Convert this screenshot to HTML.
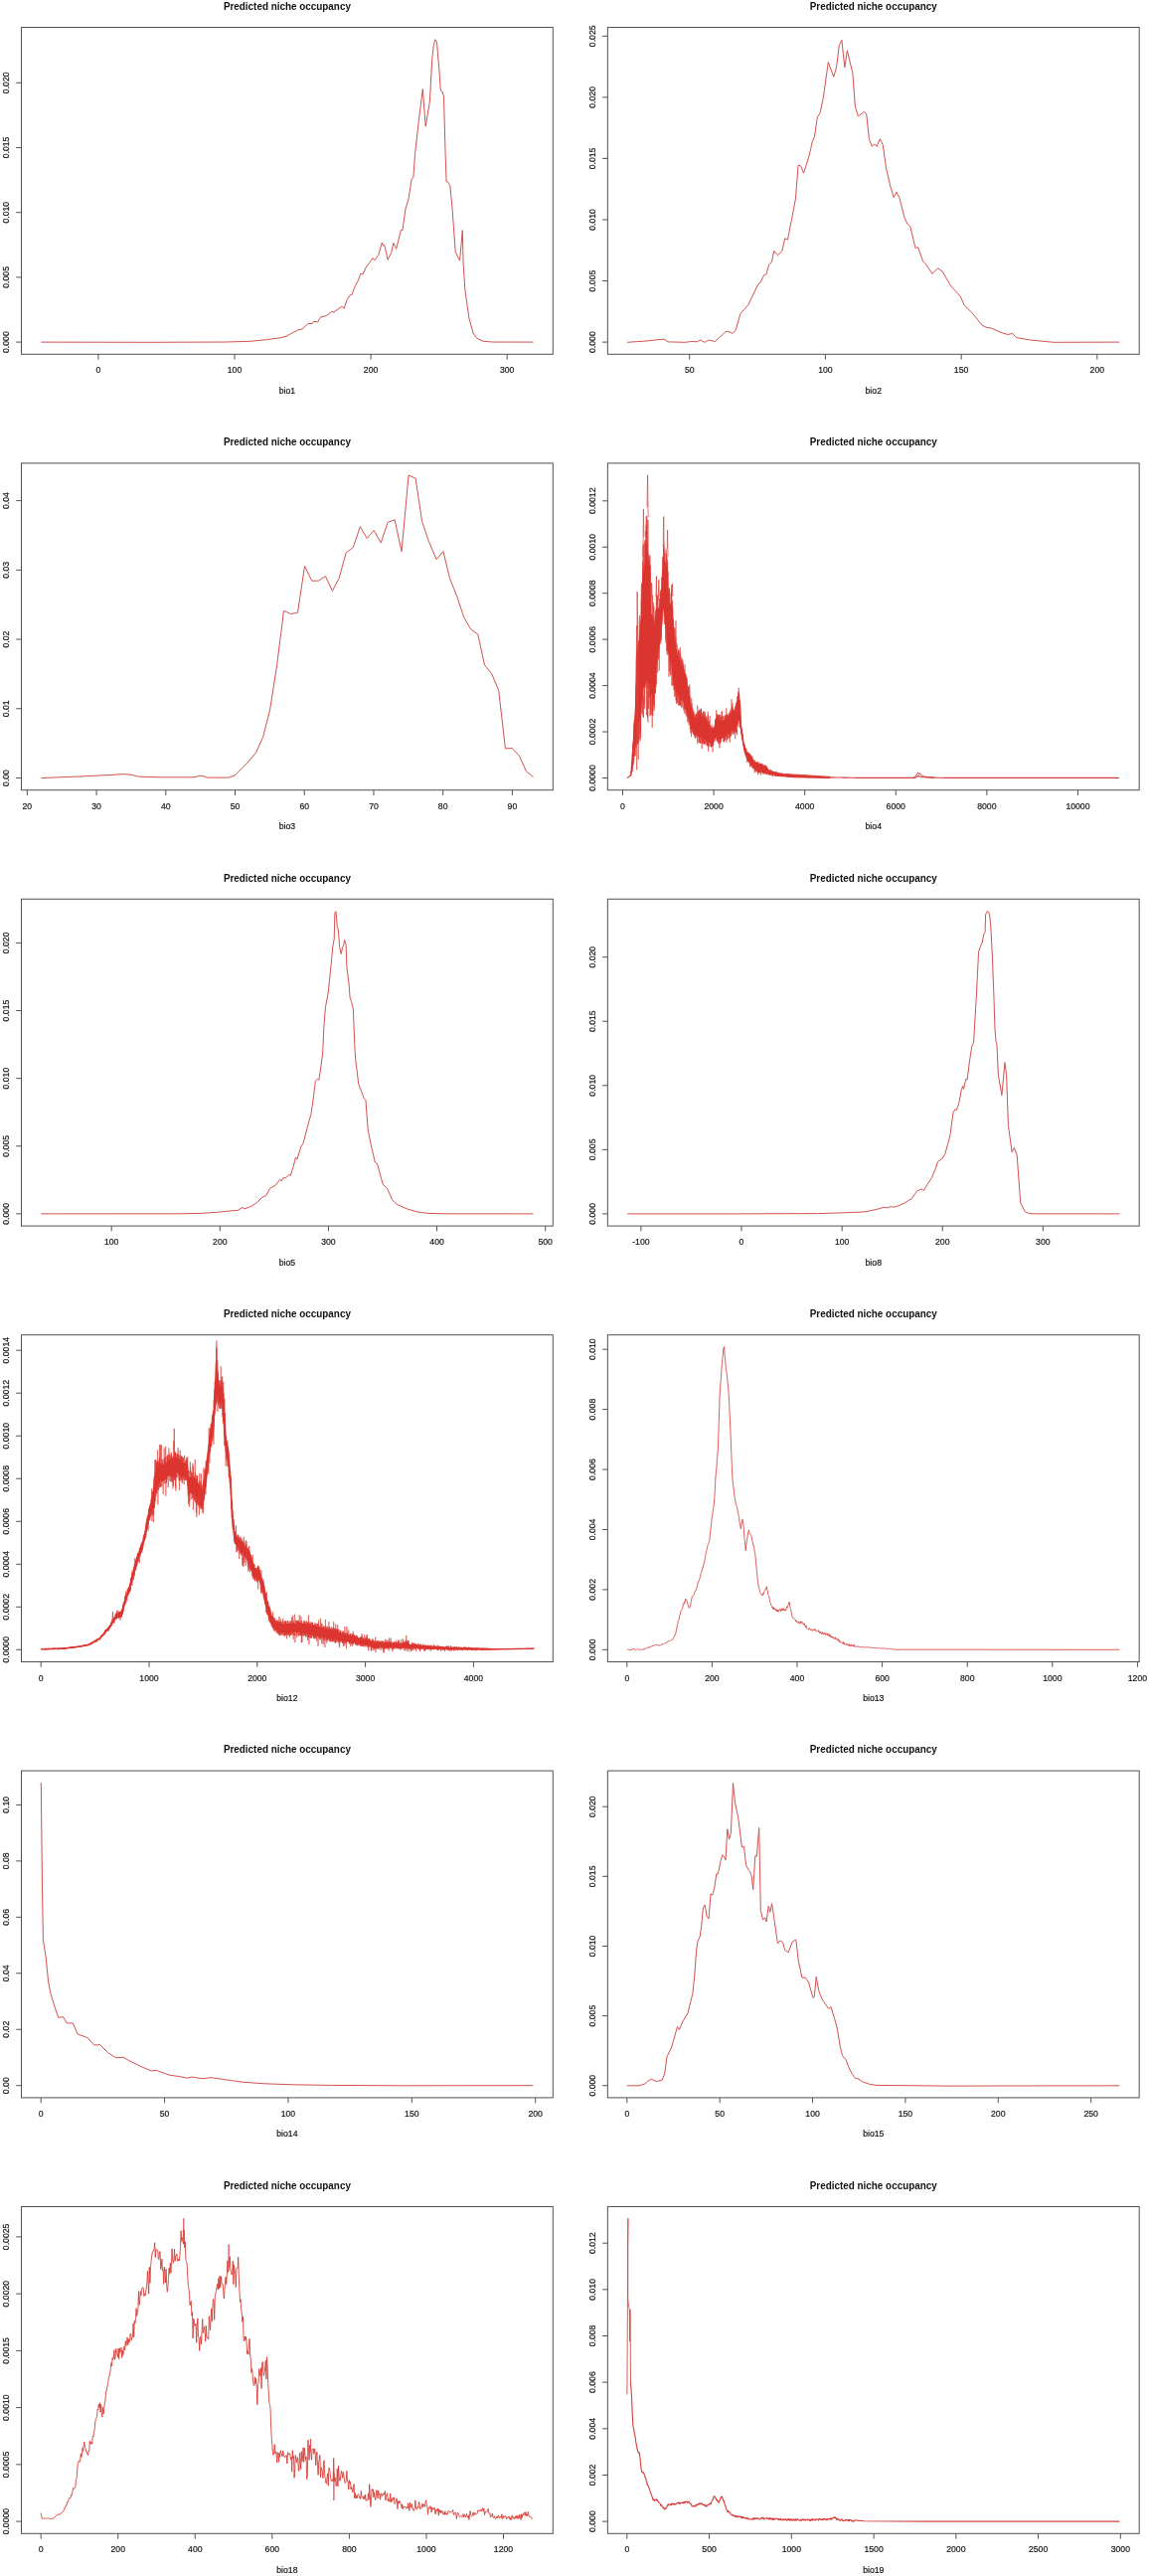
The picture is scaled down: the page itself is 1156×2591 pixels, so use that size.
<!DOCTYPE html><html><head><meta charset="utf-8"><style>html,body{margin:0;padding:0;background:#fff;}svg{display:block;will-change:transform;}text{font-family:"Liberation Sans",sans-serif;stroke:#222;stroke-width:0.22px;}</style></head><body>
<svg width="1156" height="2591" viewBox="0 0 1156 2591">
<rect width="1156" height="2591" fill="#fff"/>
<g transform="translate(0.00,0.00)">
<text transform="translate(288.9,9.8) scale(0.99,1)" font-size="10.0" font-weight="bold" style="stroke:none" text-anchor="middle" fill="#111">Predicted niche occupancy</text>
<rect x="21.5" y="27.5" width="534.8" height="328.8" fill="none" stroke="#4d5257" stroke-width="1"/>
<text transform="translate(98.90,375.4) scale(0.905,1)" font-size="9.6" text-anchor="middle" fill="#111">0</text>
<text transform="translate(236.00,375.4) scale(0.905,1)" font-size="9.6" text-anchor="middle" fill="#111">100</text>
<text transform="translate(373.10,375.4) scale(0.905,1)" font-size="9.6" text-anchor="middle" fill="#111">200</text>
<text transform="translate(510.20,375.4) scale(0.905,1)" font-size="9.6" text-anchor="middle" fill="#111">300</text>
<text transform="translate(8.9,344.10) rotate(-90) scale(0.905,1)" font-size="9.6" text-anchor="middle" fill="#111">0.000</text>
<text transform="translate(8.9,278.90) rotate(-90) scale(0.905,1)" font-size="9.6" text-anchor="middle" fill="#111">0.005</text>
<text transform="translate(8.9,213.70) rotate(-90) scale(0.905,1)" font-size="9.6" text-anchor="middle" fill="#111">0.010</text>
<text transform="translate(8.9,148.50) rotate(-90) scale(0.905,1)" font-size="9.6" text-anchor="middle" fill="#111">0.015</text>
<text transform="translate(8.9,83.30) rotate(-90) scale(0.905,1)" font-size="9.6" text-anchor="middle" fill="#111">0.020</text>
<path d="M98.90 356.3V361.60M236.00 356.3V361.60M373.10 356.3V361.60M510.20 356.3V361.60M16.20 344.10H21.5M16.20 278.90H21.5M16.20 213.70H21.5M16.20 148.50H21.5M16.20 83.30H21.5" stroke="#4d5257" stroke-width="1" fill="none"/>
<text transform="translate(288.9,395.8) scale(0.905,1)" font-size="9.6" text-anchor="middle" fill="#111">bio1</text>
</g>
<path d="M41.3 344.1 L150.0 344.3 L228.0 344.0 L252.0 343.3 L267.5 341.7 L280.0 340.1 L288.0 338.3 L292.6 335.7 L300.0 331.8 L303.9 331.0 L310.2 325.5 L314.1 325.5 L315.7 323.2 L319.6 324.0 L322.7 318.8 L328.2 317.7 L333.7 313.5 L336.0 313.8 L343.9 308.3 L346.2 310.3 L349.3 301.2 L352.5 296.5 L354.0 296.5 L357.2 287.9 L360.3 282.4 L362.7 275.4 L365.0 275.9 L368.1 269.1 L371.3 264.9 L374.9 259.7 L376.8 261.8 L380.7 256.6 L384.3 244.0 L385.4 247.2 L386.9 246.4 L390.1 261.3 L393.7 254.2 L395.9 244.5 L398.7 250.3 L403.4 231.5 L405.0 231.5 L407.8 211.1 L411.2 199.4 L414.1 180.4 L415.9 178.1 L417.5 155.3 L421.4 120.9 L425.3 89.5 L428.2 127.1 L432.4 102.1 L434.7 59.8 L436.3 45.7 L437.9 39.7 L439.4 41.8 L441.8 69.2 L443.3 91.1 L444.9 91.9 L446.5 97.4 L448.1 155.3 L449.1 182.8 L450.4 182.8 L452.8 186.7 L455.1 210.4 L458.2 253.4 L462.6 262.1 L465.3 231.5 L466.1 265.2 L467.9 291.8 L471.9 320.0 L476.3 335.7 L480.0 340.4 L486.0 343.2 L495.0 344.0 L536.5 344.1" fill="none" stroke="#d4504e" stroke-width="1.0" stroke-linejoin="round" stroke-opacity="1.0"/>
<g transform="translate(589.85,0.00)">
<text transform="translate(288.9,9.8) scale(0.99,1)" font-size="10.0" font-weight="bold" style="stroke:none" text-anchor="middle" fill="#111">Predicted niche occupancy</text>
<rect x="21.5" y="27.5" width="534.8" height="328.8" fill="none" stroke="#4d5257" stroke-width="1"/>
<text transform="translate(103.85,375.4) scale(0.905,1)" font-size="9.6" text-anchor="middle" fill="#111">50</text>
<text transform="translate(240.55,375.4) scale(0.905,1)" font-size="9.6" text-anchor="middle" fill="#111">100</text>
<text transform="translate(377.25,375.4) scale(0.905,1)" font-size="9.6" text-anchor="middle" fill="#111">150</text>
<text transform="translate(513.95,375.4) scale(0.905,1)" font-size="9.6" text-anchor="middle" fill="#111">200</text>
<text transform="translate(8.9,344.10) rotate(-90) scale(0.905,1)" font-size="9.6" text-anchor="middle" fill="#111">0.000</text>
<text transform="translate(8.9,282.54) rotate(-90) scale(0.905,1)" font-size="9.6" text-anchor="middle" fill="#111">0.005</text>
<text transform="translate(8.9,220.98) rotate(-90) scale(0.905,1)" font-size="9.6" text-anchor="middle" fill="#111">0.010</text>
<text transform="translate(8.9,159.42) rotate(-90) scale(0.905,1)" font-size="9.6" text-anchor="middle" fill="#111">0.015</text>
<text transform="translate(8.9,97.86) rotate(-90) scale(0.905,1)" font-size="9.6" text-anchor="middle" fill="#111">0.020</text>
<text transform="translate(8.9,36.30) rotate(-90) scale(0.905,1)" font-size="9.6" text-anchor="middle" fill="#111">0.025</text>
<path d="M103.85 356.3V361.60M240.55 356.3V361.60M377.25 356.3V361.60M513.95 356.3V361.60M16.20 344.10H21.5M16.20 282.54H21.5M16.20 220.98H21.5M16.20 159.42H21.5M16.20 97.86H21.5M16.20 36.30H21.5" stroke="#4d5257" stroke-width="1" fill="none"/>
<text transform="translate(288.9,395.8) scale(0.905,1)" font-size="9.6" text-anchor="middle" fill="#111">bio2</text>
</g>
<path d="M631.0 344.3 L650.0 343.0 L668.0 341.1 L672.4 343.9 L689.4 344.3 L695.7 343.5 L701.1 343.8 L704.8 342.0 L709.0 344.3 L712.9 342.0 L719.2 343.5 L724.6 338.8 L729.8 333.8 L732.5 333.3 L737.2 335.4 L740.3 331.8 L745.0 315.3 L752.8 306.7 L756.8 298.1 L762.2 287.1 L765.4 283.2 L768.5 276.9 L770.9 275.9 L773.7 266.0 L776.4 263.6 L778.7 252.4 L782.6 256.6 L786.8 252.7 L789.7 239.8 L792.5 240.9 L796.7 219.8 L800.4 200.0 L803.1 166.3 L805.4 166.6 L808.6 174.1 L814.0 156.9 L817.2 142.8 L819.5 137.3 L822.4 117.7 L825.0 113.8 L828.2 98.9 L833.3 62.6 L838.8 77.3 L841.5 67.6 L844.3 45.7 L846.9 40.2 L849.8 67.9 L852.4 50.8 L857.9 73.9 L860.3 106.8 L863.4 116.9 L869.4 112.3 L871.7 114.6 L874.4 139.7 L877.2 147.2 L879.9 145.1 L882.2 147.2 L885.3 139.7 L888.2 145.6 L891.6 169.4 L896.0 188.2 L899.1 198.6 L901.9 193.1 L905.1 199.4 L909.8 218.2 L912.9 225.2 L915.7 227.6 L921.0 249.5 L923.6 248.7 L928.6 262.8 L931.7 266.0 L938.0 275.4 L943.5 269.9 L948.1 273.0 L956.8 287.9 L966.2 298.1 L970.1 306.7 L977.9 314.6 L988.1 327.1 L992.8 329.4 L997.5 330.2 L1008.5 334.9 L1013.9 336.5 L1018.6 335.4 L1022.6 339.6 L1036.7 342.0 L1060.0 344.3 L1126.4 344.1" fill="none" stroke="#d4504e" stroke-width="1.0" stroke-linejoin="round" stroke-opacity="1.0"/>
<g transform="translate(0.00,438.40)">
<text transform="translate(288.9,9.8) scale(0.99,1)" font-size="10.0" font-weight="bold" style="stroke:none" text-anchor="middle" fill="#111">Predicted niche occupancy</text>
<rect x="21.5" y="27.5" width="534.8" height="328.8" fill="none" stroke="#4d5257" stroke-width="1"/>
<text transform="translate(27.35,375.4) scale(0.905,1)" font-size="9.6" text-anchor="middle" fill="#111">20</text>
<text transform="translate(97.07,375.4) scale(0.905,1)" font-size="9.6" text-anchor="middle" fill="#111">30</text>
<text transform="translate(166.79,375.4) scale(0.905,1)" font-size="9.6" text-anchor="middle" fill="#111">40</text>
<text transform="translate(236.51,375.4) scale(0.905,1)" font-size="9.6" text-anchor="middle" fill="#111">50</text>
<text transform="translate(306.24,375.4) scale(0.905,1)" font-size="9.6" text-anchor="middle" fill="#111">60</text>
<text transform="translate(375.96,375.4) scale(0.905,1)" font-size="9.6" text-anchor="middle" fill="#111">70</text>
<text transform="translate(445.68,375.4) scale(0.905,1)" font-size="9.6" text-anchor="middle" fill="#111">80</text>
<text transform="translate(515.40,375.4) scale(0.905,1)" font-size="9.6" text-anchor="middle" fill="#111">90</text>
<text transform="translate(8.9,344.10) rotate(-90) scale(0.905,1)" font-size="9.6" text-anchor="middle" fill="#111">0.00</text>
<text transform="translate(8.9,274.38) rotate(-90) scale(0.905,1)" font-size="9.6" text-anchor="middle" fill="#111">0.01</text>
<text transform="translate(8.9,204.65) rotate(-90) scale(0.905,1)" font-size="9.6" text-anchor="middle" fill="#111">0.02</text>
<text transform="translate(8.9,134.93) rotate(-90) scale(0.905,1)" font-size="9.6" text-anchor="middle" fill="#111">0.03</text>
<text transform="translate(8.9,65.20) rotate(-90) scale(0.905,1)" font-size="9.6" text-anchor="middle" fill="#111">0.04</text>
<path d="M27.35 356.3V361.60M97.07 356.3V361.60M166.79 356.3V361.60M236.51 356.3V361.60M306.24 356.3V361.60M375.96 356.3V361.60M445.68 356.3V361.60M515.40 356.3V361.60M16.20 344.10H21.5M16.20 274.38H21.5M16.20 204.65H21.5M16.20 134.93H21.5M16.20 65.20H21.5" stroke="#4d5257" stroke-width="1" fill="none"/>
<text transform="translate(288.9,395.8) scale(0.905,1)" font-size="9.6" text-anchor="middle" fill="#111">bio3</text>
</g>
<path d="M41.3 782.5 L80.0 781.0 L110.0 779.5 L125.3 778.6 L132.0 779.3 L139.3 781.1 L160.0 781.8 L194.9 781.8 L201.9 780.1 L209.0 782.1 L230.1 782.1 L236.4 779.8 L248.9 767.3 L257.5 757.1 L264.6 741.4 L271.6 714.0 L274.8 693.6 L278.7 668.6 L281.8 643.5 L283.7 630.0 L285.4 614.3 L292.6 617.5 L299.5 616.2 L306.5 569.4 L313.7 584.2 L320.3 584.2 L327.4 579.5 L334.4 594.4 L341.2 581.4 L348.2 555.9 L355.3 550.6 L362.3 529.7 L369.2 541.5 L376.2 533.6 L383.3 545.9 L390.0 525.5 L397.1 522.7 L404.0 554.7 L411.1 478.0 L418.1 481.1 L424.6 524.6 L431.4 544.5 L439.1 562.6 L446.0 554.6 L452.4 581.5 L459.9 600.2 L466.6 620.6 L473.8 633.1 L480.8 638.0 L487.5 668.9 L494.7 677.7 L501.7 694.4 L508.4 752.9 L515.3 752.5 L522.6 760.6 L529.5 775.9 L536.5 781.4" fill="none" stroke="#d4504e" stroke-width="1.0" stroke-linejoin="round" stroke-opacity="1.0"/>
<g transform="translate(589.85,438.40)">
<text transform="translate(288.9,9.8) scale(0.99,1)" font-size="10.0" font-weight="bold" style="stroke:none" text-anchor="middle" fill="#111">Predicted niche occupancy</text>
<rect x="21.5" y="27.5" width="534.8" height="328.8" fill="none" stroke="#4d5257" stroke-width="1"/>
<text transform="translate(36.65,375.4) scale(0.905,1)" font-size="9.6" text-anchor="middle" fill="#111">0</text>
<text transform="translate(128.24,375.4) scale(0.905,1)" font-size="9.6" text-anchor="middle" fill="#111">2000</text>
<text transform="translate(219.83,375.4) scale(0.905,1)" font-size="9.6" text-anchor="middle" fill="#111">4000</text>
<text transform="translate(311.42,375.4) scale(0.905,1)" font-size="9.6" text-anchor="middle" fill="#111">6000</text>
<text transform="translate(403.01,375.4) scale(0.905,1)" font-size="9.6" text-anchor="middle" fill="#111">8000</text>
<text transform="translate(494.60,375.4) scale(0.905,1)" font-size="9.6" text-anchor="middle" fill="#111">10000</text>
<text transform="translate(8.9,344.10) rotate(-90) scale(0.905,1)" font-size="9.6" text-anchor="middle" fill="#111">0.0000</text>
<text transform="translate(8.9,297.65) rotate(-90) scale(0.905,1)" font-size="9.6" text-anchor="middle" fill="#111">0.0002</text>
<text transform="translate(8.9,251.20) rotate(-90) scale(0.905,1)" font-size="9.6" text-anchor="middle" fill="#111">0.0004</text>
<text transform="translate(8.9,204.75) rotate(-90) scale(0.905,1)" font-size="9.6" text-anchor="middle" fill="#111">0.0006</text>
<text transform="translate(8.9,158.30) rotate(-90) scale(0.905,1)" font-size="9.6" text-anchor="middle" fill="#111">0.0008</text>
<text transform="translate(8.9,111.85) rotate(-90) scale(0.905,1)" font-size="9.6" text-anchor="middle" fill="#111">0.0010</text>
<text transform="translate(8.9,65.40) rotate(-90) scale(0.905,1)" font-size="9.6" text-anchor="middle" fill="#111">0.0012</text>
<path d="M36.65 356.3V361.60M128.24 356.3V361.60M219.83 356.3V361.60M311.42 356.3V361.60M403.01 356.3V361.60M494.60 356.3V361.60M16.20 344.10H21.5M16.20 297.65H21.5M16.20 251.20H21.5M16.20 204.75H21.5M16.20 158.30H21.5M16.20 111.85H21.5M16.20 65.40H21.5" stroke="#4d5257" stroke-width="1" fill="none"/>
<text transform="translate(288.9,395.8) scale(0.905,1)" font-size="9.6" text-anchor="middle" fill="#111">bio4</text>
</g>
<path d="M631.2 782.5 L634.8 779.4 L635.9 765.2 L636.0 763.7 L637.5 740.0 L638.0 732.6 L639.5 709.9 L640.0 678.6 L640.3 660.1 L641.5 654.0 L642.0 651.2 L643.2 644.6 L645.0 620.9 L645.3 616.3 L646.3 599.0 L646.5 592.5 L646.9 580.5 L648.4 572.1 L649.5 563.0 L651.0 546.5 L652.1 560.4 L653.9 570.9 L654.5 616.7 L655.0 617.4 L656.8 620.2 L657.7 626.6 L658.3 629.4 L659.6 616.3 L659.9 613.4 L662.4 611.6 L663.6 611.1 L665.3 596.2 L666.2 588.4 L667.2 560.8 L668.5 562.8 L668.8 564.3 L669.1 565.6 L671.4 570.9 L672.0 591.1 L672.4 604.2 L674.0 607.4 L675.6 608.0 L677.8 637.1 L678.7 643.5 L680.6 655.8 L681.6 658.7 L685.4 668.7 L688.3 673.6 L689.3 679.1 L691.2 689.9 L692.1 694.7 L694.0 704.8 L696.0 713.4 L696.9 717.0 L699.8 723.2 L703.6 719.5 L704.6 718.4 L707.4 720.9 L711.3 726.0 L713.2 728.9 L715.1 731.6 L717.0 734.2 L718.0 735.1 L719.9 725.7 L720.8 721.9 L723.7 724.2 L726.6 725.4 L727.5 724.8 L731.4 722.5 L732.3 721.3 L736.2 715.4 L740.0 715.0 L741.0 710.2 L743.3 697.0 L744.8 714.1 L745.7 730.7 L746.7 737.2 L748.6 749.6 L751.5 756.8 L755.3 761.0 L760.0 766.8 L767.0 770.3 L770.1 771.6 L774.8 775.6 L782.7 777.8 L790.5 779.2 L798.3 779.5 L798.3 781.3 L790.5 780.9 L782.7 780.3 L774.8 778.8 L770.1 777.4 L767.0 776.7 L760.0 774.1 L755.3 768.3 L751.5 763.0 L748.6 753.9 L746.7 742.2 L745.7 736.0 L744.8 728.1 L743.3 718.5 L741.0 731.0 L740.0 732.6 L736.2 734.5 L732.3 738.7 L731.4 739.4 L727.5 741.7 L726.6 742.4 L723.7 743.9 L720.8 739.9 L719.9 739.7 L718.0 745.7 L717.0 747.5 L715.1 747.0 L713.2 746.4 L711.3 745.0 L707.4 742.4 L704.6 741.2 L703.6 741.3 L699.8 739.1 L696.9 734.9 L696.0 733.2 L694.0 726.7 L692.1 720.1 L691.2 716.9 L689.3 710.0 L688.3 707.3 L685.4 701.8 L681.6 696.5 L680.6 694.4 L678.7 688.8 L677.8 683.7 L675.6 668.5 L674.0 661.9 L672.4 654.8 L672.0 650.3 L671.4 641.5 L669.1 623.7 L668.8 618.7 L668.5 613.7 L667.2 613.2 L666.2 625.5 L665.3 632.8 L663.6 647.0 L662.4 654.8 L659.9 675.2 L659.6 678.3 L658.3 695.0 L657.7 700.8 L656.8 698.9 L655.0 697.5 L654.5 697.5 L653.9 687.7 L652.1 686.1 L651.0 683.5 L649.5 687.6 L648.4 690.0 L646.9 692.4 L646.5 695.1 L646.3 698.8 L645.3 713.5 L645.0 717.8 L643.2 724.8 L642.0 727.5 L641.5 728.7 L640.3 731.5 L640.0 735.9 L639.5 745.3 L638.0 757.9 L637.5 761.5 L636.0 772.5 L635.9 773.2 L634.8 779.9 L631.2 782.5Z" fill="#dc3530" stroke="#dc3530" stroke-width="0.8" stroke-linejoin="round"/>
<path d="M631.2 782.5 L631.5 782.3 L631.7 782.1 L632.0 781.9 L632.2 781.7 L632.5 781.4 L632.7 781.2 L633.0 781.2 L633.2 780.7 L633.5 780.4 L633.7 780.3 L634.0 780.1 L634.2 780.4 L634.5 780.1 L634.7 779.5 L635.0 777.9 L635.2 774.7 L635.5 769.8 L635.7 767.3 L636.0 772.9 L636.2 757.6 L636.5 771.7 L636.7 771.2 L637.0 761.4 L637.2 769.0 L637.5 767.7 L637.7 731.3 L638.0 727.4 L638.2 750.8 L638.5 752.8 L638.7 734.4 L639.0 748.8 L639.2 760.4 L639.5 753.7 L639.7 735.6 L640.0 752.0 L640.2 682.0 L640.5 629.3 L640.7 774.3 L641.0 729.5 L641.2 746.4 L641.5 720.9 L641.7 725.7 L642.0 689.0 L642.2 764.1 L642.5 703.7 L642.7 711.2 L643.0 629.5 L643.2 624.1 L643.5 619.2 L643.7 635.8 L644.0 737.3 L644.2 727.6 L644.5 738.3 L644.7 634.7 L645.0 687.5 L645.2 603.6 L645.5 616.2 L645.7 593.9 L646.0 585.7 L646.2 717.6 L646.5 629.1 L646.7 584.8 L647.0 548.8 L647.2 637.1 L647.5 608.3 L647.7 601.6 L648.0 569.5 L648.2 588.6 L648.5 682.8 L648.7 552.4 L649.0 543.5 L649.2 611.9 L649.5 546.0 L649.7 691.5 L650.0 645.0 L650.2 519.2 L650.5 596.8 L650.7 518.9 L651.0 634.7 L651.2 672.0 L651.5 721.3 L651.7 699.7 L652.0 522.7 L652.2 691.7 L652.5 640.4 L652.7 598.3 L653.0 602.9 L653.2 643.9 L653.5 701.8 L653.7 664.8 L654.0 559.2 L654.2 583.5 L654.5 719.2 L654.7 674.0 L655.0 678.4 L655.2 607.8 L655.5 599.8 L655.7 586.5 L656.0 719.6 L656.2 638.8 L656.5 659.0 L656.7 715.2 L657.0 642.7 L657.2 649.6 L657.5 709.3 L657.7 669.5 L658.0 697.2 L658.2 714.6 L658.5 694.3 L658.7 667.6 L659.0 672.5 L659.2 672.3 L659.5 697.2 L659.7 647.7 L660.0 687.2 L660.2 687.8 L660.5 686.9 L660.7 652.1 L661.0 599.3 L661.2 676.1 L661.5 676.5 L661.7 600.0 L662.0 604.0 L662.2 599.2 L662.5 663.4 L662.7 655.1 L663.0 621.8 L663.2 629.1 L663.5 601.7 L663.7 611.5 L664.0 648.3 L664.2 611.6 L664.5 593.5 L664.7 603.3 L665.0 597.5 L665.2 643.9 L665.5 628.8 L665.7 585.6 L666.0 581.0 L666.2 614.0 L666.5 613.2 L666.7 562.2 L667.0 559.7 L667.2 600.0 L667.5 588.9 L667.7 547.0 L668.0 567.7 L668.2 622.5 L668.5 628.0 L668.7 550.6 L669.0 617.7 L669.2 572.5 L669.5 634.8 L669.7 641.9 L670.0 644.0 L670.2 611.5 L670.5 556.3 L670.7 557.7 L671.0 637.7 L671.2 658.2 L671.5 654.4 L671.7 635.5 L672.0 574.9 L672.2 644.8 L672.5 603.9 L672.7 591.7 L673.0 656.6 L673.2 603.8 L673.5 593.0 L673.7 599.2 L674.0 618.1 L674.2 670.4 L674.5 677.8 L674.7 628.9 L675.0 596.4 L675.2 664.4 L675.5 631.7 L675.7 588.6 L676.0 689.3 L676.2 684.6 L676.5 603.9 L676.7 611.9 L677.0 627.2 L677.2 624.5 L677.5 637.8 L677.7 689.6 L678.0 660.1 L678.2 693.6 L678.5 631.0 L678.7 701.1 L679.0 632.8 L679.2 689.0 L679.5 699.4 L679.7 663.6 L680.0 641.4 L680.2 703.9 L680.5 707.9 L680.7 667.4 L681.0 705.9 L681.2 647.4 L681.5 706.9 L681.7 700.5 L682.0 694.3 L682.2 700.5 L682.5 653.5 L682.7 688.7 L683.0 698.0 L683.2 664.9 L683.5 708.9 L683.7 654.6 L684.0 709.6 L684.2 706.8 L684.5 657.3 L684.7 709.6 L685.0 705.6 L685.2 704.4 L685.5 663.5 L685.7 660.9 L686.0 666.5 L686.2 699.6 L686.5 695.4 L686.7 672.6 L687.0 702.6 L687.2 687.6 L687.5 669.0 L687.7 694.2 L688.0 690.7 L688.2 698.4 L688.5 712.1 L688.7 717.5 L689.0 711.9 L689.2 677.0 L689.5 677.9 L689.7 712.6 L690.0 719.0 L690.2 678.3 L690.5 697.0 L690.7 681.1 L691.0 682.5 L691.2 700.8 L691.5 703.4 L691.7 714.0 L692.0 690.8 L692.2 718.2 L692.5 721.3 L692.7 708.1 L693.0 729.2 L693.2 711.1 L693.5 696.0 L693.7 688.6 L694.0 722.2 L694.2 733.4 L694.5 725.6 L694.7 709.7 L695.0 722.8 L695.2 719.8 L695.5 734.1 L695.7 702.4 L696.0 711.6 L696.2 736.3 L696.5 715.5 L696.7 720.3 L697.0 712.7 L697.2 737.9 L697.5 724.4 L697.7 733.7 L698.0 715.1 L698.2 716.3 L698.5 724.9 L698.7 739.7 L699.0 718.8 L699.2 718.6 L699.5 730.5 L699.7 724.8 L700.0 718.7 L700.2 732.5 L700.5 717.8 L700.7 733.0 L701.0 740.2 L701.2 716.7 L701.5 724.5 L701.7 709.5 L702.0 715.7 L702.2 719.7 L702.5 715.1 L702.7 722.9 L703.0 716.7 L703.2 744.8 L703.5 747.1 L703.7 713.8 L704.0 735.0 L704.2 747.5 L704.5 737.3 L704.7 714.7 L705.0 738.3 L705.2 712.7 L705.5 713.5 L705.7 729.7 L706.0 729.2 L706.2 730.8 L706.5 748.1 L706.7 743.6 L707.0 747.5 L707.2 735.1 L707.5 745.9 L707.7 715.6 L708.0 748.3 L708.2 726.1 L708.5 728.6 L708.7 740.1 L709.0 718.2 L709.2 718.2 L709.5 718.0 L709.7 738.8 L710.0 733.6 L710.2 720.3 L710.5 746.2 L710.7 748.4 L711.0 726.1 L711.2 723.1 L711.5 749.4 L711.7 733.0 L712.0 750.7 L712.2 715.7 L712.5 750.0 L712.7 745.7 L713.0 732.2 L713.2 727.9 L713.5 732.4 L713.7 730.5 L714.0 740.6 L714.2 728.9 L714.5 748.3 L714.7 750.6 L715.0 731.7 L715.2 748.3 L715.5 751.3 L715.7 742.4 L716.0 728.9 L716.2 742.9 L716.5 732.5 L716.7 744.9 L717.0 730.9 L717.2 736.2 L717.5 749.9 L717.7 732.7 L718.0 738.6 L718.2 732.4 L718.5 743.6 L718.7 737.9 L719.0 746.0 L719.2 734.5 L719.5 735.2 L719.7 742.2 L720.0 742.2 L720.2 742.6 L720.5 726.7 L720.7 714.2 L721.0 744.5 L721.2 737.7 L721.5 718.5 L721.7 746.0 L722.0 718.7 L722.2 742.4 L722.5 719.7 L722.7 747.6 L723.0 719.1 L723.2 739.4 L723.5 718.7 L723.7 749.3 L724.0 752.5 L724.2 719.0 L724.5 748.6 L724.7 725.3 L725.0 735.1 L725.2 746.2 L725.5 721.2 L725.7 741.5 L726.0 715.7 L726.2 723.7 L726.5 721.4 L726.7 724.7 L727.0 727.0 L727.2 729.2 L727.5 741.7 L727.7 734.2 L728.0 746.1 L728.2 726.4 L728.5 745.6 L728.7 745.3 L729.0 738.0 L729.2 736.3 L729.5 719.2 L729.7 744.3 L730.0 730.8 L730.2 729.4 L730.5 720.9 L730.7 719.7 L731.0 746.7 L731.2 741.9 L731.5 717.7 L731.7 735.5 L732.0 743.5 L732.2 731.2 L732.5 726.2 L732.7 718.6 L733.0 729.8 L733.2 741.2 L733.5 742.5 L733.7 741.8 L734.0 716.4 L734.2 740.5 L734.5 728.6 L734.7 731.3 L735.0 738.3 L735.2 721.0 L735.5 722.8 L735.7 712.4 L736.0 712.7 L736.2 738.6 L736.5 710.2 L736.7 715.3 L737.0 723.3 L737.2 711.9 L737.5 722.0 L737.7 738.3 L738.0 727.4 L738.2 735.5 L738.5 720.6 L738.7 714.7 L739.0 737.4 L739.2 724.1 L739.5 710.1 L739.7 743.2 L740.0 727.7 L740.2 723.1 L740.5 707.5 L740.7 706.3 L741.0 736.2 L741.2 719.2 L741.5 714.1 L741.7 715.7 L742.0 708.8 L742.2 716.9 L742.5 728.6 L742.7 706.7 L743.0 724.7 L743.2 691.8 L743.5 719.9 L743.7 698.5 L744.0 726.6 L744.2 714.1 L744.5 710.9 L744.7 709.6 L745.0 713.3 L745.2 721.8 L745.5 730.8 L745.7 737.3 L746.0 734.5 L746.2 738.7 L746.5 735.1 L746.7 743.6 L747.0 737.5 L747.2 746.6 L747.5 744.9 L747.7 746.2 L748.0 749.9 L748.2 750.9 L748.5 748.4 L748.7 748.8 L749.0 755.1 L749.2 748.7 L749.5 758.9 L749.7 758.7 L750.0 757.7 L750.2 752.5 L750.5 754.0 L750.7 753.8 L751.0 754.0 L751.2 754.7 L751.5 755.9 L751.7 756.3 L752.0 761.2 L752.2 759.5 L752.5 765.7 L752.7 760.4 L753.0 763.9 L753.2 759.4 L753.5 763.4 L753.7 759.2 L754.0 760.2 L754.2 757.8 L754.5 771.4 L754.7 758.3 L755.0 769.7 L755.2 766.1 L755.5 770.6 L755.7 763.4 L756.0 760.9 L756.2 760.1 L756.5 771.6 L756.7 768.5 L757.0 761.3 L757.2 768.0 L757.5 767.9 L757.7 765.9 L758.0 772.3 L758.2 773.9 L758.5 771.0 L758.7 768.0 L759.0 764.2 L759.2 777.2 L759.5 772.7 L759.7 775.8 L760.0 769.3 L760.2 768.1 L760.5 768.0 L760.7 776.2 L761.0 776.4 L761.2 775.0 L761.5 772.5 L761.7 766.9 L762.0 768.8 L762.2 770.3 L762.5 774.4 L762.7 779.4 L763.0 772.3 L763.2 772.4 L763.5 777.2 L763.7 767.8 L764.0 771.6 L764.2 777.0 L764.5 767.5 L764.7 772.9 L765.0 767.7 L765.2 778.0 L765.5 779.7 L765.7 777.8 L766.0 769.9 L766.2 768.2 L766.5 775.1 L766.7 776.1 L767.0 768.8 L767.2 778.3 L767.5 775.0 L767.7 772.8 L768.0 770.6 L768.2 772.4 L768.5 769.7 L768.7 774.6 L769.0 778.6 L769.2 774.6 L769.5 774.2 L769.7 773.6 L770.0 773.6 L770.2 773.5 L770.5 770.7 L770.7 779.1 L771.0 769.8 L771.2 771.5 L771.5 778.1 L771.7 773.8 L772.0 777.9 L772.2 775.2 L772.5 772.4 L772.7 774.2 L773.0 777.4 L773.2 779.2 L773.5 774.4 L773.7 778.5 L774.0 776.8 L774.2 779.6 L774.5 778.5 L774.7 775.8 L775.0 779.6 L775.2 776.6 L775.5 777.0 L775.7 779.7 L776.0 778.7 L776.2 775.6 L776.5 775.3 L776.7 778.7 L777.0 775.8 L777.2 781.3 L777.5 776.4 L777.7 780.1 L778.0 777.8 L778.2 778.6 L778.5 778.1 L778.7 778.6 L779.0 778.2 L779.2 776.3 L779.5 779.7 L779.7 778.8 L780.0 780.6 L780.2 780.4 L780.5 776.7 L780.7 780.5 L781.0 776.9 L781.2 779.7 L781.5 776.9 L781.7 780.4 L782.0 776.9 L782.2 779.8 L782.5 780.8 L782.7 777.7 L783.0 780.9 L783.2 780.6 L783.5 777.8 L783.7 777.6 L784.0 781.1 L784.2 779.3 L784.5 778.9 L784.7 780.9 L785.0 777.9 L785.2 781.1 L785.5 777.7 L785.7 778.8 L786.0 780.6 L786.2 778.0 L786.5 781.1 L786.7 778.4 L787.0 779.8 L787.2 781.2 L787.5 779.6 L787.7 781.3 L788.0 778.3 L788.2 781.0 L788.5 780.9 L788.7 779.2 L789.0 780.0 L789.2 780.7 L789.5 780.5 L789.7 781.1 L790.0 778.8 L790.2 780.6 L790.5 778.7 L790.7 779.3 L791.0 778.7 L791.2 780.8 L791.5 780.9 L791.7 778.9 L792.0 779.7 L792.2 778.9 L792.5 779.6 L792.7 779.2 L793.0 780.9 L793.2 778.9 L793.5 781.4 L793.7 781.2 L794.0 779.2 L794.2 779.0 L794.5 779.4 L794.7 778.9 L795.0 781.8 L795.2 779.5 L795.5 779.2 L795.7 779.4 L796.0 780.7 L796.2 781.2 L796.5 780.6 L796.7 781.7 L797.0 779.6 L797.2 781.7 L797.5 779.0 L797.7 779.7 L798.0 781.6 L798.2 781.0 L798.5 779.8 L798.7 781.0 L799.0 781.8 L799.2 781.7 L799.5 781.7 L799.7 781.8 L800.0 779.2" fill="none" stroke="#dc3530" stroke-width="0.55" stroke-linejoin="round" stroke-opacity="1.0"/>
<path d="M631.2 782.5 L631.5 782.3 L631.7 782.1 L632.0 782.0 L632.2 781.6 L632.5 781.4 L632.7 781.2 L633.0 781.0 L633.2 780.7 L633.5 780.9 L633.7 780.6 L634.0 780.1 L634.2 780.4 L634.5 780.2 L634.7 779.9 L635.0 777.4 L635.2 775.1 L635.5 769.9 L635.7 766.0 L636.0 767.4 L636.2 776.4 L636.5 760.7 L636.7 747.0 L637.0 761.4 L637.2 752.0 L637.5 741.6 L637.7 766.4 L638.0 757.7 L638.2 724.3 L638.5 760.8 L638.7 753.8 L639.0 743.1 L639.2 718.2 L639.5 702.4 L639.7 750.9 L640.0 689.5 L640.2 743.9 L640.5 747.6 L640.7 684.5 L641.0 732.0 L641.2 639.5 L641.5 748.7 L641.7 743.2 L642.0 659.5 L642.2 747.9 L642.5 644.0 L642.7 724.1 L643.0 744.1 L643.2 709.3 L643.5 690.2 L643.7 743.0 L644.0 745.8 L644.2 625.5 L644.5 742.8 L644.7 742.0 L645.0 630.8 L645.2 590.7 L645.5 587.3 L645.7 659.2 L646.0 611.1 L646.2 686.5 L646.5 565.7 L646.7 716.4 L647.0 720.8 L647.2 700.6 L647.5 722.1 L647.7 546.8 L648.0 594.6 L648.2 708.6 L648.5 682.6 L648.7 713.1 L649.0 543.5 L649.2 578.8 L649.5 609.1 L649.7 534.2 L650.0 539.9 L650.2 528.2 L650.5 719.3 L650.7 635.2 L651.0 665.3 L651.2 523.5 L651.5 721.4 L651.7 716.5 L652.0 726.6 L652.2 604.5 L652.5 712.9 L652.7 628.7 L653.0 620.0 L653.2 557.8 L653.5 673.5 L653.7 708.0 L654.0 720.3 L654.2 568.8 L654.5 709.7 L654.7 689.9 L655.0 717.8 L655.2 702.9 L655.5 633.1 L655.7 667.1 L656.0 622.2 L656.2 732.1 L656.5 598.7 L656.7 720.1 L657.0 718.6 L657.2 619.8 L657.5 606.2 L657.7 629.2 L658.0 610.4 L658.2 707.2 L658.5 710.9 L658.7 630.3 L659.0 678.3 L659.2 697.2 L659.5 651.8 L659.7 629.9 L660.0 691.1 L660.2 598.8 L660.5 596.9 L660.7 597.7 L661.0 630.7 L661.2 599.4 L661.5 635.6 L661.7 613.8 L662.0 653.8 L662.2 612.6 L662.5 628.0 L662.7 647.3 L663.0 627.4 L663.2 674.7 L663.5 654.3 L663.7 642.1 L664.0 614.0 L664.2 604.1 L664.5 596.5 L664.7 646.2 L665.0 645.4 L665.2 643.7 L665.5 641.2 L665.7 580.7 L666.0 583.1 L666.2 579.0 L666.5 573.5 L666.7 597.5 L667.0 596.8 L667.2 595.9 L667.5 547.3 L667.7 574.9 L668.0 569.0 L668.2 581.6 L668.5 620.1 L668.7 556.4 L669.0 585.9 L669.2 591.8 L669.5 625.2 L669.7 574.0 L670.0 646.7 L670.2 552.6 L670.5 610.1 L670.7 654.9 L671.0 560.5 L671.2 603.0 L671.5 653.4 L671.7 564.0 L672.0 658.7 L672.2 624.0 L672.5 668.8 L672.7 669.9 L673.0 680.8 L673.2 670.5 L673.5 591.4 L673.7 675.2 L674.0 647.3 L674.2 673.5 L674.5 679.4 L674.7 678.5 L675.0 678.3 L675.2 628.9 L675.5 593.2 L675.7 597.1 L676.0 677.8 L676.2 688.2 L676.5 689.8 L676.7 611.0 L677.0 678.2 L677.2 645.4 L677.5 622.2 L677.7 627.9 L678.0 669.0 L678.2 694.5 L678.5 670.8 L678.7 670.7 L679.0 670.8 L679.2 681.3 L679.5 654.8 L679.7 651.1 L680.0 624.2 L680.2 704.2 L680.5 653.7 L680.7 675.0 L681.0 673.3 L681.2 656.7 L681.5 665.9 L681.7 689.4 L682.0 689.2 L682.2 709.6 L682.5 702.2 L682.7 653.5 L683.0 708.3 L683.2 707.3 L683.5 664.0 L683.7 702.3 L684.0 709.6 L684.2 651.3 L684.5 707.7 L684.7 706.3 L685.0 664.2 L685.2 685.6 L685.5 698.4 L685.7 711.6 L686.0 663.9 L686.2 711.3 L686.5 709.4 L686.7 663.0 L687.0 673.7 L687.2 666.2 L687.5 713.7 L687.7 714.3 L688.0 703.4 L688.2 685.3 L688.5 712.6 L688.7 693.0 L689.0 668.3 L689.2 704.0 L689.5 713.6 L689.7 707.6 L690.0 685.5 L690.2 681.3 L690.5 701.5 L690.7 720.8 L691.0 715.5 L691.2 682.7 L691.5 717.6 L691.7 726.1 L692.0 704.4 L692.2 717.3 L692.5 690.0 L692.7 700.3 L693.0 714.6 L693.2 726.5 L693.5 700.9 L693.7 691.8 L694.0 707.4 L694.2 699.8 L694.5 723.9 L694.7 734.8 L695.0 737.7 L695.2 721.3 L695.5 741.1 L695.7 737.9 L696.0 707.6 L696.2 734.7 L696.5 712.6 L696.7 714.5 L697.0 714.6 L697.2 720.8 L697.5 738.7 L697.7 717.8 L698.0 736.9 L698.2 732.8 L698.5 740.9 L698.7 723.6 L699.0 740.0 L699.2 740.8 L699.5 743.1 L699.7 723.6 L700.0 726.7 L700.2 742.1 L700.5 735.6 L700.7 727.6 L701.0 721.2 L701.2 735.3 L701.5 744.6 L701.7 748.4 L702.0 732.1 L702.2 716.5 L702.5 715.7 L702.7 727.6 L703.0 746.7 L703.2 717.7 L703.5 715.3 L703.7 732.7 L704.0 713.5 L704.2 745.5 L704.5 747.5 L704.7 737.0 L705.0 731.1 L705.2 747.8 L705.5 712.9 L705.7 729.8 L706.0 735.5 L706.2 753.1 L706.5 742.0 L706.7 716.9 L707.0 745.2 L707.2 748.1 L707.5 716.0 L707.7 745.7 L708.0 715.7 L708.2 716.7 L708.5 748.2 L708.7 744.9 L709.0 749.2 L709.2 715.6 L709.5 747.7 L709.7 738.7 L710.0 722.1 L710.2 729.7 L710.5 744.1 L710.7 721.0 L711.0 750.0 L711.2 750.1 L711.5 735.3 L711.7 725.2 L712.0 738.3 L712.2 719.4 L712.5 749.8 L712.7 755.9 L713.0 727.3 L713.2 751.2 L713.5 747.5 L713.7 724.8 L714.0 728.1 L714.2 720.0 L714.5 737.4 L714.7 745.5 L715.0 735.9 L715.2 742.0 L715.5 751.3 L715.7 736.8 L716.0 751.1 L716.2 746.2 L716.5 751.0 L716.7 741.9 L717.0 756.5 L717.2 744.1 L717.5 737.4 L717.7 749.3 L718.0 745.9 L718.2 731.0 L718.5 736.5 L718.7 737.1 L719.0 740.4 L719.2 741.7 L719.5 723.5 L719.7 743.3 L720.0 741.6 L720.2 722.9 L720.5 727.2 L720.7 742.3 L721.0 722.9 L721.2 745.4 L721.5 718.2 L721.7 734.3 L722.0 741.2 L722.2 740.9 L722.5 747.3 L722.7 730.8 L723.0 739.9 L723.2 747.9 L723.5 737.6 L723.7 737.8 L724.0 743.2 L724.2 720.6 L724.5 719.5 L724.7 719.6 L725.0 746.4 L725.2 744.4 L725.5 725.7 L725.7 723.0 L726.0 724.5 L726.2 728.0 L726.5 715.2 L726.7 735.0 L727.0 730.6 L727.2 732.8 L727.5 720.6 L727.7 722.6 L728.0 720.0 L728.2 746.7 L728.5 740.8 L728.7 730.4 L729.0 721.6 L729.2 726.1 L729.5 744.8 L729.7 719.2 L730.0 741.5 L730.2 734.4 L730.5 719.7 L730.7 712.4 L731.0 718.1 L731.2 744.0 L731.5 733.3 L731.7 724.2 L732.0 719.2 L732.2 723.8 L732.5 728.3 L732.7 720.9 L733.0 742.8 L733.2 719.1 L733.5 717.5 L733.7 719.9 L734.0 731.6 L734.2 746.6 L734.5 730.0 L734.7 714.2 L735.0 740.7 L735.2 726.4 L735.5 740.5 L735.7 739.0 L736.0 703.2 L736.2 710.9 L736.5 715.4 L736.7 735.8 L737.0 707.5 L737.2 728.7 L737.5 735.6 L737.7 732.2 L738.0 738.7 L738.2 713.0 L738.5 722.6 L738.7 715.6 L739.0 736.7 L739.2 723.2 L739.5 735.1 L739.7 722.1 L740.0 718.6 L740.2 735.9 L740.5 708.3 L740.7 737.1 L741.0 736.2 L741.2 733.8 L741.5 739.1 L741.7 700.4 L742.0 731.1 L742.2 728.2 L742.5 696.5 L742.7 695.5 L743.0 714.5 L743.2 713.9 L743.5 724.9 L743.7 709.9 L744.0 727.7 L744.2 732.2 L744.5 704.3 L744.7 726.8 L745.0 732.7 L745.2 730.4 L745.5 724.0 L745.7 729.2 L746.0 737.3 L746.2 740.6 L746.5 732.9 L746.7 743.5 L747.0 739.6 L747.2 739.2 L747.5 746.7 L747.7 749.0 L748.0 749.1 L748.2 748.3 L748.5 750.6 L748.7 748.7 L749.0 755.1 L749.2 756.9 L749.5 757.7 L749.7 754.3 L750.0 751.8 L750.2 759.7 L750.5 760.3 L750.7 757.5 L751.0 761.1 L751.2 758.0 L751.5 766.8 L751.7 758.2 L752.0 763.5 L752.2 763.6 L752.5 756.1 L752.7 766.5 L753.0 766.6 L753.2 762.1 L753.5 757.1 L753.7 767.0 L754.0 767.7 L754.2 759.5 L754.5 767.2 L754.7 762.3 L755.0 759.7 L755.2 759.0 L755.5 763.0 L755.7 760.3 L756.0 765.9 L756.2 771.2 L756.5 771.7 L756.7 772.0 L757.0 771.5 L757.2 769.0 L757.5 772.8 L757.7 767.5 L758.0 770.2 L758.2 772.7 L758.5 765.1 L758.7 769.7 L759.0 771.5 L759.2 768.4 L759.5 771.2 L759.7 772.2 L760.0 767.3 L760.2 771.1 L760.5 773.8 L760.7 767.4 L761.0 775.3 L761.2 766.3 L761.5 771.8 L761.7 776.7 L762.0 775.4 L762.2 765.9 L762.5 777.0 L762.7 766.2 L763.0 771.4 L763.2 777.3 L763.5 776.2 L763.7 774.4 L764.0 769.4 L764.2 769.9 L764.5 776.9 L764.7 768.6 L765.0 777.7 L765.2 773.6 L765.5 772.0 L765.7 768.4 L766.0 773.4 L766.2 768.1 L766.5 772.6 L766.7 768.7 L767.0 770.7 L767.2 768.6 L767.5 774.3 L767.7 771.6 L768.0 776.6 L768.2 778.6 L768.5 777.0 L768.7 769.4 L769.0 772.2 L769.2 769.6 L769.5 769.7 L769.7 771.0 L770.0 769.9 L770.2 771.7 L770.5 770.6 L770.7 773.2 L771.0 771.0 L771.2 776.9 L771.5 771.4 L771.7 779.1 L772.0 775.6 L772.2 774.3 L772.5 775.2 L772.7 776.3 L773.0 775.6 L773.2 774.5 L773.5 779.3 L773.7 779.4 L774.0 778.9 L774.2 774.3 L774.5 775.0 L774.7 779.3 L775.0 775.1 L775.2 776.6 L775.5 773.9 L775.7 779.0 L776.0 775.6 L776.2 776.6 L776.5 778.9 L776.7 777.7 L777.0 776.3 L777.2 775.6 L777.5 775.6 L777.7 780.1 L778.0 777.9 L778.2 778.0 L778.5 775.9 L778.7 776.4 L779.0 776.0 L779.2 776.9 L779.5 780.5 L779.7 778.8 L780.0 779.3 L780.2 779.8 L780.5 778.8 L780.7 777.6 L781.0 775.6 L781.2 780.5 L781.5 779.6 L781.7 779.2 L782.0 777.1 L782.2 780.9 L782.5 779.5 L782.7 780.2 L783.0 777.3 L783.2 779.7 L783.5 780.3 L783.7 777.8 L784.0 779.7 L784.2 781.0 L784.5 778.2 L784.7 777.7 L785.0 778.2 L785.2 779.0 L785.5 780.9 L785.7 779.2 L786.0 781.0 L786.2 779.9 L786.5 781.0 L786.7 777.4 L787.0 778.1 L787.2 779.7 L787.5 780.2 L787.7 780.4 L788.0 780.8 L788.2 778.5 L788.5 779.2 L788.7 780.5 L789.0 779.0 L789.2 778.6 L789.5 779.8 L789.7 778.8 L790.0 778.6 L790.2 780.3 L790.5 778.8 L790.7 780.1 L791.0 781.2 L791.2 779.2 L791.5 778.9 L791.7 781.5 L792.0 778.8 L792.2 781.2 L792.5 778.8 L792.7 781.0 L793.0 779.3 L793.2 781.9 L793.5 781.0 L793.7 780.3 L794.0 781.2 L794.2 781.4 L794.5 778.9 L794.7 779.2 L795.0 781.3 L795.2 781.4 L795.5 780.3 L795.7 779.5 L796.0 781.5 L796.2 779.0 L796.5 781.6 L796.7 779.1 L797.0 779.1 L797.2 781.7 L797.5 781.3 L797.7 779.1 L798.0 779.7 L798.2 779.7 L798.5 779.3 L798.7 781.3 L799.0 780.5 L799.2 779.9 L799.5 781.6 L799.7 780.1 L800.0 781.7" fill="none" stroke="#dc3530" stroke-width="0.55" stroke-linejoin="round" stroke-opacity="1.0"/>
<path d="M790.5 778.7 L806.2 779.4 L829.7 781.0 L835.0 781.2 L835.0 782.6 L829.7 782.6 L798.3 781.8Z" fill="#dc3a36" stroke="#dc3a36" stroke-width="0.8" stroke-linejoin="round"/>
<path d="M790.0 779.3 L790.4 781.3 L790.8 778.7 L791.2 779.0 L791.6 780.4 L792.0 778.8 L792.4 779.3 L792.8 778.8 L793.2 781.4 L793.6 778.8 L794.0 778.9 L794.4 780.0 L794.8 780.9 L795.2 779.3 L795.6 781.5 L796.0 781.0 L796.4 780.7 L796.8 779.8 L797.2 779.5 L797.6 781.8 L798.0 781.8 L798.4 779.5 L798.8 779.9 L799.2 781.5 L799.6 781.8 L800.0 779.8 L800.4 779.3 L800.8 781.3 L801.2 781.3 L801.6 779.3 L802.0 781.0 L802.4 780.9 L802.8 781.9 L803.2 779.6 L803.6 779.4 L804.0 779.4 L804.4 781.8 L804.8 781.4 L805.2 779.4 L805.6 779.6 L806.0 779.4 L806.4 782.0 L806.8 781.7 L807.2 781.2 L807.6 779.8 L808.0 780.0 L808.4 781.1 L808.8 781.2 L809.2 779.6 L809.6 781.9 L810.0 780.8 L810.4 782.0 L810.8 781.0 L811.2 781.5 L811.6 781.6 L812.0 781.8 L812.4 782.0 L812.8 781.4 L813.2 780.5 L813.6 779.9 L814.0 782.2 L814.4 781.7 L814.8 782.2 L815.2 781.3 L815.6 780.8 L816.0 781.0 L816.4 780.4 L816.8 781.4 L817.2 781.6 L817.6 780.2 L818.0 782.3 L818.4 780.3 L818.8 780.5 L819.2 782.1 L819.6 781.0 L820.0 781.2 L820.4 781.9 L820.8 780.5 L821.2 780.6 L821.6 781.9 L822.0 782.4 L822.4 780.9 L822.8 782.4 L823.2 782.0 L823.6 780.7 L824.0 782.4 L824.4 782.1 L824.8 782.1 L825.2 780.8 L825.6 781.4 L826.0 781.1 L826.4 781.6 L826.8 782.4 L827.2 780.9 L827.6 781.5 L828.0 782.5 L828.4 780.9 L828.8 782.5 L829.2 781.0 L829.6 782.6 L830.0 781.2 L830.4 781.4 L830.8 782.6 L831.2 782.3 L831.6 782.2 L832.0 781.8 L832.4 782.0 L832.8 782.6 L833.2 781.9 L833.6 782.1 L834.0 782.0 L834.4 781.2 L834.8 781.5" fill="none" stroke="#dc3530" stroke-width="0.5" stroke-linejoin="round" stroke-opacity="1.0"/>
<path d="M830.0 781.8 L832.0 781.8 L834.0 781.9 L836.0 781.9 L838.0 781.9 L840.0 782.0 L842.0 782.0 L844.0 782.0 L846.0 782.0 L848.0 782.1 L850.0 782.1 L852.0 782.1 L854.0 782.2 L856.0 782.2 L858.0 782.2 L860.0 782.3 L862.0 782.3 L864.0 782.3 L866.0 782.3 L868.0 782.3 L870.0 782.3 L872.0 782.3 L874.0 782.3 L876.0 782.3 L878.0 782.3 L880.0 782.3 L882.0 782.3 L884.0 782.4 L886.0 782.4 L888.0 782.4 L890.0 782.4 L892.0 782.4 L894.0 782.4 L896.0 782.4 L898.0 782.4 L900.0 782.4 L902.0 782.4 L904.0 782.4 L906.0 782.4 L908.0 782.4 L910.0 782.4 L912.0 782.4 L914.0 782.4 L916.0 782.4 L918.0 782.4 L920.0 782.4 L922.0 781.5 L924.0 780.3 L926.0 781.2 L928.0 781.7 L930.0 781.8 L932.0 781.9 L934.0 782.0 L936.0 782.1 L938.0 782.1 L940.0 782.1 L942.0 782.2 L944.0 782.2 L946.0 782.2 L948.0 782.2 L950.0 782.3 L952.0 782.3 L954.0 782.3 L956.0 782.3 L958.0 782.3 L960.0 782.3 L962.0 782.3 L964.0 782.3 L966.0 782.3 L968.0 782.3 L970.0 782.3 L972.0 782.3 L974.0 782.3 L976.0 782.3 L978.0 782.3 L980.0 782.3 L982.0 782.3 L984.0 782.3 L986.0 782.3 L988.0 782.3 L990.0 782.3 L992.0 782.3 L994.0 782.3 L996.0 782.3 L998.0 782.3 L1000.0 782.3 L1002.0 782.3 L1004.0 782.3 L1006.0 782.3 L1008.0 782.3 L1010.0 782.3 L1012.0 782.3 L1014.0 782.3 L1016.0 782.3 L1018.0 782.3 L1020.0 782.3 L1022.0 782.3 L1024.0 782.3 L1026.0 782.3 L1028.0 782.4 L1030.0 782.4 L1032.0 782.4 L1034.0 782.4 L1036.0 782.4 L1038.0 782.4 L1040.0 782.4 L1042.0 782.4 L1044.0 782.4 L1046.0 782.4 L1048.0 782.4 L1050.0 782.4 L1052.0 782.4 L1054.0 782.4 L1056.0 782.4 L1058.0 782.4 L1060.0 782.4 L1062.0 782.4 L1064.0 782.4 L1066.0 782.4 L1068.0 782.4 L1070.0 782.4 L1072.0 782.4 L1074.0 782.4 L1076.0 782.4 L1078.0 782.4 L1080.0 782.4 L1082.0 782.4 L1084.0 782.4 L1086.0 782.4 L1088.0 782.4 L1090.0 782.4 L1092.0 782.4 L1094.0 782.4 L1096.0 782.4 L1098.0 782.4 L1100.0 782.4 L1102.0 782.4 L1104.0 782.4 L1106.0 782.4 L1108.0 782.4 L1110.0 782.4 L1112.0 782.4 L1114.0 782.4 L1116.0 782.4 L1118.0 782.4 L1120.0 782.4 L1122.0 782.4 L1124.0 782.4 L1126.0 782.4" fill="none" stroke="#d83c38" stroke-width="1.15" stroke-linejoin="round" stroke-opacity="1.0"/>
<path d="M641.1 749.0 L641.1 595.2 L641.6 640.0" fill="none" stroke="#dc4a46" stroke-width="0.8" stroke-linejoin="round" stroke-opacity="1.0"/>
<path d="M646.9 560.0 L647.4 512.2 L647.9 540.0" fill="none" stroke="#dc4a46" stroke-width="0.8" stroke-linejoin="round" stroke-opacity="1.0"/>
<path d="M651.0 510.0 L651.6 477.8 L652.1 520.0" fill="none" stroke="#dc4a46" stroke-width="0.8" stroke-linejoin="round" stroke-opacity="1.0"/>
<path d="M655.0 596.0 L655.5 586.4 L656.0 600.0" fill="none" stroke="#dc4a46" stroke-width="0.8" stroke-linejoin="round" stroke-opacity="1.0"/>
<path d="M660.0 600.0 L660.4 579.6 L660.8 600.0" fill="none" stroke="#dc4a46" stroke-width="0.8" stroke-linejoin="round" stroke-opacity="1.0"/>
<path d="M662.5 600.0 L662.8 583.2 L663.2 600.0" fill="none" stroke="#dc4a46" stroke-width="0.8" stroke-linejoin="round" stroke-opacity="1.0"/>
<path d="M667.3 550.0 L667.7 519.5 L668.1 550.0" fill="none" stroke="#dc4a46" stroke-width="0.8" stroke-linejoin="round" stroke-opacity="1.0"/>
<path d="M671.2 552.0 L671.6 533.1 L672.0 560.0" fill="none" stroke="#dc4a46" stroke-width="0.8" stroke-linejoin="round" stroke-opacity="1.0"/>
<path d="M676.0 595.0 L676.4 586.9 L676.8 600.0" fill="none" stroke="#dc4a46" stroke-width="0.8" stroke-linejoin="round" stroke-opacity="1.0"/>
<path d="M919.0 782.3 L921.5 780.5 L922.8 778.2 L923.6 776.9 L924.4 778.6 L925.3 777.8 L926.5 779.6 L928.5 780.6 L932.0 781.5 L940.0 782.1" fill="none" stroke="#d83c38" stroke-width="1.0" stroke-linejoin="round" stroke-opacity="1.0"/>
<g transform="translate(0.00,876.80)">
<text transform="translate(288.9,9.8) scale(0.99,1)" font-size="10.0" font-weight="bold" style="stroke:none" text-anchor="middle" fill="#111">Predicted niche occupancy</text>
<rect x="21.5" y="27.5" width="534.8" height="328.8" fill="none" stroke="#4d5257" stroke-width="1"/>
<text transform="translate(112.20,375.4) scale(0.905,1)" font-size="9.6" text-anchor="middle" fill="#111">100</text>
<text transform="translate(221.32,375.4) scale(0.905,1)" font-size="9.6" text-anchor="middle" fill="#111">200</text>
<text transform="translate(330.45,375.4) scale(0.905,1)" font-size="9.6" text-anchor="middle" fill="#111">300</text>
<text transform="translate(439.57,375.4) scale(0.905,1)" font-size="9.6" text-anchor="middle" fill="#111">400</text>
<text transform="translate(548.70,375.4) scale(0.905,1)" font-size="9.6" text-anchor="middle" fill="#111">500</text>
<text transform="translate(8.9,344.10) rotate(-90) scale(0.905,1)" font-size="9.6" text-anchor="middle" fill="#111">0.000</text>
<text transform="translate(8.9,275.98) rotate(-90) scale(0.905,1)" font-size="9.6" text-anchor="middle" fill="#111">0.005</text>
<text transform="translate(8.9,207.85) rotate(-90) scale(0.905,1)" font-size="9.6" text-anchor="middle" fill="#111">0.010</text>
<text transform="translate(8.9,139.73) rotate(-90) scale(0.905,1)" font-size="9.6" text-anchor="middle" fill="#111">0.015</text>
<text transform="translate(8.9,71.60) rotate(-90) scale(0.905,1)" font-size="9.6" text-anchor="middle" fill="#111">0.020</text>
<path d="M112.20 356.3V361.60M221.32 356.3V361.60M330.45 356.3V361.60M439.57 356.3V361.60M548.70 356.3V361.60M16.20 344.10H21.5M16.20 275.98H21.5M16.20 207.85H21.5M16.20 139.73H21.5M16.20 71.60H21.5" stroke="#4d5257" stroke-width="1" fill="none"/>
<text transform="translate(288.9,395.8) scale(0.905,1)" font-size="9.6" text-anchor="middle" fill="#111">bio5</text>
</g>
<path d="M41.3 1220.9 L120.0 1220.8 L182.7 1220.8 L203.6 1220.3 L217.5 1219.4 L231.4 1218.0 L239.4 1217.3 L244.0 1214.5 L246.0 1216.0 L253.5 1212.9 L258.2 1209.8 L263.7 1204.3 L267.6 1202.7 L271.5 1195.4 L277.0 1192.3 L281.7 1186.3 L283.3 1187.9 L285.6 1184.0 L287.2 1185.0 L291.1 1181.3 L292.4 1182.4 L295.0 1173.8 L297.4 1164.1 L298.9 1166.2 L302.8 1153.4 L305.2 1149.5 L310.7 1128.3 L313.0 1120.5 L315.4 1103.3 L317.4 1087.3 L319.3 1085.3 L320.9 1086.3 L323.2 1070.4 L324.6 1060.0 L326.0 1030.5 L327.5 1012.8 L330.1 999.2 L332.2 979.4 L333.8 962.7 L334.8 952.2 L336.2 944.9 L336.9 917.8 L338.0 916.7 L339.3 932.4 L340.4 935.0 L341.6 952.2 L343.2 959.5 L344.8 952.2 L345.6 951.2 L346.6 945.4 L348.1 950.1 L348.9 973.1 L351.0 988.8 L352.1 1003.4 L353.6 1007.6 L355.4 1014.9 L356.2 1035.8 L357.0 1055.0 L357.7 1065.7 L360.8 1090.7 L366.3 1104.8 L367.9 1106.4 L370.2 1136.2 L373.3 1151.8 L377.3 1169.1 L379.6 1170.6 L385.1 1191.0 L389.8 1195.7 L394.5 1206.7 L399.2 1211.4 L410.0 1216.1 L420.0 1219.0 L430.0 1220.3 L445.0 1220.8 L536.5 1220.9" fill="none" stroke="#d4504e" stroke-width="1.0" stroke-linejoin="round" stroke-opacity="1.0"/>
<g transform="translate(589.85,876.80)">
<text transform="translate(288.9,9.8) scale(0.99,1)" font-size="10.0" font-weight="bold" style="stroke:none" text-anchor="middle" fill="#111">Predicted niche occupancy</text>
<rect x="21.5" y="27.5" width="534.8" height="328.8" fill="none" stroke="#4d5257" stroke-width="1"/>
<text transform="translate(55.05,375.4) scale(0.905,1)" font-size="9.6" text-anchor="middle" fill="#111">-100</text>
<text transform="translate(156.16,375.4) scale(0.905,1)" font-size="9.6" text-anchor="middle" fill="#111">0</text>
<text transform="translate(257.28,375.4) scale(0.905,1)" font-size="9.6" text-anchor="middle" fill="#111">100</text>
<text transform="translate(358.39,375.4) scale(0.905,1)" font-size="9.6" text-anchor="middle" fill="#111">200</text>
<text transform="translate(459.50,375.4) scale(0.905,1)" font-size="9.6" text-anchor="middle" fill="#111">300</text>
<text transform="translate(8.9,344.10) rotate(-90) scale(0.905,1)" font-size="9.6" text-anchor="middle" fill="#111">0.000</text>
<text transform="translate(8.9,279.55) rotate(-90) scale(0.905,1)" font-size="9.6" text-anchor="middle" fill="#111">0.005</text>
<text transform="translate(8.9,215.00) rotate(-90) scale(0.905,1)" font-size="9.6" text-anchor="middle" fill="#111">0.010</text>
<text transform="translate(8.9,150.45) rotate(-90) scale(0.905,1)" font-size="9.6" text-anchor="middle" fill="#111">0.015</text>
<text transform="translate(8.9,85.90) rotate(-90) scale(0.905,1)" font-size="9.6" text-anchor="middle" fill="#111">0.020</text>
<path d="M55.05 356.3V361.60M156.16 356.3V361.60M257.28 356.3V361.60M358.39 356.3V361.60M459.50 356.3V361.60M16.20 344.10H21.5M16.20 279.55H21.5M16.20 215.00H21.5M16.20 150.45H21.5M16.20 85.90H21.5" stroke="#4d5257" stroke-width="1" fill="none"/>
<text transform="translate(288.9,395.8) scale(0.905,1)" font-size="9.6" text-anchor="middle" fill="#111">bio8</text>
</g>
<path d="M631.1 1220.9 L740.0 1220.9 L823.6 1220.6 L851.4 1219.7 L870.0 1218.9 L877.8 1217.3 L884.1 1215.8 L889.6 1214.2 L891.9 1214.8 L896.6 1213.7 L899.8 1214.2 L903.7 1212.9 L910.0 1210.1 L913.9 1207.5 L917.0 1205.9 L919.8 1202.0 L922.5 1198.1 L926.4 1196.2 L929.5 1197.3 L932.7 1191.8 L937.4 1184.7 L941.3 1175.3 L943.6 1168.3 L946.0 1166.7 L947.5 1165.9 L950.7 1161.2 L954.6 1147.1 L956.2 1140.1 L959.0 1118.9 L960.9 1115.8 L962.4 1116.6 L964.8 1109.5 L967.1 1097.0 L968.7 1092.3 L969.5 1095.4 L971.8 1085.3 L973.1 1086.0 L975.7 1065.7 L977.8 1052.5 L979.6 1048.3 L982.2 1004.4 L983.8 973.1 L984.5 957.4 L986.1 952.7 L988.2 948.0 L989.8 939.7 L991.1 937.6 L991.6 919.8 L993.2 916.5 L994.8 917.2 L995.8 921.9 L996.8 931.3 L998.4 962.7 L1000.0 1004.4 L1001.0 1035.8 L1002.1 1047.8 L1002.9 1050.0 L1004.4 1081.3 L1007.9 1101.7 L1011.0 1068.8 L1012.6 1081.3 L1014.4 1131.5 L1018.1 1158.9 L1020.4 1154.2 L1023.2 1162.0 L1026.7 1209.8 L1031.4 1218.9 L1036.1 1220.8 L1126.4 1220.9" fill="none" stroke="#d4504e" stroke-width="1.0" stroke-linejoin="round" stroke-opacity="1.0"/>
<g transform="translate(0.00,1315.20)">
<text transform="translate(288.9,9.8) scale(0.99,1)" font-size="10.0" font-weight="bold" style="stroke:none" text-anchor="middle" fill="#111">Predicted niche occupancy</text>
<rect x="21.5" y="27.5" width="534.8" height="328.8" fill="none" stroke="#4d5257" stroke-width="1"/>
<text transform="translate(41.20,375.4) scale(0.905,1)" font-size="9.6" text-anchor="middle" fill="#111">0</text>
<text transform="translate(150.00,375.4) scale(0.905,1)" font-size="9.6" text-anchor="middle" fill="#111">1000</text>
<text transform="translate(258.80,375.4) scale(0.905,1)" font-size="9.6" text-anchor="middle" fill="#111">2000</text>
<text transform="translate(367.60,375.4) scale(0.905,1)" font-size="9.6" text-anchor="middle" fill="#111">3000</text>
<text transform="translate(476.40,375.4) scale(0.905,1)" font-size="9.6" text-anchor="middle" fill="#111">4000</text>
<text transform="translate(8.9,344.10) rotate(-90) scale(0.905,1)" font-size="9.6" text-anchor="middle" fill="#111">0.0000</text>
<text transform="translate(8.9,301.09) rotate(-90) scale(0.905,1)" font-size="9.6" text-anchor="middle" fill="#111">0.0002</text>
<text transform="translate(8.9,258.07) rotate(-90) scale(0.905,1)" font-size="9.6" text-anchor="middle" fill="#111">0.0004</text>
<text transform="translate(8.9,215.06) rotate(-90) scale(0.905,1)" font-size="9.6" text-anchor="middle" fill="#111">0.0006</text>
<text transform="translate(8.9,172.04) rotate(-90) scale(0.905,1)" font-size="9.6" text-anchor="middle" fill="#111">0.0008</text>
<text transform="translate(8.9,129.03) rotate(-90) scale(0.905,1)" font-size="9.6" text-anchor="middle" fill="#111">0.0010</text>
<text transform="translate(8.9,86.01) rotate(-90) scale(0.905,1)" font-size="9.6" text-anchor="middle" fill="#111">0.0012</text>
<text transform="translate(8.9,43.00) rotate(-90) scale(0.905,1)" font-size="9.6" text-anchor="middle" fill="#111">0.0014</text>
<path d="M41.20 356.3V361.60M150.00 356.3V361.60M258.80 356.3V361.60M367.60 356.3V361.60M476.40 356.3V361.60M16.20 344.10H21.5M16.20 301.09H21.5M16.20 258.07H21.5M16.20 215.06H21.5M16.20 172.04H21.5M16.20 129.03H21.5M16.20 86.01H21.5M16.20 43.00H21.5" stroke="#4d5257" stroke-width="1" fill="none"/>
<text transform="translate(288.9,395.8) scale(0.905,1)" font-size="9.6" text-anchor="middle" fill="#111">bio12</text>
</g>
<path d="M41.2 1658.5 L64.0 1657.8 L81.0 1655.7 L90.0 1653.8 L100.4 1647.4 L110.9 1634.8 L117.0 1623.3 L122.2 1621.5 L126.6 1605.5 L130.9 1593.8 L135.3 1575.2 L139.6 1561.2 L143.1 1552.4 L145.7 1542.2 L149.2 1523.1 L152.7 1508.7 L154.4 1497.7 L157.2 1478.8 L161.1 1471.8 L164.9 1473.4 L168.7 1469.7 L173.5 1466.8 L178.3 1465.9 L183.1 1470.9 L187.9 1472.6 L189.8 1485.4 L193.6 1486.9 L197.4 1487.8 L201.3 1495.9 L204.1 1499.4 L207.0 1476.2 L210.8 1446.3 L214.7 1423.2 L217.5 1374.6 L220.4 1394.4 L223.3 1394.4 L225.2 1410.6 L227.1 1446.3 L230.0 1460.3 L231.9 1483.6 L233.6 1519.4 L236.2 1543.3 L243.2 1551.0 L250.1 1559.7 L255.4 1576.7 L260.6 1578.7 L265.8 1596.5 L269.3 1613.5 L274.5 1628.9 L281.5 1634.1 L301.9 1632.5 L323.9 1637.5 L340.9 1641.9 L358.0 1647.2 L377.5 1651.9 L405.0 1653.4 L409.1 1651.1 L412.0 1654.3 L426.2 1655.7 L450.6 1657.2 L492.0 1658.3 L495.0 1658.7 L537.1 1658.0 L537.1 1658.4 L495.0 1659.1 L492.0 1659.2 L450.6 1658.8 L426.2 1658.1 L412.0 1657.5 L409.1 1656.4 L405.0 1657.1 L377.5 1656.6 L358.0 1652.6 L340.9 1649.5 L323.9 1646.5 L301.9 1641.5 L281.5 1641.9 L274.5 1636.1 L269.3 1622.5 L265.8 1605.5 L260.6 1588.3 L255.4 1586.3 L250.1 1569.3 L243.2 1561.0 L236.2 1551.7 L233.6 1530.6 L231.9 1495.4 L230.0 1473.7 L227.1 1459.7 L225.2 1432.4 L223.3 1410.6 L220.4 1410.6 L217.5 1401.4 L214.7 1438.8 L210.8 1459.7 L207.0 1491.8 L204.1 1515.6 L201.3 1511.1 L197.4 1505.2 L193.6 1502.1 L189.8 1501.6 L187.9 1484.4 L183.1 1486.1 L178.3 1481.1 L173.5 1484.2 L168.7 1484.3 L164.9 1489.6 L161.1 1489.2 L157.2 1496.2 L154.4 1517.3 L152.7 1518.3 L149.2 1530.9 L145.7 1547.8 L143.1 1558.6 L139.6 1566.8 L135.3 1580.8 L130.9 1598.2 L126.6 1609.5 L122.2 1625.5 L117.0 1626.7 L110.9 1636.7 L100.4 1648.6 L90.0 1654.5 L81.0 1656.3 L64.0 1658.4 L41.2 1659.1Z" fill="#dc3530" stroke="#dc3530" stroke-width="0.8" stroke-linejoin="round"/>
<path d="M41.2 1659.1 L41.5 1658.7 L41.7 1658.3 L42.0 1658.4 L42.2 1658.3 L42.5 1658.4 L42.7 1659.1 L43.0 1658.3 L43.2 1658.1 L43.5 1658.5 L43.7 1658.0 L44.0 1659.1 L44.2 1658.9 L44.5 1658.8 L44.7 1659.2 L45.0 1658.2 L45.2 1657.9 L45.5 1658.8 L45.7 1659.0 L46.0 1658.2 L46.2 1659.2 L46.5 1659.0 L46.7 1658.1 L47.0 1659.6 L47.2 1659.5 L47.5 1658.0 L47.7 1658.1 L48.0 1658.2 L48.2 1658.1 L48.5 1657.6 L48.7 1658.2 L49.0 1658.0 L49.2 1658.3 L49.5 1658.4 L49.7 1658.9 L50.0 1659.1 L50.2 1659.0 L50.5 1658.0 L50.7 1658.9 L51.0 1659.0 L51.2 1659.0 L51.5 1658.0 L51.7 1658.3 L52.0 1659.3 L52.2 1658.0 L52.5 1659.0 L52.7 1659.0 L53.0 1658.7 L53.2 1657.4 L53.5 1659.0 L53.7 1658.9 L54.0 1657.9 L54.2 1658.1 L54.5 1657.9 L54.7 1658.5 L55.0 1657.8 L55.2 1658.3 L55.5 1659.0 L55.7 1658.6 L56.0 1658.0 L56.2 1658.9 L56.5 1658.5 L56.7 1658.3 L57.0 1658.8 L57.2 1658.9 L57.5 1658.1 L57.7 1657.8 L58.0 1657.8 L58.2 1659.2 L58.5 1659.4 L58.7 1657.9 L59.0 1658.1 L59.2 1658.0 L59.5 1657.7 L59.7 1658.3 L60.0 1657.7 L60.2 1657.7 L60.5 1658.7 L60.7 1658.3 L61.0 1657.9 L61.2 1658.6 L61.5 1657.8 L61.7 1658.0 L62.0 1658.1 L62.2 1657.8 L62.5 1658.5 L62.7 1658.2 L63.0 1657.5 L63.2 1657.2 L63.5 1658.7 L63.7 1658.2 L64.0 1657.0 L64.2 1658.3 L64.5 1657.8 L64.7 1657.7 L65.0 1657.4 L65.2 1657.5 L65.5 1658.4 L65.7 1657.5 L66.0 1657.5 L66.2 1658.2 L66.5 1657.3 L66.7 1658.1 L67.0 1658.3 L67.2 1658.0 L67.5 1657.9 L67.7 1658.2 L68.0 1657.2 L68.2 1657.1 L68.5 1657.4 L68.7 1657.0 L69.0 1657.6 L69.2 1657.6 L69.5 1657.9 L69.7 1657.7 L70.0 1657.3 L70.2 1657.8 L70.5 1656.8 L70.7 1657.6 L71.0 1657.2 L71.2 1657.0 L71.5 1657.2 L71.7 1656.1 L72.0 1657.3 L72.2 1657.4 L72.5 1657.3 L72.7 1656.5 L73.0 1657.3 L73.2 1656.8 L73.5 1656.5 L73.7 1655.9 L74.0 1657.3 L74.2 1656.9 L74.5 1657.2 L74.7 1656.6 L75.0 1656.2 L75.2 1656.7 L75.5 1656.3 L75.7 1656.1 L76.0 1657.6 L76.2 1656.7 L76.5 1656.7 L76.7 1656.0 L77.0 1656.9 L77.2 1656.6 L77.5 1656.3 L77.7 1656.7 L78.0 1656.1 L78.2 1655.8 L78.5 1656.1 L78.7 1656.1 L79.0 1656.1 L79.2 1656.7 L79.5 1656.5 L79.7 1655.7 L80.0 1656.0 L80.2 1656.3 L80.5 1656.6 L80.7 1655.6 L81.0 1655.6 L81.2 1655.1 L81.5 1655.8 L81.7 1656.2 L82.0 1655.2 L82.2 1656.1 L82.5 1655.2 L82.7 1655.4 L83.0 1655.3 L83.2 1655.0 L83.5 1655.8 L83.7 1655.4 L84.0 1655.4 L84.2 1654.9 L84.5 1655.1 L84.7 1654.7 L85.0 1655.7 L85.2 1655.1 L85.5 1655.2 L85.7 1654.9 L86.0 1654.9 L86.2 1655.4 L86.5 1655.0 L86.7 1654.3 L87.0 1655.3 L87.2 1654.6 L87.5 1654.3 L87.7 1655.0 L88.0 1655.2 L88.2 1655.0 L88.5 1655.1 L88.7 1653.9 L89.0 1655.0 L89.2 1654.9 L89.5 1654.3 L89.7 1654.8 L90.0 1653.9 L90.2 1653.7 L90.5 1652.6 L90.7 1653.1 L91.0 1652.5 L91.2 1653.8 L91.5 1653.9 L91.7 1653.6 L92.0 1651.7 L92.2 1653.3 L92.5 1651.7 L92.7 1652.0 L93.0 1653.2 L93.2 1652.9 L93.5 1651.5 L93.7 1651.8 L94.0 1651.0 L94.2 1650.9 L94.5 1650.7 L94.7 1650.8 L95.0 1649.7 L95.2 1651.8 L95.5 1651.1 L95.7 1651.3 L96.0 1649.9 L96.2 1651.3 L96.5 1650.1 L96.7 1651.3 L97.0 1650.9 L97.2 1649.2 L97.5 1651.5 L97.7 1650.5 L98.0 1650.4 L98.2 1649.3 L98.5 1648.1 L98.7 1649.9 L99.0 1649.2 L99.2 1649.0 L99.5 1648.1 L99.7 1648.3 L100.0 1647.3 L100.2 1649.0 L100.5 1648.1 L100.7 1647.2 L101.0 1646.3 L101.2 1646.2 L101.5 1646.3 L101.7 1646.1 L102.0 1647.1 L102.2 1645.9 L102.5 1646.4 L102.7 1644.2 L103.0 1644.1 L103.2 1645.6 L103.5 1645.5 L103.7 1645.4 L104.0 1644.0 L104.2 1644.8 L104.5 1644.4 L104.7 1644.1 L105.0 1643.2 L105.2 1641.1 L105.5 1644.4 L105.7 1642.0 L106.0 1639.0 L106.2 1642.2 L106.5 1642.4 L106.7 1639.1 L107.0 1638.9 L107.2 1640.6 L107.5 1639.5 L107.7 1640.5 L108.0 1640.0 L108.2 1639.7 L108.5 1637.1 L108.7 1639.8 L109.0 1638.6 L109.2 1640.9 L109.5 1637.1 L109.7 1638.7 L110.0 1638.3 L110.2 1635.5 L110.5 1634.6 L110.7 1635.2 L111.0 1636.4 L111.2 1636.0 L111.5 1636.0 L111.7 1631.4 L112.0 1632.1 L112.2 1632.5 L112.5 1635.1 L112.7 1630.5 L113.0 1628.6 L113.2 1630.9 L113.5 1629.0 L113.7 1632.1 L114.0 1629.7 L114.2 1632.2 L114.5 1631.3 L114.7 1627.9 L115.0 1632.7 L115.2 1630.6 L115.5 1630.4 L115.7 1629.8 L116.0 1629.3 L116.2 1629.2 L116.5 1624.8 L116.7 1625.4 L117.0 1622.6 L117.2 1624.2 L117.5 1622.5 L117.7 1626.5 L118.0 1627.6 L118.2 1623.1 L118.5 1620.6 L118.7 1619.9 L119.0 1621.7 L119.2 1621.6 L119.5 1623.1 L119.7 1627.5 L120.0 1627.4 L120.2 1621.2 L120.5 1622.5 L120.7 1626.9 L121.0 1629.8 L121.2 1620.4 L121.5 1626.8 L121.7 1626.0 L122.0 1621.2 L122.2 1626.9 L122.5 1624.9 L122.7 1620.4 L123.0 1618.7 L123.2 1624.2 L123.5 1615.5 L123.7 1617.2 L124.0 1621.2 L124.2 1612.9 L124.5 1616.6 L124.7 1616.0 L125.0 1612.2 L125.2 1612.8 L125.5 1609.7 L125.7 1605.0 L126.0 1610.0 L126.2 1606.2 L126.5 1606.7 L126.7 1612.8 L127.0 1603.4 L127.2 1607.9 L127.5 1604.1 L127.7 1607.9 L128.0 1610.6 L128.2 1603.0 L128.4 1604.9 L128.7 1598.3 L128.9 1599.3 L129.2 1603.4 L129.4 1600.3 L129.7 1596.1 L129.9 1600.1 L130.2 1601.8 L130.4 1600.7 L130.7 1595.9 L130.9 1599.8 L131.2 1590.8 L131.4 1589.2 L131.7 1587.5 L131.9 1589.8 L132.2 1592.4 L132.4 1582.1 L132.7 1583.5 L132.9 1594.9 L133.2 1579.4 L133.4 1587.1 L133.7 1581.7 L133.9 1584.0 L134.2 1581.3 L134.4 1589.0 L134.7 1577.3 L134.9 1577.4 L135.2 1573.6 L135.4 1585.2 L135.7 1567.4 L135.9 1580.1 L136.2 1580.1 L136.4 1571.0 L136.7 1568.5 L136.9 1576.2 L137.2 1567.3 L137.4 1566.1 L137.7 1572.8 L137.9 1574.0 L138.2 1565.1 L138.4 1569.7 L138.7 1561.9 L138.9 1571.1 L139.2 1570.0 L139.4 1563.8 L139.7 1566.7 L139.9 1564.2 L140.2 1567.6 L140.4 1572.2 L140.7 1556.5 L140.9 1565.2 L141.2 1555.1 L141.4 1555.3 L141.7 1557.0 L141.9 1560.9 L142.2 1552.3 L142.4 1561.1 L142.7 1552.5 L142.9 1551.0 L143.2 1558.2 L143.4 1550.7 L143.7 1551.8 L143.9 1546.7 L144.2 1546.0 L144.4 1545.0 L144.7 1547.6 L144.9 1547.2 L145.2 1543.8 L145.4 1549.0 L145.7 1546.8 L145.9 1541.0 L146.2 1539.6 L146.4 1543.0 L146.7 1545.4 L146.9 1533.0 L147.2 1539.1 L147.4 1530.0 L147.7 1540.3 L147.9 1527.7 L148.2 1537.8 L148.4 1530.3 L148.7 1534.9 L148.9 1526.2 L149.2 1539.5 L149.4 1519.0 L149.7 1520.8 L149.9 1516.8 L150.2 1521.4 L150.4 1524.0 L150.7 1528.8 L150.9 1525.8 L151.2 1527.0 L151.4 1524.4 L151.7 1514.5 L151.9 1523.8 L152.2 1507.6 L152.4 1519.3 L152.7 1497.2 L152.9 1522.4 L153.2 1501.5 L153.4 1521.8 L153.7 1507.2 L153.9 1513.9 L154.2 1504.3 L154.4 1530.9 L154.7 1522.6 L154.9 1514.9 L155.2 1484.9 L155.4 1516.8 L155.7 1512.8 L155.9 1468.1 L156.2 1510.7 L156.4 1507.6 L156.7 1494.7 L156.9 1484.1 L157.2 1496.2 L157.4 1469.0 L157.7 1501.8 L157.9 1470.7 L158.2 1480.5 L158.4 1492.3 L158.7 1469.6 L158.9 1513.4 L159.2 1471.6 L159.4 1480.2 L159.7 1498.5 L159.9 1483.9 L160.2 1467.6 L160.4 1471.5 L160.7 1465.9 L160.9 1485.4 L161.2 1472.7 L161.4 1452.9 L161.7 1468.9 L161.9 1495.6 L162.2 1481.1 L162.4 1475.0 L162.7 1493.2 L162.9 1494.9 L163.2 1492.5 L163.4 1489.2 L163.7 1467.8 L163.9 1494.7 L164.2 1502.8 L164.4 1495.4 L164.7 1482.8 L164.9 1470.4 L165.2 1468.0 L165.4 1467.1 L165.7 1492.5 L165.9 1470.2 L166.2 1479.6 L166.4 1477.5 L166.7 1454.8 L166.9 1504.8 L167.2 1475.2 L167.4 1491.5 L167.7 1488.5 L167.9 1464.8 L168.2 1467.4 L168.4 1465.4 L168.7 1483.6 L168.9 1463.8 L169.2 1463.9 L169.4 1472.5 L169.7 1463.4 L169.9 1456.4 L170.2 1462.8 L170.4 1476.6 L170.7 1481.4 L170.9 1464.2 L171.2 1489.8 L171.4 1470.8 L171.7 1470.3 L171.9 1464.4 L172.2 1478.3 L172.4 1461.9 L172.7 1490.7 L172.9 1466.0 L173.2 1483.6 L173.4 1490.2 L173.7 1490.7 L173.9 1490.6 L174.2 1464.1 L174.4 1494.4 L174.7 1449.2 L174.9 1467.7 L175.2 1464.3 L175.4 1484.0 L175.7 1488.9 L175.9 1488.9 L176.2 1460.9 L176.4 1478.6 L176.7 1496.2 L176.9 1461.8 L177.2 1477.0 L177.4 1486.4 L177.7 1485.4 L177.9 1485.8 L178.2 1462.6 L178.4 1461.4 L178.7 1463.0 L178.9 1485.6 L179.2 1456.1 L179.4 1477.5 L179.7 1481.5 L179.9 1463.5 L180.2 1484.2 L180.4 1498.9 L180.7 1484.8 L180.9 1482.4 L181.2 1463.4 L181.4 1463.7 L181.7 1463.8 L181.9 1477.1 L182.2 1465.6 L182.4 1484.2 L182.7 1481.4 L182.9 1490.4 L183.2 1465.2 L183.4 1492.0 L183.7 1469.2 L183.9 1468.9 L184.2 1469.2 L184.4 1465.9 L184.7 1475.2 L184.9 1484.9 L185.2 1493.1 L185.4 1482.6 L185.7 1480.5 L185.9 1489.0 L186.2 1486.5 L186.4 1480.5 L186.7 1488.6 L186.9 1476.7 L187.2 1467.7 L187.4 1489.2 L187.7 1467.9 L187.9 1488.0 L188.2 1473.5 L188.4 1477.5 L188.7 1465.4 L188.9 1493.5 L189.2 1502.8 L189.4 1504.5 L189.7 1479.0 L189.9 1496.3 L190.2 1497.3 L190.4 1515.8 L190.7 1493.5 L190.9 1510.1 L191.2 1493.5 L191.4 1496.4 L191.7 1476.1 L191.9 1480.1 L192.2 1481.2 L192.4 1507.9 L192.7 1506.9 L192.9 1507.2 L193.2 1505.8 L193.4 1481.3 L193.7 1486.1 L193.9 1492.9 L194.2 1488.4 L194.4 1518.7 L194.7 1485.9 L194.9 1495.9 L195.2 1486.6 L195.4 1509.1 L195.7 1508.3 L195.9 1501.5 L196.2 1481.0 L196.4 1511.0 L196.7 1501.2 L196.9 1487.1 L197.2 1511.1 L197.4 1511.1 L197.7 1512.4 L197.9 1510.4 L198.2 1513.0 L198.4 1484.1 L198.7 1512.9 L198.9 1513.8 L199.2 1514.2 L199.4 1499.1 L199.7 1513.2 L199.9 1493.4 L200.2 1503.9 L200.4 1523.8 L200.7 1488.7 L200.9 1482.0 L201.2 1517.4 L201.4 1494.9 L201.7 1499.1 L201.9 1514.5 L202.2 1499.8 L202.4 1517.9 L202.7 1492.3 L202.9 1499.6 L203.2 1514.9 L203.4 1517.5 L203.7 1508.4 L203.9 1521.6 L204.2 1522.4 L204.4 1499.2 L204.7 1488.3 L204.9 1506.3 L205.2 1491.7 L205.4 1502.9 L205.7 1486.8 L205.9 1502.2 L206.2 1478.6 L206.4 1477.3 L206.7 1489.4 L206.9 1484.6 L207.2 1496.2 L207.4 1492.2 L207.7 1491.4 L207.9 1489.3 L208.2 1472.4 L208.4 1480.7 L208.7 1466.6 L208.9 1474.3 L209.2 1478.9 L209.4 1473.1 L209.7 1468.8 L209.9 1482.3 L210.2 1436.3 L210.4 1444.7 L210.7 1464.2 L210.9 1471.6 L211.2 1456.0 L211.4 1437.3 L211.7 1436.2 L211.9 1455.8 L212.2 1433.2 L212.4 1431.3 L212.7 1432.3 L212.9 1443.4 L213.2 1433.7 L213.4 1426.4 L213.7 1423.4 L213.9 1428.8 L214.2 1424.5 L214.4 1445.5 L214.7 1427.5 L214.9 1452.8 L215.2 1426.0 L215.4 1422.1 L215.7 1410.2 L215.9 1397.1 L216.2 1408.1 L216.4 1417.3 L216.7 1389.6 L216.9 1404.6 L217.2 1413.5 L217.4 1368.3 L217.7 1381.4 L217.9 1348.3 L218.2 1410.4 L218.4 1377.2 L218.7 1402.2 L218.9 1377.3 L219.2 1399.0 L219.4 1400.1 L219.7 1399.3 L219.9 1413.7 L220.2 1400.8 L220.4 1398.8 L220.7 1392.2 L220.9 1389.2 L221.2 1389.4 L221.4 1388.0 L221.7 1415.2 L221.9 1398.0 L222.2 1390.6 L222.4 1400.3 L222.7 1416.7 L222.9 1388.0 L223.2 1385.2 L223.4 1404.9 L223.7 1384.3 L223.9 1393.2 L224.2 1406.3 L224.4 1396.7 L224.7 1429.3 L224.9 1405.1 L225.2 1401.2 L225.4 1415.3 L225.7 1438.0 L225.9 1454.5 L226.2 1434.9 L226.4 1421.0 L226.7 1439.4 L226.9 1439.2 L227.2 1446.7 L227.4 1445.5 L227.7 1467.4 L227.9 1468.3 L228.2 1461.3 L228.4 1451.8 L228.7 1449.3 L228.9 1449.9 L229.2 1475.1 L229.4 1454.8 L229.7 1475.2 L229.9 1458.1 L230.2 1475.1 L230.4 1471.6 L230.7 1487.1 L230.9 1484.5 L231.2 1492.3 L231.4 1488.3 L231.7 1492.5 L231.9 1499.4 L232.2 1503.2 L232.4 1496.6 L232.7 1497.6 L232.9 1518.0 L233.2 1526.4 L233.4 1516.1 L233.7 1511.6 L233.9 1518.7 L234.2 1521.3 L234.4 1523.3 L234.7 1533.2 L234.9 1529.3 L235.2 1534.2 L235.4 1533.3 L235.7 1536.1 L235.9 1539.7 L236.2 1540.1 L236.4 1540.4 L236.7 1548.3 L236.9 1540.0 L237.2 1541.3 L237.4 1548.4 L237.7 1546.7 L237.9 1557.1 L238.2 1561.3 L238.4 1544.8 L238.7 1556.4 L238.9 1546.5 L239.2 1543.4 L239.4 1548.6 L239.7 1556.3 L239.9 1559.9 L240.2 1560.6 L240.4 1562.1 L240.7 1568.1 L240.9 1553.9 L241.2 1546.6 L241.4 1558.1 L241.7 1557.5 L241.9 1547.2 L242.2 1562.9 L242.4 1557.8 L242.7 1564.3 L242.9 1564.5 L243.2 1550.4 L243.4 1550.5 L243.7 1569.9 L243.9 1574.7 L244.2 1566.1 L244.4 1574.8 L244.7 1565.0 L244.9 1552.4 L245.2 1556.2 L245.4 1552.2 L245.7 1564.9 L245.9 1550.8 L246.2 1568.3 L246.4 1555.1 L246.7 1564.1 L246.9 1563.9 L247.2 1574.8 L247.4 1553.0 L247.7 1564.1 L247.9 1562.2 L248.2 1569.5 L248.4 1565.4 L248.7 1557.5 L248.9 1571.7 L249.2 1571.7 L249.4 1568.8 L249.7 1580.7 L249.9 1561.1 L250.2 1566.5 L250.4 1568.3 L250.7 1578.7 L250.9 1575.6 L251.2 1568.2 L251.4 1560.4 L251.7 1574.9 L251.9 1578.5 L252.2 1578.4 L252.4 1563.7 L252.7 1574.8 L252.9 1565.8 L253.2 1566.0 L253.4 1567.6 L253.7 1574.0 L253.9 1569.4 L254.2 1585.2 L254.4 1570.3 L254.7 1587.7 L254.9 1572.2 L255.2 1588.9 L255.4 1581.1 L255.7 1578.7 L255.9 1578.4 L256.2 1589.2 L256.4 1587.7 L256.7 1590.5 L256.9 1580.4 L257.2 1583.7 L257.4 1579.9 L257.7 1583.4 L257.9 1579.1 L258.2 1578.6 L258.4 1591.2 L258.7 1590.2 L258.9 1586.6 L259.2 1586.4 L259.4 1574.7 L259.7 1578.6 L259.9 1578.4 L260.2 1575.5 L260.4 1577.1 L260.7 1579.6 L260.9 1590.2 L261.2 1582.1 L261.4 1585.3 L261.7 1582.8 L261.9 1582.9 L262.2 1584.3 L262.4 1597.8 L262.7 1602.5 L262.9 1588.5 L263.2 1596.5 L263.4 1602.5 L263.7 1594.4 L263.9 1601.0 L264.2 1595.7 L264.4 1595.6 L264.7 1600.8 L264.9 1590.3 L265.2 1604.7 L265.4 1607.4 L265.7 1608.5 L265.9 1594.8 L266.2 1595.2 L266.4 1611.0 L266.7 1612.5 L266.9 1614.4 L267.2 1607.9 L267.4 1602.5 L267.7 1602.3 L267.9 1614.2 L268.2 1616.8 L268.4 1621.4 L268.7 1610.5 L268.9 1624.0 L269.2 1611.6 L269.4 1616.5 L269.7 1610.7 L269.9 1614.8 L270.2 1614.0 L270.4 1630.8 L270.7 1616.7 L270.9 1615.5 L271.2 1615.9 L271.4 1629.8 L271.7 1617.4 L271.9 1622.7 L272.2 1632.9 L272.4 1633.4 L272.7 1621.7 L272.9 1630.0 L273.2 1632.1 L273.4 1632.7 L273.7 1634.9 L273.9 1631.4 L274.2 1625.2 L274.4 1629.0 L274.7 1637.7 L274.9 1627.6 L275.2 1639.5 L275.4 1626.7 L275.7 1626.9 L275.9 1630.2 L276.2 1630.6 L276.4 1629.7 L276.7 1634.6 L276.9 1641.1 L277.2 1639.1 L277.4 1633.4 L277.7 1640.3 L277.9 1635.7 L278.2 1629.7 L278.4 1642.3 L278.7 1629.6 L278.9 1629.6 L279.2 1631.3 L279.4 1642.3 L279.7 1629.9 L279.9 1631.1 L280.2 1630.9 L280.4 1644.1 L280.7 1641.5 L280.9 1631.5 L281.2 1645.4 L281.4 1632.6 L281.7 1633.7 L281.9 1644.7 L282.2 1628.4 L282.4 1635.7 L282.7 1631.5 L282.9 1637.3 L283.2 1644.0 L283.4 1632.3 L283.7 1643.8 L283.9 1644.5 L284.2 1644.9 L284.4 1639.5 L284.7 1635.7 L284.9 1639.7 L285.2 1644.0 L285.4 1643.0 L285.7 1643.9 L285.9 1644.0 L286.2 1644.9 L286.4 1631.9 L286.7 1630.5 L286.9 1644.5 L287.2 1630.7 L287.4 1638.6 L287.7 1644.8 L287.9 1640.3 L288.2 1636.1 L288.4 1636.7 L288.7 1640.8 L288.9 1635.4 L289.2 1630.6 L289.4 1630.3 L289.7 1642.8 L289.9 1644.4 L290.2 1639.6 L290.4 1636.6 L290.7 1644.9 L290.9 1637.3 L291.2 1641.9 L291.4 1630.9 L291.7 1631.3 L291.9 1640.0 L292.2 1630.1 L292.4 1641.9 L292.7 1643.9 L292.9 1645.0 L293.2 1630.6 L293.4 1626.5 L293.7 1644.6 L293.9 1633.0 L294.2 1638.7 L294.4 1632.4 L294.7 1643.7 L294.9 1640.1 L295.2 1635.7 L295.4 1644.4 L295.7 1644.2 L295.9 1644.5 L296.2 1629.8 L296.4 1623.7 L296.7 1627.3 L296.9 1630.7 L297.2 1631.7 L297.4 1629.5 L297.7 1629.5 L297.9 1639.7 L298.2 1630.2 L298.4 1642.7 L298.7 1638.7 L298.9 1644.4 L299.2 1639.5 L299.4 1632.9 L299.7 1630.6 L299.9 1631.3 L300.2 1630.2 L300.4 1644.9 L300.7 1642.9 L300.9 1645.8 L301.2 1624.3 L301.4 1640.9 L301.7 1631.6 L301.9 1644.2 L302.2 1632.7 L302.4 1645.0 L302.7 1629.6 L302.9 1625.7 L303.2 1652.3 L303.4 1644.6 L303.7 1638.7 L303.9 1652.0 L304.2 1636.2 L304.4 1633.2 L304.7 1640.4 L304.9 1645.1 L305.2 1645.5 L305.4 1643.9 L305.7 1630.2 L305.9 1642.2 L306.2 1634.7 L306.4 1645.0 L306.7 1630.1 L306.9 1644.6 L307.2 1641.1 L307.4 1645.4 L307.7 1644.9 L307.9 1646.4 L308.2 1632.3 L308.4 1634.9 L308.7 1630.6 L308.9 1646.6 L309.2 1646.6 L309.4 1645.6 L309.7 1650.1 L309.9 1634.8 L310.2 1646.9 L310.4 1624.6 L310.7 1639.9 L310.9 1654.2 L311.2 1646.7 L311.4 1633.3 L311.7 1647.1 L311.9 1645.2 L312.2 1631.3 L312.4 1632.3 L312.7 1647.5 L312.9 1646.7 L313.2 1631.9 L313.4 1634.2 L313.7 1644.5 L313.9 1633.2 L314.2 1634.2 L314.4 1632.2 L314.7 1644.3 L314.9 1646.2 L315.2 1638.8 L315.4 1647.1 L315.7 1633.9 L315.9 1640.6 L316.2 1635.1 L316.4 1634.3 L316.7 1647.4 L316.9 1648.2 L317.2 1644.3 L317.4 1645.8 L317.7 1634.7 L317.9 1639.4 L318.2 1640.4 L318.4 1638.6 L318.7 1650.8 L318.9 1632.9 L319.2 1634.3 L319.4 1633.5 L319.7 1639.3 L319.9 1655.8 L320.2 1654.7 L320.4 1629.6 L320.7 1634.4 L320.9 1646.1 L321.2 1647.7 L321.4 1635.7 L321.7 1646.9 L321.9 1639.0 L322.2 1648.8 L322.4 1643.2 L322.7 1633.9 L322.9 1647.3 L323.2 1648.2 L323.4 1634.5 L323.7 1635.3 L323.9 1632.5 L324.2 1635.5 L324.4 1636.9 L324.7 1642.7 L324.9 1638.3 L325.2 1654.1 L325.4 1637.8 L325.7 1648.7 L325.9 1635.0 L326.2 1647.2 L326.4 1647.0 L326.7 1644.7 L326.9 1657.0 L327.2 1636.0 L327.4 1647.0 L327.7 1641.3 L327.9 1643.3 L328.2 1644.9 L328.4 1646.5 L328.7 1649.1 L328.9 1635.5 L329.2 1643.2 L329.4 1650.4 L329.7 1643.5 L329.9 1636.0 L330.2 1649.3 L330.4 1649.8 L330.7 1649.4 L330.9 1640.7 L331.2 1637.1 L331.4 1651.1 L331.7 1636.4 L331.9 1637.4 L332.2 1650.2 L332.4 1638.4 L332.7 1651.2 L332.9 1650.8 L333.2 1637.8 L333.4 1651.3 L333.7 1651.3 L333.9 1643.0 L334.2 1644.0 L334.4 1643.2 L334.7 1650.7 L334.9 1637.3 L335.2 1643.4 L335.4 1650.8 L335.7 1631.1 L335.9 1649.3 L336.2 1637.8 L336.4 1645.0 L336.7 1651.8 L336.9 1648.7 L337.2 1638.0 L337.4 1653.0 L337.7 1633.4 L337.9 1638.1 L338.2 1649.4 L338.4 1646.7 L338.7 1638.9 L338.9 1652.0 L339.2 1648.8 L339.4 1641.9 L339.7 1638.8 L339.9 1638.7 L340.2 1652.0 L340.4 1641.9 L340.7 1651.8 L340.9 1643.7 L341.2 1639.2 L341.4 1654.7 L341.7 1651.9 L341.9 1650.1 L342.2 1643.7 L342.4 1641.3 L342.7 1639.7 L342.9 1646.6 L343.2 1650.3 L343.4 1647.4 L343.7 1649.1 L343.9 1642.4 L344.2 1652.7 L344.4 1652.6 L344.7 1640.8 L344.9 1652.1 L345.2 1644.6 L345.4 1655.9 L345.7 1652.8 L345.9 1646.5 L346.2 1651.3 L346.4 1653.1 L346.7 1652.2 L346.9 1636.0 L347.2 1651.7 L347.4 1644.4 L347.7 1650.1 L347.9 1642.1 L348.2 1653.2 L348.4 1658.4 L348.7 1646.6 L348.9 1636.0 L349.2 1642.5 L349.4 1644.6 L349.7 1648.1 L349.9 1647.9 L350.2 1643.2 L350.4 1642.4 L350.7 1639.3 L350.9 1642.7 L351.2 1652.6 L351.4 1653.7 L351.7 1648.5 L351.9 1648.8 L352.2 1648.8 L352.4 1643.6 L352.7 1643.8 L352.9 1647.3 L353.2 1643.3 L353.4 1644.6 L353.7 1653.7 L353.9 1647.2 L354.2 1646.2 L354.4 1653.4 L354.7 1644.6 L354.9 1644.0 L355.2 1654.1 L355.4 1643.0 L355.7 1650.1 L355.9 1645.7 L356.2 1647.9 L356.4 1644.5 L356.7 1647.9 L356.9 1652.1 L357.2 1647.3 L357.4 1646.8 L357.7 1647.4 L357.9 1647.0 L358.2 1653.6 L358.4 1644.5 L358.7 1647.9 L358.9 1648.2 L359.2 1655.2 L359.4 1645.7 L359.7 1655.1 L359.9 1651.2 L360.2 1653.7 L360.4 1649.6 L360.7 1654.5 L360.9 1647.2 L361.2 1648.7 L361.4 1647.7 L361.7 1649.8 L361.9 1647.7 L362.2 1648.8 L362.4 1647.3 L362.7 1655.6 L362.9 1646.4 L363.2 1655.8 L363.4 1655.5 L363.7 1655.1 L363.9 1646.8 L364.2 1645.5 L364.4 1655.8 L364.7 1656.0 L364.9 1647.7 L365.2 1656.2 L365.4 1653.3 L365.7 1647.9 L365.9 1653.6 L366.2 1651.8 L366.4 1655.3 L366.7 1651.8 L366.9 1656.5 L367.2 1647.5 L367.4 1650.6 L367.7 1647.5 L367.9 1648.7 L368.2 1656.3 L368.4 1648.5 L368.7 1647.5 L368.9 1654.4 L369.2 1644.9 L369.4 1648.6 L369.7 1653.9 L369.9 1657.0 L370.2 1648.1 L370.4 1655.5 L370.7 1656.5 L370.9 1657.3 L371.2 1657.3 L371.4 1650.0 L371.7 1650.1 L371.9 1648.8 L372.2 1655.6 L372.4 1656.4 L372.7 1650.4 L372.9 1655.2 L373.2 1660.1 L373.4 1654.7 L373.7 1653.3 L373.9 1657.0 L374.2 1649.3 L374.4 1649.2 L374.7 1650.0 L374.9 1657.9 L375.2 1654.6 L375.4 1651.0 L375.7 1655.3 L375.9 1657.4 L376.2 1650.3 L376.4 1658.0 L376.7 1651.6 L376.9 1654.4 L377.2 1659.1 L377.4 1657.5 L377.7 1656.0 L377.9 1662.2 L378.2 1651.8 L378.4 1658.5 L378.7 1650.3 L378.9 1651.1 L379.2 1650.2 L379.4 1657.9 L379.7 1650.3 L379.9 1657.3 L380.2 1657.9 L380.4 1655.1 L380.7 1657.9 L380.9 1650.3 L381.2 1657.5 L381.4 1655.9 L381.7 1656.7 L381.9 1650.9 L382.2 1654.9 L382.4 1654.8 L382.7 1657.2 L382.9 1659.9 L383.2 1657.9 L383.4 1658.1 L383.7 1652.9 L383.9 1653.7 L384.2 1650.5 L384.4 1650.6 L384.7 1653.4 L384.9 1658.4 L385.2 1657.3 L385.4 1653.5 L385.7 1658.4 L385.9 1651.5 L386.2 1655.5 L386.4 1657.0 L386.7 1658.0 L386.9 1658.5 L387.2 1656.8 L387.4 1658.3 L387.7 1657.0 L387.9 1648.7 L388.2 1657.8 L388.4 1656.9 L388.7 1653.1 L388.9 1658.5 L389.2 1651.1 L389.4 1657.4 L389.7 1651.3 L389.9 1649.2 L390.2 1653.2 L390.4 1650.9 L390.7 1658.4 L390.9 1651.3 L391.2 1656.2 L391.4 1651.9 L391.7 1647.6 L391.9 1657.0 L392.2 1657.5 L392.4 1658.3 L392.7 1655.6 L392.9 1652.8 L393.2 1651.4 L393.4 1654.2 L393.7 1653.8 L393.9 1651.6 L394.2 1651.8 L394.4 1658.3 L394.7 1656.9 L394.9 1653.5 L395.2 1658.5 L395.4 1651.6 L395.7 1658.1 L395.9 1655.8 L396.2 1658.4 L396.4 1652.0 L396.7 1651.4 L396.9 1658.5 L397.2 1658.5 L397.4 1658.3 L397.7 1658.3 L397.9 1657.8 L398.2 1654.8 L398.4 1650.2 L398.7 1654.7 L398.9 1652.4 L399.2 1657.0 L399.4 1654.6 L399.7 1652.1 L399.9 1656.8 L400.2 1651.8 L400.4 1651.9 L400.7 1651.9 L400.9 1650.6 L401.2 1652.0 L401.4 1652.1 L401.7 1655.3 L401.9 1658.4 L402.2 1657.9 L402.4 1657.9 L402.7 1655.7 L402.9 1656.3 L403.2 1659.8 L403.4 1652.3 L403.7 1650.6 L403.9 1648.8 L404.2 1652.3 L404.4 1652.1 L404.7 1658.1 L404.9 1657.0 L405.2 1652.1 L405.4 1652.1 L405.7 1648.5 L405.9 1651.5 L406.2 1658.2 L406.4 1658.1 L406.7 1657.3 L406.9 1656.2 L407.2 1653.0 L407.4 1656.4 L407.7 1653.1 L407.9 1657.9 L408.2 1658.5 L408.4 1658.5 L408.7 1645.0 L408.9 1658.5 L409.2 1654.5 L409.4 1657.6 L409.7 1652.9 L409.9 1650.5 L410.2 1656.7 L410.4 1658.5 L410.7 1651.7 L410.9 1657.1 L411.2 1649.8 L411.4 1658.0 L411.7 1657.3 L411.9 1658.8 L412.2 1654.6 L412.4 1658.4 L412.7 1658.1 L412.9 1654.6 L413.2 1658.8 L413.4 1656.0 L413.7 1657.9 L413.9 1657.1 L414.2 1657.5 L414.4 1660.4 L414.7 1655.2 L414.9 1658.5 L415.2 1657.9 L415.4 1653.5 L415.7 1654.1 L415.9 1655.7 L416.2 1657.8 L416.4 1654.8 L416.7 1658.1 L416.9 1652.6 L417.2 1653.0 L417.4 1654.5 L417.7 1654.0 L417.9 1654.1 L418.2 1658.9 L418.4 1654.0 L418.7 1661.2 L418.9 1653.9 L419.2 1653.9 L419.4 1656.0 L419.7 1654.0 L419.9 1656.9 L420.2 1656.6 L420.4 1658.2 L420.7 1653.8 L420.9 1652.9 L421.2 1654.7 L421.4 1658.5 L421.7 1654.4 L421.9 1655.3 L422.2 1660.0 L422.4 1658.9 L422.7 1655.0 L422.9 1654.9 L423.2 1653.2 L423.4 1655.1 L423.7 1656.5 L423.9 1655.7 L424.2 1654.7 L424.4 1655.5 L424.7 1654.9 L424.9 1656.1 L425.2 1658.1 L425.4 1657.4 L425.7 1655.5 L425.9 1655.8 L426.2 1654.9 L426.4 1654.8 L426.7 1658.2 L426.9 1660.1 L427.2 1657.4 L427.4 1660.7 L427.7 1658.9 L427.9 1658.8 L428.2 1657.9 L428.4 1655.0 L428.7 1657.9 L428.9 1658.3 L429.2 1655.0 L429.4 1655.0 L429.7 1656.4 L429.9 1655.8 L430.2 1659.0 L430.4 1655.8 L430.7 1657.8 L430.9 1655.3 L431.2 1656.2 L431.4 1657.2 L431.7 1658.5 L431.9 1657.1 L432.2 1656.9 L432.4 1655.2 L432.7 1655.3 L432.9 1658.6 L433.2 1660.8 L433.4 1656.3 L433.7 1655.4 L433.9 1659.1 L434.2 1659.2 L434.4 1658.9 L434.7 1656.0 L434.9 1655.4 L435.2 1658.5 L435.4 1659.2 L435.7 1658.2 L435.9 1658.6 L436.2 1656.3 L436.4 1657.2 L436.7 1656.6 L436.9 1655.6 L437.2 1655.9 L437.4 1656.5 L437.7 1655.8 L437.9 1655.2 L438.2 1658.4 L438.4 1655.9 L438.7 1658.5 L438.9 1659.0 L439.2 1656.6 L439.4 1659.2 L439.7 1656.4 L439.9 1654.7 L440.2 1660.1 L440.4 1659.2 L440.7 1659.7 L440.9 1660.1 L441.2 1654.8 L441.4 1659.2 L441.7 1656.6 L441.9 1656.8 L442.2 1655.9 L442.4 1658.6 L442.7 1658.4 L442.9 1657.1 L443.2 1659.3 L443.4 1659.0 L443.7 1661.0 L443.9 1659.1 L444.2 1659.2 L444.4 1658.7 L444.7 1656.9 L444.9 1656.1 L445.2 1657.4 L445.4 1656.4 L445.7 1658.9 L445.9 1657.9 L446.2 1658.7 L446.4 1659.4 L446.7 1657.1 L446.9 1660.0 L447.2 1658.8 L447.4 1661.0 L447.7 1659.2 L447.9 1659.4 L448.2 1656.5 L448.4 1658.4 L448.7 1656.5 L448.9 1656.2 L449.2 1657.1 L449.4 1658.1 L449.7 1658.1 L449.9 1655.2 L450.2 1659.4 L450.4 1657.0 L450.7 1658.5 L450.9 1657.2 L451.2 1659.5 L451.4 1656.5 L451.7 1657.2 L451.9 1658.7 L452.2 1659.3 L452.4 1659.3 L452.7 1657.5 L452.9 1659.5 L453.2 1659.3 L453.4 1659.0 L453.7 1656.6 L453.9 1659.4 L454.2 1660.7 L454.4 1656.7 L454.7 1658.9 L454.9 1657.7 L455.2 1659.3 L455.4 1657.3 L455.7 1657.4 L455.9 1656.7 L456.2 1656.7 L456.4 1659.4 L456.7 1659.4 L456.9 1659.5 L457.2 1657.1 L457.4 1657.0 L457.7 1659.5 L457.9 1656.8 L458.2 1659.5 L458.4 1658.0 L458.7 1657.9 L458.9 1658.8 L459.2 1657.5 L459.4 1657.0 L459.7 1659.4 L459.9 1656.8 L460.2 1660.0 L460.4 1659.4 L460.7 1657.2 L460.9 1659.2 L461.2 1657.0 L461.4 1657.3 L461.7 1657.9 L461.9 1659.5 L462.2 1657.5 L462.4 1657.0 L462.7 1656.9 L462.9 1657.1 L463.2 1658.5 L463.4 1657.9 L463.7 1659.4 L463.9 1659.5 L464.2 1658.0 L464.4 1657.3 L464.7 1657.0 L464.9 1658.7 L465.2 1657.1 L465.4 1659.2 L465.7 1660.2 L465.9 1659.5 L466.2 1657.9 L466.4 1657.1 L466.7 1659.3 L466.9 1657.3 L467.2 1656.1 L467.4 1657.8 L467.7 1657.2 L467.9 1659.1 L468.2 1657.1 L468.4 1659.4 L468.7 1659.5 L468.9 1658.6 L469.2 1657.3 L469.4 1658.8 L469.7 1658.8 L469.9 1659.3 L470.2 1659.0 L470.4 1659.5 L470.7 1657.9 L470.9 1659.2 L471.2 1657.6 L471.4 1659.1 L471.7 1658.2 L471.9 1659.3 L472.2 1659.2 L472.4 1657.6 L472.7 1657.6 L472.9 1657.9 L473.2 1659.3 L473.4 1658.4 L473.7 1658.9 L473.9 1657.1 L474.2 1659.4 L474.4 1658.3 L474.7 1657.4 L474.9 1660.0 L475.2 1659.3 L475.4 1658.1 L475.7 1657.5 L475.9 1659.4 L476.2 1660.0 L476.4 1659.4 L476.7 1658.1 L476.9 1659.5 L477.2 1659.5 L477.4 1659.5 L477.7 1658.3 L477.9 1659.4 L478.2 1657.6 L478.4 1659.4 L478.7 1659.1 L478.9 1657.7 L479.2 1657.7 L479.4 1658.3 L479.7 1657.6 L479.9 1659.5 L480.2 1659.4 L480.4 1657.7 L480.7 1657.6 L480.9 1657.7 L481.2 1657.8 L481.4 1657.9 L481.7 1657.7 L481.9 1659.0 L482.2 1659.5 L482.4 1658.5 L482.7 1659.0 L482.9 1658.9 L483.2 1659.5 L483.4 1659.4 L483.7 1659.5 L483.9 1658.8 L484.2 1659.4 L484.4 1659.4 L484.7 1659.2 L484.9 1657.7 L485.2 1659.2 L485.4 1659.5 L485.7 1658.0 L485.9 1659.1 L486.2 1658.2 L486.4 1659.5 L486.7 1658.7 L486.9 1659.3 L487.2 1659.3 L487.4 1657.8 L487.7 1658.6 L487.9 1658.0 L488.2 1658.8 L488.4 1658.3 L488.7 1657.9 L488.9 1658.3 L489.2 1658.0 L489.4 1659.9 L489.7 1659.5 L489.9 1658.9 L490.2 1659.5 L490.4 1658.1 L490.7 1659.1 L490.9 1658.0 L491.2 1658.5 L491.4 1659.0 L491.7 1659.3 L491.9 1659.0 L492.2 1658.7 L492.4 1658.6 L492.7 1659.3 L492.9 1659.0 L493.2 1658.7 L493.4 1658.4 L493.7 1659.0 L493.9 1658.4 L494.2 1659.3 L494.4 1658.7 L494.7 1659.1 L494.9 1658.8 L495.2 1658.7 L495.4 1658.9 L495.7 1659.1 L495.9 1658.6 L496.2 1658.8 L496.4 1658.6 L496.7 1658.5 L496.9 1658.5 L497.2 1658.6 L497.4 1659.1 L497.7 1659.1 L497.9 1658.9 L498.2 1659.1 L498.4 1658.6 L498.7 1658.5 L498.9 1659.1 L499.2 1658.5 L499.4 1658.6 L499.7 1658.9 L499.9 1658.6 L500.2 1658.5 L500.4 1658.7 L500.7 1658.7 L500.9 1659.1 L501.2 1658.8 L501.4 1658.5 L501.7 1658.5 L501.9 1659.0 L502.2 1658.2 L502.4 1658.5 L502.7 1658.6 L502.9 1658.5 L503.2 1658.5 L503.4 1658.7 L503.7 1658.7 L503.9 1658.7 L504.2 1659.0 L504.4 1658.6 L504.7 1658.9 L504.9 1658.4 L505.2 1658.5 L505.4 1658.4 L505.7 1658.5 L505.9 1658.4 L506.2 1658.6 L506.4 1658.4 L506.7 1658.4 L506.9 1658.9 L507.2 1658.2 L507.4 1658.4 L507.7 1658.4 L507.9 1658.9 L508.2 1658.2 L508.4 1658.4 L508.7 1658.9 L508.9 1658.9 L509.2 1658.5 L509.4 1659.1 L509.7 1658.4 L509.9 1658.4 L510.2 1658.4 L510.4 1658.9 L510.7 1659.1 L510.9 1658.9 L511.2 1658.9 L511.4 1658.7 L511.7 1658.7 L511.9 1658.3 L512.2 1658.9 L512.5 1658.9 L512.7 1658.4 L513.0 1658.6 L513.2 1658.7 L513.5 1658.6 L513.7 1658.3 L514.0 1658.3 L514.2 1658.7 L514.5 1658.6 L514.7 1658.1 L515.0 1658.5 L515.2 1658.9 L515.5 1658.6 L515.7 1658.4 L516.0 1658.8 L516.2 1658.6 L516.5 1658.6 L516.7 1658.5 L517.0 1658.4 L517.2 1658.7 L517.5 1658.3 L517.7 1658.8 L518.0 1658.6 L518.2 1658.6 L518.5 1658.7 L518.7 1658.3 L519.0 1658.8 L519.2 1658.7 L519.5 1658.4 L519.7 1658.8 L520.0 1659.0 L520.2 1658.8 L520.5 1658.4 L520.7 1658.3 L521.0 1658.2 L521.2 1658.8 L521.5 1658.6 L521.7 1658.5 L522.0 1657.9 L522.2 1658.1 L522.5 1658.7 L522.7 1658.2 L523.0 1658.6 L523.2 1658.6 L523.5 1658.6 L523.7 1658.1 L524.0 1658.2 L524.2 1658.0 L524.5 1658.5 L524.7 1658.7 L525.0 1658.4 L525.2 1658.5 L525.5 1658.6 L525.7 1658.7 L526.0 1658.8 L526.2 1658.6 L526.5 1658.2 L526.7 1658.1 L527.0 1658.4 L527.2 1658.1 L527.5 1658.6 L527.7 1658.1 L528.0 1658.6 L528.2 1658.1 L528.5 1658.6 L528.7 1658.3 L529.0 1658.4 L529.2 1658.3 L529.5 1658.1 L529.7 1658.6 L530.0 1658.4 L530.2 1658.1 L530.5 1658.4 L530.7 1658.4 L531.0 1658.1 L531.2 1658.4 L531.5 1658.2 L531.7 1658.2 L532.0 1658.5 L532.2 1658.2 L532.5 1658.6 L532.7 1658.0 L533.0 1657.7 L533.2 1658.0 L533.5 1658.3 L533.7 1658.5 L534.0 1658.5 L534.2 1658.1 L534.5 1658.5 L534.7 1658.5 L535.0 1658.4 L535.2 1658.1 L535.5 1658.3 L535.7 1658.4 L536.0 1657.7 L536.2 1658.5 L536.5 1658.2 L536.7 1658.2 L537.0 1658.4" fill="none" stroke="#dc3530" stroke-width="0.55" stroke-linejoin="round" stroke-opacity="1.0"/>
<path d="M41.2 1658.3 L41.5 1658.5 L41.7 1658.4 L42.0 1658.3 L42.2 1659.2 L42.5 1658.4 L42.7 1658.5 L43.0 1658.8 L43.2 1658.5 L43.5 1657.9 L43.7 1658.2 L44.0 1658.5 L44.2 1659.2 L44.5 1658.4 L44.7 1658.5 L45.0 1659.5 L45.2 1658.3 L45.5 1659.5 L45.7 1659.2 L46.0 1658.8 L46.2 1658.5 L46.5 1659.0 L46.7 1658.7 L47.0 1658.1 L47.2 1658.1 L47.5 1658.1 L47.7 1658.9 L48.0 1659.1 L48.2 1659.1 L48.5 1659.2 L48.7 1658.8 L49.0 1658.7 L49.2 1658.4 L49.5 1658.2 L49.7 1659.1 L50.0 1658.0 L50.2 1658.2 L50.5 1658.2 L50.7 1658.5 L51.0 1659.0 L51.2 1658.4 L51.5 1658.6 L51.7 1658.4 L52.0 1658.8 L52.2 1658.6 L52.5 1658.0 L52.7 1658.4 L53.0 1658.6 L53.2 1658.6 L53.5 1658.0 L53.7 1658.4 L54.0 1658.2 L54.2 1657.6 L54.5 1658.0 L54.7 1658.9 L55.0 1657.6 L55.2 1658.1 L55.5 1657.9 L55.7 1658.7 L56.0 1658.7 L56.2 1658.8 L56.5 1658.0 L56.7 1657.8 L57.0 1658.0 L57.2 1658.6 L57.5 1657.7 L57.7 1657.9 L58.0 1658.1 L58.2 1657.8 L58.5 1658.7 L58.7 1658.8 L59.0 1657.8 L59.2 1658.8 L59.5 1658.8 L59.7 1658.8 L60.0 1658.4 L60.2 1658.7 L60.5 1658.1 L60.7 1657.6 L61.0 1658.0 L61.2 1657.7 L61.5 1657.9 L61.7 1658.2 L62.0 1658.7 L62.2 1658.0 L62.5 1658.6 L62.7 1657.7 L63.0 1658.7 L63.2 1657.9 L63.5 1658.5 L63.7 1658.7 L64.0 1658.7 L64.2 1658.6 L64.5 1658.1 L64.7 1657.5 L65.0 1656.9 L65.2 1657.4 L65.5 1658.3 L65.7 1658.5 L66.0 1657.3 L66.2 1657.7 L66.5 1658.6 L66.7 1657.2 L67.0 1657.3 L67.2 1658.0 L67.5 1657.1 L67.7 1657.8 L68.0 1657.5 L68.2 1657.2 L68.5 1657.8 L68.7 1657.4 L69.0 1656.9 L69.2 1656.9 L69.5 1657.1 L69.7 1656.6 L70.0 1656.8 L70.2 1657.3 L70.5 1657.4 L70.7 1656.7 L71.0 1656.6 L71.2 1657.7 L71.5 1657.7 L71.7 1656.8 L72.0 1657.3 L72.2 1657.6 L72.5 1657.6 L72.7 1656.7 L73.0 1656.5 L73.2 1657.5 L73.5 1657.5 L73.7 1657.0 L74.0 1657.1 L74.2 1657.4 L74.5 1656.4 L74.7 1657.0 L75.0 1657.3 L75.2 1657.3 L75.5 1656.7 L75.7 1656.6 L76.0 1656.3 L76.2 1656.8 L76.5 1656.3 L76.7 1656.1 L77.0 1656.0 L77.2 1656.7 L77.5 1656.0 L77.7 1656.7 L78.0 1656.0 L78.2 1656.7 L78.5 1656.7 L78.7 1655.8 L79.0 1656.6 L79.2 1656.7 L79.5 1656.5 L79.7 1655.8 L80.0 1655.7 L80.2 1656.0 L80.5 1656.6 L80.7 1656.0 L81.0 1656.4 L81.2 1656.0 L81.5 1655.9 L81.7 1655.6 L82.0 1656.2 L82.2 1654.8 L82.5 1656.1 L82.7 1655.1 L83.0 1655.5 L83.2 1655.1 L83.5 1655.1 L83.7 1656.0 L84.0 1655.8 L84.2 1654.3 L84.5 1655.5 L84.7 1655.7 L85.0 1655.0 L85.2 1654.6 L85.5 1655.2 L85.7 1656.1 L86.0 1654.5 L86.2 1655.1 L86.5 1655.2 L86.7 1655.4 L87.0 1654.2 L87.2 1654.6 L87.5 1654.9 L87.7 1654.0 L88.0 1655.0 L88.2 1655.1 L88.5 1654.8 L88.7 1653.8 L89.0 1654.6 L89.2 1653.9 L89.5 1654.1 L89.7 1653.6 L90.0 1655.0 L90.2 1654.1 L90.5 1654.4 L90.7 1653.8 L91.0 1653.1 L91.2 1653.3 L91.5 1652.8 L91.7 1652.7 L92.0 1652.9 L92.2 1654.0 L92.5 1651.8 L92.7 1653.3 L93.0 1653.0 L93.2 1651.0 L93.5 1652.7 L93.7 1651.2 L94.0 1651.4 L94.2 1652.4 L94.5 1651.9 L94.7 1651.6 L95.0 1650.5 L95.2 1650.9 L95.5 1651.7 L95.7 1649.9 L96.0 1649.9 L96.2 1650.8 L96.5 1651.4 L96.7 1650.9 L97.0 1649.7 L97.2 1649.2 L97.5 1650.0 L97.7 1647.9 L98.0 1650.2 L98.2 1648.8 L98.5 1648.2 L98.7 1648.1 L99.0 1649.6 L99.2 1648.9 L99.5 1648.4 L99.7 1649.2 L100.0 1647.8 L100.2 1648.6 L100.5 1647.7 L100.7 1649.6 L101.0 1648.4 L101.2 1647.0 L101.5 1647.8 L101.7 1644.8 L102.0 1647.1 L102.2 1645.4 L102.5 1647.0 L102.7 1646.3 L103.0 1645.3 L103.2 1645.4 L103.5 1643.0 L103.7 1643.1 L104.0 1643.4 L104.2 1644.8 L104.5 1644.2 L104.7 1644.0 L105.0 1641.7 L105.2 1642.0 L105.5 1641.3 L105.7 1640.4 L106.0 1641.8 L106.2 1641.6 L106.5 1639.0 L106.7 1641.7 L107.0 1638.9 L107.2 1640.4 L107.5 1638.4 L107.7 1640.8 L108.0 1637.8 L108.2 1639.1 L108.5 1637.3 L108.7 1638.6 L109.0 1639.6 L109.2 1636.3 L109.5 1638.9 L109.7 1635.6 L110.0 1638.7 L110.2 1637.1 L110.5 1634.6 L110.7 1635.8 L111.0 1635.5 L111.2 1637.0 L111.5 1633.2 L111.7 1632.5 L112.0 1633.8 L112.2 1634.9 L112.5 1635.2 L112.7 1631.4 L113.0 1630.0 L113.2 1630.0 L113.5 1629.8 L113.7 1628.5 L114.0 1630.1 L114.2 1632.2 L114.5 1628.4 L114.7 1627.7 L115.0 1626.1 L115.2 1628.0 L115.5 1630.0 L115.7 1629.3 L116.0 1625.5 L116.2 1623.6 L116.5 1626.9 L116.7 1622.8 L117.0 1628.0 L117.2 1622.8 L117.5 1628.6 L117.7 1619.6 L118.0 1622.1 L118.2 1622.4 L118.5 1625.0 L118.7 1627.6 L119.0 1624.2 L119.2 1621.2 L119.5 1627.5 L119.7 1627.4 L120.0 1625.1 L120.2 1623.2 L120.5 1621.0 L120.7 1625.9 L121.0 1623.2 L121.2 1627.2 L121.5 1620.5 L121.7 1623.7 L122.0 1627.0 L122.2 1625.0 L122.5 1624.9 L122.7 1620.5 L123.0 1617.9 L123.2 1623.9 L123.5 1614.6 L123.7 1621.5 L124.0 1620.5 L124.2 1612.7 L124.5 1614.8 L124.7 1614.1 L125.0 1612.5 L125.2 1610.5 L125.5 1615.2 L125.7 1614.2 L126.0 1613.4 L126.2 1605.1 L126.5 1609.2 L126.7 1600.5 L127.0 1605.9 L127.2 1609.4 L127.5 1608.3 L127.7 1604.6 L128.0 1602.8 L128.2 1597.7 L128.4 1600.9 L128.7 1602.0 L128.9 1604.8 L129.2 1601.6 L129.4 1596.5 L129.7 1598.4 L129.9 1602.4 L130.2 1600.9 L130.4 1593.3 L130.7 1600.5 L130.9 1592.8 L131.2 1600.7 L131.4 1587.2 L131.7 1589.4 L131.9 1592.6 L132.2 1593.9 L132.4 1585.4 L132.7 1591.1 L132.9 1590.2 L133.2 1591.0 L133.4 1589.8 L133.7 1589.2 L133.9 1587.0 L134.2 1580.5 L134.4 1576.8 L134.7 1583.7 L134.9 1577.0 L135.2 1583.7 L135.4 1579.0 L135.7 1578.0 L135.9 1574.5 L136.2 1574.8 L136.4 1579.2 L136.7 1570.1 L136.9 1577.4 L137.2 1571.4 L137.4 1576.0 L137.7 1575.2 L137.9 1569.9 L138.2 1563.6 L138.4 1565.6 L138.7 1562.3 L138.9 1571.0 L139.2 1570.0 L139.4 1562.2 L139.7 1562.0 L139.9 1560.9 L140.2 1566.0 L140.4 1556.9 L140.7 1557.7 L140.9 1565.4 L141.2 1562.1 L141.4 1562.6 L141.7 1562.5 L141.9 1553.9 L142.2 1553.4 L142.4 1561.3 L142.7 1561.9 L142.9 1561.3 L143.2 1551.6 L143.4 1559.0 L143.7 1557.3 L143.9 1551.4 L144.2 1550.0 L144.4 1550.0 L144.7 1544.9 L144.9 1543.2 L145.2 1545.1 L145.4 1548.0 L145.7 1549.9 L145.9 1540.7 L146.2 1547.5 L146.4 1535.8 L146.7 1542.9 L146.9 1544.3 L147.2 1531.4 L147.4 1536.3 L147.7 1540.1 L147.9 1535.4 L148.2 1525.7 L148.4 1536.3 L148.7 1524.4 L148.9 1528.9 L149.2 1532.8 L149.4 1532.2 L149.7 1517.9 L149.9 1523.0 L150.2 1529.6 L150.4 1514.8 L150.7 1517.7 L150.9 1512.9 L151.2 1515.9 L151.4 1525.3 L151.7 1520.9 L151.9 1513.8 L152.2 1507.6 L152.4 1522.4 L152.7 1509.4 L152.9 1529.9 L153.2 1504.7 L153.4 1525.0 L153.7 1499.8 L153.9 1516.7 L154.2 1512.4 L154.4 1523.3 L154.7 1503.7 L154.9 1487.7 L155.2 1516.1 L155.4 1516.7 L155.7 1491.5 L155.9 1480.9 L156.2 1486.7 L156.4 1468.1 L156.7 1499.1 L156.9 1504.7 L157.2 1473.3 L157.4 1502.5 L157.7 1471.8 L157.9 1484.9 L158.2 1500.0 L158.4 1479.6 L158.7 1458.4 L158.9 1496.8 L159.2 1498.4 L159.4 1475.0 L159.7 1469.9 L159.9 1490.9 L160.2 1471.9 L160.4 1496.3 L160.7 1453.2 L160.9 1496.0 L161.2 1491.3 L161.4 1493.6 L161.7 1495.3 L161.9 1477.8 L162.2 1467.5 L162.4 1453.4 L162.7 1485.0 L162.9 1490.8 L163.2 1468.1 L163.4 1485.4 L163.7 1487.9 L163.9 1476.5 L164.2 1485.9 L164.4 1484.1 L164.7 1479.2 L164.9 1477.2 L165.2 1456.6 L165.4 1468.3 L165.7 1484.8 L165.9 1466.4 L166.2 1484.6 L166.4 1472.3 L166.7 1465.6 L166.9 1474.1 L167.2 1482.9 L167.4 1491.9 L167.7 1478.5 L167.9 1484.8 L168.2 1488.2 L168.4 1473.5 L168.7 1463.1 L168.9 1484.5 L169.2 1496.1 L169.4 1488.6 L169.7 1475.4 L169.9 1481.1 L170.2 1477.1 L170.4 1467.0 L170.7 1462.4 L170.9 1483.2 L171.2 1490.2 L171.4 1481.4 L171.7 1467.4 L171.9 1480.7 L172.2 1460.8 L172.4 1463.8 L172.7 1479.5 L172.9 1486.1 L173.2 1482.9 L173.4 1489.2 L173.7 1471.3 L173.9 1497.3 L174.2 1471.7 L174.4 1474.5 L174.7 1487.1 L174.9 1481.0 L175.2 1488.8 L175.4 1465.8 L175.7 1485.4 L175.9 1462.6 L176.2 1479.4 L176.4 1460.3 L176.7 1488.3 L176.9 1499.7 L177.2 1467.7 L177.4 1486.6 L177.7 1470.6 L177.9 1476.7 L178.2 1462.7 L178.4 1480.3 L178.7 1463.1 L178.9 1479.0 L179.2 1464.5 L179.4 1479.8 L179.7 1475.1 L179.9 1489.3 L180.2 1488.7 L180.4 1467.8 L180.7 1488.4 L180.9 1478.3 L181.2 1458.6 L181.4 1489.4 L181.7 1481.0 L181.9 1483.2 L182.2 1464.1 L182.4 1465.4 L182.7 1488.3 L182.9 1465.5 L183.2 1465.2 L183.4 1476.2 L183.7 1475.8 L183.9 1467.2 L184.2 1485.9 L184.4 1488.5 L184.7 1481.9 L184.9 1473.3 L185.2 1466.3 L185.4 1467.0 L185.7 1464.0 L185.9 1475.5 L186.2 1468.9 L186.4 1474.3 L186.7 1474.0 L186.9 1489.0 L187.2 1472.2 L187.4 1479.3 L187.7 1479.9 L187.9 1465.8 L188.2 1469.8 L188.4 1473.8 L188.7 1494.4 L188.9 1475.2 L189.2 1494.6 L189.4 1513.1 L189.7 1497.0 L189.9 1485.9 L190.2 1499.2 L190.4 1504.9 L190.7 1479.5 L190.9 1481.5 L191.2 1479.8 L191.4 1470.4 L191.7 1488.3 L191.9 1497.8 L192.2 1482.4 L192.4 1480.5 L192.7 1489.9 L192.9 1492.2 L193.2 1482.6 L193.4 1493.1 L193.7 1507.0 L193.9 1471.7 L194.2 1506.3 L194.4 1474.4 L194.7 1496.7 L194.9 1485.7 L195.2 1486.9 L195.4 1485.0 L195.7 1509.2 L195.9 1500.5 L196.2 1467.9 L196.4 1487.2 L196.7 1511.3 L196.9 1509.5 L197.2 1483.7 L197.4 1521.6 L197.7 1504.3 L197.9 1525.9 L198.2 1510.2 L198.4 1491.4 L198.7 1484.3 L198.9 1510.2 L199.2 1503.8 L199.4 1493.3 L199.7 1497.3 L199.9 1515.3 L200.2 1514.2 L200.4 1507.4 L200.7 1494.6 L200.9 1489.2 L201.2 1515.7 L201.4 1490.7 L201.7 1491.2 L201.9 1497.9 L202.2 1507.5 L202.4 1482.3 L202.7 1518.0 L202.9 1509.7 L203.2 1504.8 L203.4 1493.7 L203.7 1502.1 L203.9 1507.3 L204.2 1521.0 L204.4 1500.7 L204.7 1508.1 L204.9 1476.4 L205.2 1500.5 L205.4 1508.9 L205.7 1506.6 L205.9 1479.1 L206.2 1483.8 L206.4 1484.7 L206.7 1494.7 L206.9 1503.3 L207.2 1469.4 L207.4 1490.4 L207.7 1483.6 L207.9 1476.1 L208.2 1471.2 L208.4 1483.5 L208.7 1482.4 L208.9 1478.9 L209.2 1469.7 L209.4 1473.6 L209.7 1457.4 L209.9 1463.8 L210.2 1464.2 L210.4 1443.7 L210.7 1447.9 L210.9 1456.7 L211.2 1461.0 L211.4 1437.8 L211.7 1460.2 L211.9 1441.7 L212.2 1432.5 L212.4 1440.8 L212.7 1455.0 L212.9 1452.9 L213.2 1438.9 L213.4 1425.7 L213.7 1449.3 L213.9 1422.2 L214.2 1426.8 L214.4 1418.6 L214.7 1438.2 L214.9 1432.4 L215.2 1407.7 L215.4 1415.0 L215.7 1403.9 L215.9 1422.6 L216.2 1389.0 L216.4 1418.2 L216.7 1416.5 L216.9 1381.4 L217.2 1371.5 L217.4 1374.4 L217.7 1411.9 L217.9 1356.3 L218.2 1370.4 L218.4 1401.7 L218.7 1368.2 L218.9 1419.9 L219.2 1414.7 L219.4 1380.2 L219.7 1402.0 L219.9 1412.2 L220.2 1395.9 L220.4 1399.1 L220.7 1416.8 L220.9 1388.2 L221.2 1416.0 L221.4 1416.6 L221.7 1406.0 L221.9 1416.9 L222.2 1374.4 L222.4 1393.8 L222.7 1408.9 L222.9 1394.9 L223.2 1389.1 L223.4 1404.5 L223.7 1422.1 L223.9 1425.0 L224.2 1421.0 L224.4 1431.5 L224.7 1389.8 L224.9 1404.3 L225.2 1433.0 L225.4 1443.6 L225.7 1436.9 L225.9 1406.6 L226.2 1453.0 L226.4 1437.4 L226.7 1453.7 L226.9 1462.1 L227.2 1474.7 L227.4 1454.1 L227.7 1443.9 L227.9 1465.0 L228.2 1448.8 L228.4 1455.2 L228.7 1451.8 L228.9 1470.4 L229.2 1474.4 L229.4 1457.3 L229.7 1469.3 L229.9 1474.2 L230.2 1485.5 L230.4 1472.0 L230.7 1475.4 L230.9 1484.9 L231.2 1477.8 L231.4 1478.9 L231.7 1479.8 L231.9 1496.9 L232.2 1485.4 L232.4 1509.1 L232.7 1509.4 L232.9 1518.3 L233.2 1508.0 L233.4 1511.8 L233.7 1522.8 L233.9 1518.4 L234.2 1538.2 L234.4 1535.9 L234.7 1530.0 L234.9 1528.0 L235.2 1535.9 L235.4 1549.2 L235.7 1550.5 L235.9 1540.9 L236.2 1550.2 L236.4 1553.1 L236.7 1541.9 L236.9 1553.1 L237.2 1543.1 L237.4 1534.3 L237.7 1545.5 L237.9 1557.5 L238.2 1560.8 L238.4 1546.7 L238.7 1552.8 L238.9 1558.9 L239.2 1552.4 L239.4 1543.9 L239.7 1543.9 L239.9 1554.9 L240.2 1560.2 L240.4 1547.5 L240.7 1550.7 L240.9 1544.8 L241.2 1562.1 L241.4 1552.8 L241.7 1552.1 L241.9 1562.9 L242.2 1558.6 L242.4 1546.3 L242.7 1547.0 L242.9 1561.6 L243.2 1550.4 L243.4 1565.1 L243.7 1548.4 L243.9 1554.1 L244.2 1561.1 L244.4 1550.5 L244.7 1564.9 L244.9 1575.8 L245.2 1545.8 L245.4 1553.5 L245.7 1567.5 L245.9 1571.9 L246.2 1557.4 L246.4 1561.9 L246.7 1554.4 L246.9 1558.7 L247.2 1562.9 L247.4 1549.2 L247.7 1565.9 L247.9 1550.0 L248.2 1552.2 L248.4 1554.1 L248.7 1569.1 L248.9 1565.3 L249.2 1557.1 L249.4 1575.8 L249.7 1556.5 L249.9 1556.4 L250.2 1556.7 L250.4 1574.0 L250.7 1554.9 L250.9 1575.3 L251.2 1581.5 L251.4 1560.9 L251.7 1566.7 L251.9 1578.7 L252.2 1563.6 L252.4 1580.1 L252.7 1566.2 L252.9 1579.6 L253.2 1573.4 L253.4 1566.8 L253.7 1574.5 L253.9 1585.3 L254.2 1563.8 L254.4 1586.3 L254.7 1572.0 L254.9 1576.6 L255.2 1585.8 L255.4 1573.4 L255.7 1580.3 L255.9 1573.4 L256.2 1574.9 L256.4 1574.5 L256.7 1589.6 L256.9 1586.5 L257.2 1589.1 L257.4 1585.9 L257.7 1578.7 L257.9 1585.4 L258.2 1589.2 L258.4 1588.0 L258.7 1590.8 L258.9 1576.4 L259.2 1591.4 L259.4 1584.2 L259.7 1598.7 L259.9 1574.8 L260.2 1575.8 L260.4 1580.8 L260.7 1584.1 L260.9 1576.8 L261.2 1580.4 L261.4 1587.5 L261.7 1580.0 L261.9 1579.5 L262.2 1593.2 L262.4 1598.0 L262.7 1598.8 L262.9 1579.3 L263.2 1599.7 L263.4 1601.3 L263.7 1597.1 L263.9 1587.0 L264.2 1597.7 L264.4 1598.5 L264.7 1596.6 L264.9 1589.3 L265.2 1606.0 L265.4 1591.9 L265.7 1607.7 L265.9 1609.7 L266.2 1599.4 L266.4 1608.6 L266.7 1603.4 L266.9 1613.5 L267.2 1602.6 L267.4 1610.7 L267.7 1622.1 L267.9 1618.9 L268.2 1614.6 L268.4 1601.3 L268.7 1611.3 L268.9 1624.3 L269.2 1623.6 L269.4 1610.5 L269.7 1611.6 L269.9 1616.8 L270.2 1627.1 L270.4 1627.6 L270.7 1620.0 L270.9 1615.9 L271.2 1628.6 L271.4 1617.2 L271.7 1632.0 L271.9 1618.9 L272.2 1624.6 L272.4 1632.7 L272.7 1632.8 L272.9 1631.5 L273.2 1635.6 L273.4 1636.3 L273.7 1628.6 L273.9 1625.4 L274.2 1630.4 L274.4 1627.1 L274.7 1621.4 L274.9 1637.7 L275.2 1628.7 L275.4 1636.7 L275.7 1627.7 L275.9 1640.1 L276.2 1638.4 L276.4 1640.6 L276.7 1627.7 L276.9 1628.2 L277.2 1636.1 L277.4 1635.1 L277.7 1637.8 L277.9 1630.3 L278.2 1635.7 L278.4 1637.2 L278.7 1633.9 L278.9 1642.8 L279.2 1641.5 L279.4 1631.5 L279.7 1630.4 L279.9 1643.4 L280.2 1643.8 L280.4 1638.3 L280.7 1641.4 L280.9 1625.8 L281.2 1638.1 L281.4 1631.0 L281.7 1636.3 L281.9 1639.4 L282.2 1645.0 L282.4 1631.0 L282.7 1641.4 L282.9 1630.9 L283.2 1631.2 L283.4 1637.3 L283.7 1635.2 L283.9 1642.3 L284.2 1630.8 L284.4 1631.7 L284.7 1627.8 L284.9 1644.6 L285.2 1632.8 L285.4 1641.4 L285.7 1630.8 L285.9 1640.9 L286.2 1646.2 L286.4 1644.0 L286.7 1644.8 L286.9 1630.5 L287.2 1631.0 L287.4 1644.3 L287.7 1630.6 L287.9 1630.6 L288.2 1635.5 L288.4 1648.4 L288.7 1638.2 L288.9 1643.8 L289.2 1630.3 L289.4 1630.2 L289.7 1644.6 L289.9 1630.3 L290.2 1641.7 L290.4 1632.9 L290.7 1644.2 L290.9 1641.4 L291.2 1643.2 L291.4 1647.0 L291.7 1641.9 L291.9 1644.7 L292.2 1640.3 L292.4 1644.7 L292.7 1639.5 L292.9 1639.4 L293.2 1639.4 L293.4 1636.9 L293.7 1630.3 L293.9 1631.1 L294.2 1641.5 L294.4 1636.5 L294.7 1625.2 L294.9 1642.6 L295.2 1649.0 L295.4 1630.3 L295.7 1631.3 L295.9 1642.1 L296.2 1641.8 L296.4 1645.3 L296.7 1635.2 L296.9 1652.0 L297.2 1643.0 L297.4 1644.8 L297.7 1645.0 L297.9 1645.2 L298.2 1644.1 L298.4 1630.1 L298.7 1642.7 L298.9 1647.3 L299.2 1635.5 L299.4 1629.8 L299.7 1641.5 L299.9 1633.2 L300.2 1630.2 L300.4 1641.8 L300.7 1639.8 L300.9 1633.8 L301.2 1638.6 L301.4 1638.4 L301.7 1644.4 L301.9 1631.3 L302.2 1642.9 L302.4 1644.9 L302.7 1643.7 L302.9 1643.9 L303.2 1635.5 L303.4 1645.2 L303.7 1629.9 L303.9 1645.5 L304.2 1642.9 L304.4 1640.0 L304.7 1639.9 L304.9 1641.6 L305.2 1634.4 L305.4 1644.8 L305.7 1645.5 L305.9 1632.2 L306.2 1634.4 L306.4 1638.9 L306.7 1643.4 L306.9 1630.9 L307.2 1641.4 L307.4 1643.7 L307.7 1646.1 L307.9 1645.3 L308.2 1631.1 L308.4 1631.0 L308.7 1633.3 L308.9 1636.0 L309.2 1643.8 L309.4 1632.2 L309.7 1637.7 L309.9 1646.8 L310.2 1631.3 L310.4 1642.7 L310.7 1646.9 L310.9 1634.1 L311.2 1631.8 L311.4 1641.9 L311.7 1634.8 L311.9 1640.1 L312.2 1641.3 L312.4 1646.9 L312.7 1645.8 L312.9 1647.7 L313.2 1633.4 L313.4 1647.6 L313.7 1631.8 L313.9 1633.0 L314.2 1645.0 L314.4 1631.9 L314.7 1641.8 L314.9 1634.3 L315.2 1641.2 L315.4 1648.1 L315.7 1634.9 L315.9 1646.6 L316.2 1647.7 L316.4 1643.1 L316.7 1632.5 L316.9 1648.4 L317.2 1635.0 L317.4 1632.8 L317.7 1632.6 L317.9 1648.1 L318.2 1634.6 L318.4 1642.3 L318.7 1635.6 L318.9 1646.2 L319.2 1638.8 L319.4 1633.0 L319.7 1634.3 L319.9 1636.8 L320.2 1640.3 L320.4 1633.2 L320.7 1641.6 L320.9 1648.4 L321.2 1644.7 L321.4 1639.1 L321.7 1643.3 L321.9 1648.2 L322.2 1649.6 L322.4 1627.9 L322.7 1635.2 L322.9 1634.3 L323.2 1633.8 L323.4 1636.0 L323.7 1653.3 L323.9 1649.5 L324.2 1646.8 L324.4 1645.5 L324.7 1638.5 L324.9 1635.9 L325.2 1650.2 L325.4 1636.7 L325.7 1635.9 L325.9 1647.8 L326.2 1637.0 L326.4 1637.4 L326.7 1650.4 L326.9 1650.3 L327.2 1650.2 L327.4 1628.9 L327.7 1637.8 L327.9 1639.7 L328.2 1647.1 L328.4 1637.4 L328.7 1652.6 L328.9 1637.7 L329.2 1643.7 L329.4 1641.3 L329.7 1649.8 L329.9 1641.2 L330.2 1640.5 L330.4 1644.0 L330.7 1646.6 L330.9 1631.0 L331.2 1647.5 L331.4 1639.1 L331.7 1644.6 L331.9 1637.6 L332.2 1646.6 L332.4 1647.9 L332.7 1651.0 L332.9 1641.0 L333.2 1648.8 L333.4 1643.9 L333.7 1636.2 L333.9 1637.9 L334.2 1642.7 L334.4 1639.2 L334.7 1651.4 L334.9 1638.4 L335.2 1637.8 L335.4 1648.6 L335.7 1637.7 L335.9 1651.1 L336.2 1639.6 L336.4 1643.6 L336.7 1638.0 L336.9 1644.2 L337.2 1639.7 L337.4 1651.9 L337.7 1649.7 L337.9 1651.7 L338.2 1638.4 L338.4 1644.1 L338.7 1646.4 L338.9 1638.7 L339.2 1646.0 L339.4 1645.1 L339.7 1634.1 L339.9 1650.4 L340.2 1644.3 L340.4 1638.9 L340.7 1645.4 L340.9 1642.5 L341.2 1643.5 L341.4 1657.2 L341.7 1648.2 L341.9 1646.9 L342.2 1652.4 L342.4 1640.9 L342.7 1640.3 L342.9 1640.3 L343.2 1651.1 L343.4 1646.5 L343.7 1642.1 L343.9 1650.9 L344.2 1643.2 L344.4 1652.1 L344.7 1643.8 L344.9 1652.6 L345.2 1640.6 L345.4 1646.4 L345.7 1641.8 L345.9 1640.8 L346.2 1655.3 L346.4 1643.5 L346.7 1647.6 L346.9 1643.0 L347.2 1650.4 L347.4 1652.0 L347.7 1653.4 L347.9 1651.2 L348.2 1648.0 L348.4 1653.5 L348.7 1644.6 L348.9 1643.3 L349.2 1642.9 L349.4 1642.0 L349.7 1645.4 L349.9 1642.3 L350.2 1645.2 L350.4 1649.2 L350.7 1645.4 L350.9 1646.7 L351.2 1647.1 L351.4 1644.5 L351.7 1653.2 L351.9 1647.2 L352.2 1652.2 L352.4 1643.1 L352.7 1656.1 L352.9 1654.0 L353.2 1651.4 L353.4 1653.8 L353.7 1643.9 L353.9 1643.6 L354.2 1644.0 L354.4 1643.8 L354.7 1655.8 L354.9 1651.2 L355.2 1640.8 L355.4 1649.7 L355.7 1645.6 L355.9 1644.8 L356.2 1644.4 L356.4 1648.3 L356.7 1645.9 L356.9 1645.1 L357.2 1646.6 L357.4 1654.5 L357.7 1645.3 L357.9 1647.4 L358.2 1649.6 L358.4 1653.4 L358.7 1646.1 L358.9 1655.0 L359.2 1645.3 L359.4 1652.9 L359.7 1655.1 L359.9 1648.6 L360.2 1650.0 L360.4 1654.2 L360.7 1647.9 L360.9 1648.0 L361.2 1652.0 L361.4 1648.9 L361.7 1651.5 L361.9 1655.2 L362.2 1652.3 L362.4 1648.3 L362.7 1648.1 L362.9 1655.7 L363.2 1646.3 L363.4 1647.2 L363.7 1646.1 L363.9 1651.5 L364.2 1643.1 L364.4 1653.9 L364.7 1650.2 L364.9 1650.7 L365.2 1656.1 L365.4 1652.8 L365.7 1647.4 L365.9 1653.2 L366.2 1653.3 L366.4 1647.6 L366.7 1644.5 L366.9 1647.5 L367.2 1647.5 L367.4 1647.5 L367.7 1648.2 L367.9 1654.4 L368.2 1653.0 L368.4 1648.0 L368.7 1646.8 L368.9 1647.8 L369.2 1643.8 L369.4 1655.2 L369.7 1651.1 L369.9 1652.7 L370.2 1648.3 L370.4 1654.5 L370.7 1660.4 L370.9 1648.6 L371.2 1650.5 L371.4 1648.6 L371.7 1647.7 L371.9 1650.8 L372.2 1649.0 L372.4 1649.6 L372.7 1655.7 L372.9 1652.5 L373.2 1651.0 L373.4 1650.7 L373.7 1661.0 L373.9 1655.9 L374.2 1650.6 L374.4 1657.3 L374.7 1650.3 L374.9 1648.1 L375.2 1659.6 L375.4 1649.9 L375.7 1655.3 L375.9 1649.8 L376.2 1659.7 L376.4 1655.9 L376.7 1652.6 L376.9 1656.0 L377.2 1657.7 L377.4 1651.3 L377.7 1646.6 L377.9 1653.1 L378.2 1656.4 L378.4 1656.3 L378.7 1656.6 L378.9 1654.4 L379.2 1651.2 L379.4 1658.5 L379.7 1658.5 L379.9 1653.7 L380.2 1658.5 L380.4 1652.6 L380.7 1650.6 L380.9 1651.8 L381.2 1654.6 L381.4 1658.7 L381.7 1656.3 L381.9 1652.2 L382.2 1651.2 L382.4 1650.6 L382.7 1652.1 L382.9 1652.2 L383.2 1650.7 L383.4 1652.0 L383.7 1655.8 L383.9 1657.9 L384.2 1650.7 L384.4 1654.7 L384.7 1651.9 L384.9 1657.5 L385.2 1650.6 L385.4 1662.2 L385.7 1662.1 L385.9 1653.9 L386.2 1658.1 L386.4 1662.3 L386.7 1650.7 L386.9 1650.7 L387.2 1651.5 L387.4 1658.2 L387.7 1658.3 L387.9 1650.4 L388.2 1651.9 L388.4 1653.6 L388.7 1656.3 L388.9 1655.3 L389.2 1657.8 L389.4 1657.3 L389.7 1654.1 L389.9 1658.4 L390.2 1658.5 L390.4 1656.5 L390.7 1653.7 L390.9 1658.3 L391.2 1660.3 L391.4 1651.2 L391.7 1657.3 L391.9 1652.2 L392.2 1652.9 L392.4 1655.2 L392.7 1651.0 L392.9 1655.8 L393.2 1647.5 L393.4 1656.1 L393.7 1655.3 L393.9 1658.5 L394.2 1658.5 L394.4 1658.5 L394.7 1658.3 L394.9 1661.1 L395.2 1658.0 L395.4 1658.5 L395.7 1653.4 L395.9 1658.0 L396.2 1654.3 L396.4 1651.9 L396.7 1652.0 L396.9 1654.4 L397.2 1653.3 L397.4 1651.6 L397.7 1651.5 L397.9 1651.7 L398.2 1653.8 L398.4 1655.6 L398.7 1652.4 L398.9 1656.4 L399.2 1658.4 L399.4 1651.7 L399.7 1658.0 L399.9 1658.3 L400.2 1653.7 L400.4 1658.2 L400.7 1649.4 L400.9 1657.7 L401.2 1658.1 L401.4 1653.7 L401.7 1650.3 L401.9 1658.4 L402.2 1652.0 L402.4 1658.4 L402.7 1655.9 L402.9 1658.3 L403.2 1654.3 L403.4 1658.1 L403.7 1653.2 L403.9 1658.2 L404.2 1652.8 L404.4 1653.4 L404.7 1657.0 L404.9 1655.6 L405.2 1654.6 L405.4 1658.0 L405.7 1651.5 L405.9 1658.1 L406.2 1659.6 L406.4 1656.0 L406.7 1655.5 L406.9 1651.0 L407.2 1650.9 L407.4 1660.6 L407.7 1658.2 L407.9 1657.2 L408.2 1650.7 L408.4 1658.0 L408.7 1658.2 L408.9 1650.2 L409.2 1655.4 L409.4 1660.8 L409.7 1652.8 L409.9 1650.2 L410.2 1656.4 L410.4 1656.8 L410.7 1656.6 L410.9 1655.5 L411.2 1661.2 L411.4 1652.8 L411.7 1657.5 L411.9 1657.5 L412.2 1656.4 L412.4 1658.5 L412.7 1658.6 L412.9 1657.4 L413.2 1655.2 L413.4 1661.3 L413.7 1658.8 L413.9 1658.8 L414.2 1654.2 L414.4 1652.0 L414.7 1658.8 L414.9 1657.8 L415.2 1652.2 L415.4 1658.3 L415.7 1653.5 L415.9 1660.0 L416.2 1655.7 L416.4 1653.6 L416.7 1655.1 L416.9 1657.9 L417.2 1655.0 L417.4 1657.9 L417.7 1652.6 L417.9 1657.9 L418.2 1658.5 L418.4 1658.9 L418.7 1658.4 L418.9 1653.9 L419.2 1655.7 L419.4 1657.0 L419.7 1655.4 L419.9 1654.2 L420.2 1654.3 L420.4 1656.4 L420.7 1654.1 L420.9 1654.2 L421.2 1654.4 L421.4 1658.5 L421.7 1658.9 L421.9 1657.9 L422.2 1658.5 L422.4 1658.6 L422.7 1661.2 L422.9 1654.4 L423.2 1659.0 L423.4 1654.5 L423.7 1655.7 L423.9 1658.6 L424.2 1656.7 L424.4 1658.9 L424.7 1658.9 L424.9 1657.9 L425.2 1655.8 L425.4 1657.3 L425.7 1653.5 L425.9 1656.1 L426.2 1655.6 L426.4 1658.3 L426.7 1660.6 L426.9 1655.0 L427.2 1655.0 L427.4 1655.5 L427.7 1653.9 L427.9 1654.9 L428.2 1659.8 L428.4 1658.5 L428.7 1658.9 L428.9 1655.7 L429.2 1656.4 L429.4 1656.5 L429.7 1658.7 L429.9 1658.0 L430.2 1658.9 L430.4 1655.8 L430.7 1654.4 L430.9 1659.1 L431.2 1659.1 L431.4 1656.0 L431.7 1655.3 L431.9 1655.2 L432.2 1658.5 L432.4 1658.5 L432.7 1655.7 L432.9 1655.3 L433.2 1654.6 L433.4 1655.3 L433.7 1655.6 L433.9 1657.5 L434.2 1655.4 L434.4 1658.7 L434.7 1658.8 L434.9 1659.1 L435.2 1659.1 L435.4 1657.0 L435.7 1658.2 L435.9 1659.0 L436.2 1659.2 L436.4 1653.9 L436.7 1655.7 L436.9 1656.5 L437.2 1657.8 L437.4 1658.4 L437.7 1656.6 L437.9 1658.8 L438.2 1656.2 L438.4 1658.6 L438.7 1657.2 L438.9 1657.8 L439.2 1658.9 L439.4 1657.6 L439.7 1657.8 L439.9 1656.1 L440.2 1658.7 L440.4 1657.8 L440.7 1656.9 L440.9 1657.7 L441.2 1655.9 L441.4 1659.6 L441.7 1655.9 L441.9 1657.6 L442.2 1656.3 L442.4 1658.7 L442.7 1659.1 L442.9 1656.0 L443.2 1657.6 L443.4 1656.1 L443.7 1658.7 L443.9 1655.6 L444.2 1656.3 L444.4 1657.4 L444.7 1657.3 L444.9 1659.2 L445.2 1656.2 L445.4 1659.4 L445.7 1656.9 L445.9 1656.2 L446.2 1656.2 L446.4 1656.3 L446.7 1659.4 L446.9 1658.9 L447.2 1658.8 L447.4 1656.9 L447.7 1657.9 L447.9 1656.5 L448.2 1657.6 L448.4 1656.4 L448.7 1657.2 L448.9 1657.8 L449.2 1657.5 L449.4 1659.2 L449.7 1659.2 L449.9 1656.5 L450.2 1659.4 L450.4 1656.5 L450.7 1658.9 L450.9 1659.5 L451.2 1655.2 L451.4 1657.4 L451.7 1659.6 L451.9 1656.9 L452.2 1660.8 L452.4 1658.4 L452.7 1656.9 L452.9 1657.0 L453.2 1656.6 L453.4 1656.8 L453.7 1655.2 L453.9 1659.4 L454.2 1657.1 L454.4 1659.5 L454.7 1658.7 L454.9 1659.3 L455.2 1658.8 L455.4 1656.8 L455.7 1659.0 L455.9 1657.0 L456.2 1656.8 L456.4 1657.2 L456.7 1660.5 L456.9 1656.1 L457.2 1656.8 L457.4 1659.6 L457.7 1658.9 L457.9 1659.0 L458.2 1659.4 L458.4 1658.4 L458.7 1656.2 L458.9 1658.6 L459.2 1656.8 L459.4 1655.8 L459.7 1657.7 L459.9 1659.6 L460.2 1659.5 L460.4 1658.3 L460.7 1657.0 L460.9 1659.5 L461.2 1659.2 L461.4 1658.1 L461.7 1656.0 L461.9 1659.5 L462.2 1658.8 L462.4 1658.4 L462.7 1659.2 L462.9 1659.1 L463.2 1657.0 L463.4 1657.0 L463.7 1657.5 L463.9 1656.5 L464.2 1659.2 L464.4 1660.0 L464.7 1658.2 L464.9 1657.5 L465.2 1659.3 L465.4 1657.6 L465.7 1658.6 L465.9 1657.6 L466.2 1659.5 L466.4 1657.2 L466.7 1657.2 L466.9 1657.3 L467.2 1657.0 L467.4 1659.0 L467.7 1657.2 L467.9 1657.9 L468.2 1658.9 L468.4 1659.3 L468.7 1659.0 L468.9 1656.2 L469.2 1657.2 L469.4 1659.1 L469.7 1659.3 L469.9 1658.0 L470.2 1657.8 L470.4 1657.2 L470.7 1660.1 L470.9 1657.7 L471.2 1657.3 L471.4 1659.4 L471.7 1658.4 L471.9 1656.3 L472.2 1658.7 L472.4 1659.0 L472.7 1659.5 L472.9 1657.3 L473.2 1658.3 L473.4 1657.7 L473.7 1659.3 L473.9 1658.3 L474.2 1659.5 L474.4 1659.2 L474.7 1657.8 L474.9 1659.5 L475.2 1658.1 L475.4 1659.5 L475.7 1658.7 L475.9 1659.5 L476.2 1658.3 L476.4 1659.1 L476.7 1659.3 L476.9 1657.8 L477.2 1657.5 L477.4 1657.5 L477.7 1657.7 L477.9 1658.2 L478.2 1659.5 L478.4 1659.2 L478.7 1658.3 L478.9 1659.4 L479.2 1659.5 L479.4 1660.4 L479.7 1658.6 L479.9 1657.6 L480.2 1659.4 L480.4 1659.1 L480.7 1658.2 L480.9 1657.8 L481.2 1657.7 L481.4 1658.9 L481.7 1658.0 L481.9 1657.7 L482.2 1659.5 L482.4 1658.0 L482.7 1657.7 L482.9 1659.5 L483.2 1658.2 L483.4 1659.5 L483.7 1659.5 L483.9 1659.3 L484.2 1659.4 L484.4 1658.4 L484.7 1658.0 L484.9 1659.5 L485.2 1658.0 L485.4 1657.8 L485.7 1657.3 L485.9 1659.4 L486.2 1659.0 L486.4 1657.8 L486.7 1659.4 L486.9 1659.5 L487.2 1658.6 L487.4 1659.4 L487.7 1657.9 L487.9 1659.3 L488.2 1658.2 L488.4 1658.6 L488.7 1657.9 L488.9 1657.9 L489.2 1659.4 L489.4 1657.3 L489.7 1657.7 L489.9 1659.5 L490.2 1659.3 L490.4 1659.5 L490.7 1659.3 L490.9 1659.4 L491.2 1659.2 L491.4 1658.8 L491.7 1658.0 L491.9 1658.0 L492.2 1658.2 L492.4 1658.2 L492.7 1659.4 L492.9 1659.4 L493.2 1658.3 L493.4 1659.2 L493.7 1658.4 L493.9 1658.6 L494.2 1659.1 L494.4 1659.4 L494.7 1659.2 L494.9 1659.3 L495.2 1659.1 L495.4 1659.2 L495.7 1658.7 L495.9 1658.6 L496.2 1658.3 L496.4 1659.1 L496.7 1658.6 L496.9 1659.4 L497.2 1658.8 L497.4 1658.9 L497.7 1659.1 L497.9 1659.1 L498.2 1659.1 L498.4 1658.6 L498.7 1658.3 L498.9 1659.1 L499.2 1659.1 L499.4 1658.8 L499.7 1659.1 L499.9 1659.0 L500.2 1658.5 L500.4 1658.5 L500.7 1659.1 L500.9 1658.8 L501.2 1658.8 L501.4 1659.1 L501.7 1658.9 L501.9 1659.3 L502.2 1658.7 L502.4 1658.7 L502.7 1658.7 L502.9 1658.8 L503.2 1658.2 L503.4 1658.5 L503.7 1659.0 L503.9 1658.8 L504.2 1658.7 L504.4 1659.0 L504.7 1658.9 L504.9 1658.5 L505.2 1658.3 L505.4 1658.3 L505.7 1658.6 L505.9 1658.4 L506.2 1658.4 L506.4 1658.6 L506.7 1659.0 L506.9 1658.2 L507.2 1658.3 L507.4 1658.5 L507.7 1659.0 L507.9 1659.0 L508.2 1658.7 L508.4 1658.5 L508.7 1658.7 L508.9 1658.9 L509.2 1658.7 L509.4 1658.4 L509.7 1658.7 L509.9 1658.1 L510.2 1658.8 L510.4 1658.9 L510.7 1658.6 L510.9 1658.7 L511.2 1658.8 L511.4 1659.2 L511.7 1658.8 L511.9 1659.1 L512.2 1658.4 L512.5 1658.7 L512.7 1658.3 L513.0 1658.7 L513.2 1658.8 L513.5 1658.9 L513.7 1658.3 L514.0 1658.9 L514.2 1658.4 L514.5 1658.3 L514.7 1658.7 L515.0 1658.7 L515.2 1658.7 L515.5 1658.4 L515.7 1658.1 L516.0 1658.6 L516.2 1658.7 L516.5 1658.8 L516.7 1658.3 L517.0 1658.7 L517.2 1658.8 L517.5 1658.6 L517.7 1658.8 L518.0 1658.8 L518.2 1658.2 L518.5 1658.3 L518.7 1658.3 L519.0 1658.3 L519.2 1658.2 L519.5 1658.5 L519.7 1658.4 L520.0 1658.5 L520.2 1658.7 L520.5 1658.2 L520.7 1658.9 L521.0 1658.2 L521.2 1658.8 L521.5 1658.2 L521.7 1658.2 L522.0 1658.2 L522.2 1658.1 L522.5 1658.7 L522.7 1658.6 L523.0 1658.7 L523.2 1658.7 L523.5 1658.7 L523.7 1658.3 L524.0 1658.7 L524.2 1658.7 L524.5 1658.4 L524.7 1658.6 L525.0 1658.4 L525.2 1658.3 L525.5 1658.2 L525.7 1658.6 L526.0 1658.1 L526.2 1658.9 L526.5 1658.1 L526.7 1658.7 L527.0 1658.5 L527.2 1658.5 L527.5 1658.1 L527.7 1658.4 L528.0 1658.2 L528.2 1658.6 L528.5 1658.0 L528.7 1658.6 L529.0 1658.5 L529.2 1658.2 L529.5 1658.0 L529.7 1658.1 L530.0 1658.3 L530.2 1658.5 L530.5 1658.5 L530.7 1658.4 L531.0 1658.1 L531.2 1658.0 L531.5 1658.1 L531.7 1658.7 L532.0 1658.0 L532.2 1658.0 L532.5 1657.8 L532.7 1658.0 L533.0 1658.5 L533.2 1658.1 L533.5 1658.2 L533.7 1658.0 L534.0 1658.0 L534.2 1658.2 L534.5 1658.1 L534.7 1658.5 L535.0 1658.0 L535.2 1658.1 L535.5 1657.9 L535.7 1658.1 L536.0 1658.2 L536.2 1658.3 L536.5 1657.9 L536.7 1658.5 L537.0 1658.2" fill="none" stroke="#dc3530" stroke-width="0.55" stroke-linejoin="round" stroke-opacity="1.0"/>
<path d="M217.3 1400.0 L217.6 1354.8 L217.9 1395.0" fill="none" stroke="#dd3a35" stroke-width="0.7" stroke-linejoin="round" stroke-opacity="1.0"/>
<path d="M175.0 1470.0 L175.3 1437.0 L175.6 1470.0" fill="none" stroke="#dd3a35" stroke-width="0.7" stroke-linejoin="round" stroke-opacity="1.0"/>
<path d="M113.0 1630.0 L113.4 1621.0 L113.8 1632.0" fill="none" stroke="#dd3a35" stroke-width="0.7" stroke-linejoin="round" stroke-opacity="1.0"/>
<g transform="translate(589.85,1315.20)">
<text transform="translate(288.9,9.8) scale(0.99,1)" font-size="10.0" font-weight="bold" style="stroke:none" text-anchor="middle" fill="#111">Predicted niche occupancy</text>
<rect x="21.5" y="27.5" width="534.8" height="328.8" fill="none" stroke="#4d5257" stroke-width="1"/>
<text transform="translate(40.95,375.4) scale(0.905,1)" font-size="9.6" text-anchor="middle" fill="#111">0</text>
<text transform="translate(126.56,375.4) scale(0.905,1)" font-size="9.6" text-anchor="middle" fill="#111">200</text>
<text transform="translate(212.17,375.4) scale(0.905,1)" font-size="9.6" text-anchor="middle" fill="#111">400</text>
<text transform="translate(297.77,375.4) scale(0.905,1)" font-size="9.6" text-anchor="middle" fill="#111">600</text>
<text transform="translate(383.38,375.4) scale(0.905,1)" font-size="9.6" text-anchor="middle" fill="#111">800</text>
<text transform="translate(468.99,375.4) scale(0.905,1)" font-size="9.6" text-anchor="middle" fill="#111">1000</text>
<text transform="translate(554.60,375.4) scale(0.905,1)" font-size="9.6" text-anchor="middle" fill="#111">1200</text>
<text transform="translate(8.9,344.10) rotate(-90) scale(0.905,1)" font-size="9.6" text-anchor="middle" fill="#111">0.000</text>
<text transform="translate(8.9,283.68) rotate(-90) scale(0.905,1)" font-size="9.6" text-anchor="middle" fill="#111">0.002</text>
<text transform="translate(8.9,223.26) rotate(-90) scale(0.905,1)" font-size="9.6" text-anchor="middle" fill="#111">0.004</text>
<text transform="translate(8.9,162.84) rotate(-90) scale(0.905,1)" font-size="9.6" text-anchor="middle" fill="#111">0.006</text>
<text transform="translate(8.9,102.42) rotate(-90) scale(0.905,1)" font-size="9.6" text-anchor="middle" fill="#111">0.008</text>
<text transform="translate(8.9,42.00) rotate(-90) scale(0.905,1)" font-size="9.6" text-anchor="middle" fill="#111">0.010</text>
<path d="M40.95 356.3V361.60M126.56 356.3V361.60M212.17 356.3V361.60M297.77 356.3V361.60M383.38 356.3V361.60M468.99 356.3V361.60M554.60 356.3V361.60M16.20 344.10H21.5M16.20 283.68H21.5M16.20 223.26H21.5M16.20 162.84H21.5M16.20 102.42H21.5M16.20 42.00H21.5" stroke="#4d5257" stroke-width="1" fill="none"/>
<text transform="translate(288.9,395.8) scale(0.905,1)" font-size="9.6" text-anchor="middle" fill="#111">bio13</text>
</g>
<path d="M631.0 1659.6 L631.6 1658.9 L632.2 1659.3 L632.8 1659.5 L633.4 1659.4 L634.0 1659.6 L634.6 1659.5 L635.2 1659.6 L635.8 1658.5 L636.4 1659.0 L637.0 1659.0 L637.6 1658.5 L638.2 1658.4 L638.8 1659.4 L639.4 1659.6 L640.0 1659.3 L640.6 1658.7 L641.2 1659.2 L641.8 1658.7 L642.4 1659.2 L643.0 1658.6 L643.6 1659.2 L644.2 1659.5 L644.8 1659.5 L645.4 1659.3 L646.0 1659.3 L646.6 1659.1 L647.2 1658.9 L647.8 1659.3 L648.4 1658.1 L649.0 1658.2 L649.6 1658.3 L650.2 1657.9 L650.8 1658.1 L651.4 1657.2 L652.0 1656.8 L652.6 1656.7 L653.2 1657.5 L653.8 1656.3 L654.4 1656.1 L655.0 1656.1 L655.6 1656.1 L656.2 1656.0 L656.8 1654.9 L657.4 1655.7 L658.0 1655.2 L658.6 1654.4 L659.2 1654.0 L659.8 1654.6 L660.4 1654.6 L661.0 1654.3 L661.6 1654.3 L662.2 1655.0 L662.8 1655.0 L663.4 1655.2 L664.0 1654.6 L664.6 1655.2 L665.2 1654.3 L665.8 1653.9 L666.4 1653.8 L667.0 1654.2 L667.6 1653.6 L668.2 1653.4 L668.8 1653.1 L669.4 1652.8 L670.0 1652.1 L670.6 1652.3 L671.2 1651.2 L671.8 1651.3 L672.4 1650.6 L673.0 1650.4 L673.6 1651.1 L674.2 1650.4 L674.8 1650.3 L675.4 1649.8 L676.0 1649.5 L676.6 1649.2 L677.2 1648.0 L677.8 1646.9 L678.4 1646.0 L679.0 1645.0 L680.0 1642.5 L680.5 1638.4 L680.9 1638.2 L681.4 1634.3 L681.8 1633.3 L682.3 1630.2 L682.7 1629.7 L683.2 1628.2 L683.6 1625.0 L684.1 1624.5 L684.5 1623.0 L685.0 1620.4 L685.4 1619.9 L685.9 1619.2 L686.3 1618.2 L686.8 1617.3 L687.2 1614.0 L687.7 1614.6 L688.1 1611.9 L688.6 1613.0 L689.0 1610.0 L689.5 1610.7 L689.9 1608.2 L690.4 1609.8 L690.8 1609.9 L691.3 1610.8 L691.7 1612.1 L692.2 1614.4 L692.6 1615.0 L693.1 1617.4 L693.5 1617.3 L694.0 1616.4 L694.4 1616.2 L694.9 1613.5 L695.3 1610.6 L695.8 1608.4 L696.2 1606.4 L696.7 1605.1 L697.1 1604.7 L697.6 1604.7 L698.0 1604.4 L698.5 1603.4 L698.9 1601.4 L699.4 1600.1 L699.8 1600.2 L700.3 1599.3 L700.7 1598.2 L701.2 1596.0 L701.6 1595.2 L702.1 1592.1 L702.5 1590.9 L703.0 1590.8 L703.4 1589.8 L703.9 1587.7 L704.3 1586.3 L704.8 1584.8 L705.2 1582.4 L705.7 1581.7 L706.1 1579.9 L706.6 1578.1 L707.0 1576.1 L707.5 1576.4 L707.9 1572.7 L708.4 1572.7 L708.8 1570.6 L709.3 1567.0 L709.7 1565.8 L710.2 1562.1 L710.6 1560.3 L711.1 1558.5 L711.5 1556.0 L712.0 1554.9 L712.4 1553.3 L712.9 1552.3 L713.3 1551.4 L713.8 1549.7 L714.2 1545.2 L714.7 1541.0 L715.1 1537.2 L715.6 1532.7 L716.0 1528.2 L716.5 1524.6 L716.9 1522.4 L717.4 1518.0 L717.8 1516.9 L718.3 1513.2 L718.7 1507.8 L719.2 1500.7 L719.6 1492.2 L720.1 1483.8 L720.5 1480.3 L721.0 1475.2 L721.4 1467.9 L721.9 1464.3 L722.3 1458.0 L722.8 1444.9 L723.2 1432.3 L723.7 1418.0 L724.1 1403.0 L724.6 1395.3 L725.0 1390.3 L725.5 1385.7 L725.9 1377.8 L726.4 1372.6 L726.8 1366.6 L727.3 1363.3 L727.7 1356.9 L728.2 1355.8 L728.6 1354.6 L729.1 1362.1 L729.5 1366.8 L730.0 1371.6 L730.4 1377.6 L730.9 1379.8 L731.3 1383.3 L731.8 1387.2 L732.2 1391.8 L732.7 1396.6 L733.1 1400.8 L733.6 1410.4 L734.0 1419.9 L734.5 1430.0 L734.9 1439.6 L735.4 1449.8 L735.8 1461.6 L736.3 1473.5 L736.7 1484.4 L737.2 1490.2 L737.6 1494.2 L738.1 1496.5 L738.5 1501.3 L739.0 1505.2 L739.4 1507.3 L739.9 1510.3 L740.3 1512.5 L740.8 1514.4 L741.2 1514.8 L741.7 1516.0 L742.1 1519.5 L742.6 1522.1 L743.0 1523.6 L743.5 1525.6 L743.9 1530.0 L744.4 1532.6 L744.8 1534.2 L745.3 1537.9 L745.7 1534.9 L746.2 1531.6 L746.6 1529.5 L747.1 1528.3 L747.5 1530.2 L748.0 1534.4 L748.4 1539.8 L748.9 1546.4 L749.3 1549.6 L749.8 1554.6 L750.2 1559.6 L750.7 1554.3 L751.1 1551.9 L751.6 1548.1 L752.0 1546.5 L752.5 1541.6 L752.9 1540.8 L753.4 1538.8 L753.8 1541.8 L754.3 1541.9 L754.7 1542.3 L755.2 1543.5 L755.6 1544.2 L756.1 1545.4 L756.5 1549.3 L757.0 1549.7 L757.4 1551.9 L757.9 1554.9 L758.3 1554.7 L758.8 1556.8 L759.2 1561.2 L759.7 1562.4 L760.1 1566.1 L760.6 1572.7 L761.0 1576.3 L761.5 1581.1 L761.9 1585.4 L762.4 1591.2 L762.8 1593.4 L763.3 1596.1 L763.7 1596.8 L764.2 1599.7 L764.6 1600.8 L765.1 1602.4 L765.5 1603.1 L766.0 1603.0 L766.4 1603.5 L766.9 1605.0 L767.3 1603.8 L767.8 1602.4 L768.2 1603.4 L768.7 1602.0 L769.1 1600.1 L769.6 1599.6 L770.0 1598.0 L770.5 1598.5 L770.9 1597.0 L771.4 1595.7 L771.8 1599.1 L772.3 1600.1 L772.7 1603.6 L773.2 1605.0 L773.6 1605.9 L774.1 1608.2 L774.5 1610.0 L775.0 1612.0 L775.4 1612.6 L775.9 1614.7 L776.3 1615.6 L776.8 1616.5 L777.2 1615.9 L777.7 1618.3 L778.1 1616.6 L778.6 1618.8 L779.0 1617.4 L779.5 1618.8 L779.9 1618.0 L780.4 1619.5 L780.8 1618.6 L781.3 1620.5 L781.7 1619.5 L782.2 1620.9 L782.6 1619.2 L783.1 1621.3 L783.5 1619.9 L784.0 1619.1 L784.4 1618.3 L784.9 1619.0 L785.3 1620.5 L785.8 1618.9 L786.2 1620.1 L786.7 1617.7 L787.1 1618.0 L787.6 1619.9 L788.0 1618.4 L788.5 1617.8 L788.9 1619.8 L789.4 1619.9 L789.8 1618.6 L790.3 1619.8 L790.7 1620.0 L791.2 1617.4 L791.6 1615.9 L792.1 1617.1 L792.5 1615.1 L793.0 1614.5 L793.4 1614.0 L793.9 1611.2 L794.3 1612.1 L794.8 1615.5 L795.2 1617.9 L795.7 1618.7 L796.1 1621.2 L796.6 1624.5 L797.0 1625.7 L797.5 1627.3 L797.9 1627.3 L798.4 1627.6 L798.8 1627.5 L799.3 1628.3 L799.7 1628.9 L800.2 1629.5 L800.6 1630.7 L801.1 1629.7 L801.5 1630.6 L802.0 1632.3 L802.4 1632.1 L802.9 1631.4 L803.3 1630.7 L803.8 1631.0 L804.2 1633.3 L804.7 1631.8 L805.1 1631.1 L805.6 1630.8 L806.0 1632.8 L806.5 1631.0 L806.9 1631.9 L807.4 1631.9 L807.8 1632.5 L808.3 1634.2 L808.7 1633.4 L809.2 1632.7 L809.6 1635.0 L810.1 1635.6 L810.5 1636.4 L811.0 1634.6 L811.4 1637.7 L811.9 1637.6 L812.3 1638.0 L812.8 1638.6 L813.2 1638.8 L813.7 1638.7 L814.1 1637.6 L814.6 1638.9 L815.0 1639.5 L815.5 1639.4 L815.9 1638.5 L816.4 1639.0 L816.8 1640.1 L817.3 1639.6 L817.7 1640.4 L818.2 1639.4 L818.6 1639.4 L819.1 1638.8 L819.5 1639.8 L820.0 1638.3 L820.4 1639.9 L820.9 1640.7 L821.3 1640.8 L821.8 1640.5 L822.2 1640.3 L822.7 1639.9 L823.1 1640.6 L823.6 1639.8 L824.0 1642.1 L824.5 1642.7 L824.9 1641.3 L825.4 1640.8 L825.8 1642.5 L826.3 1642.0 L826.7 1643.8 L827.2 1643.2 L827.6 1641.5 L828.1 1643.1 L828.5 1642.8 L829.0 1644.1 L829.4 1643.6 L829.9 1642.1 L830.3 1643.4 L830.8 1644.8 L831.2 1643.9 L831.7 1643.2 L832.1 1642.8 L832.6 1644.9 L833.0 1643.2 L833.5 1644.6 L833.9 1645.9 L834.4 1645.8 L834.8 1643.7 L835.3 1645.3 L835.7 1646.9 L836.2 1645.4 L836.6 1646.6 L837.1 1647.4 L837.5 1646.3 L838.0 1646.0 L838.4 1647.9 L838.9 1648.4 L839.3 1647.4 L839.8 1648.1 L840.2 1648.7 L840.7 1646.8 L841.1 1648.7 L841.6 1648.2 L842.0 1649.1 L842.5 1650.1 L842.9 1648.6 L843.4 1648.4 L843.8 1650.2 L844.3 1651.5 L844.7 1649.7 L845.2 1652.0 L845.6 1652.2 L846.1 1652.2 L846.5 1651.8 L847.0 1652.0 L847.4 1652.5 L847.9 1653.2 L848.3 1651.5 L848.8 1653.6 L849.2 1652.2 L849.7 1653.8 L850.1 1653.6 L850.6 1654.4 L851.0 1653.5 L851.5 1653.1 L851.9 1654.6 L852.4 1654.0 L852.8 1654.9 L853.3 1653.8 L853.7 1654.6 L854.2 1655.6 L854.6 1653.6 L855.1 1655.0 L855.5 1655.9 L856.0 1656.1 L856.4 1653.9 L856.9 1654.8 L857.3 1655.9 L857.8 1655.2 L858.2 1656.2 L858.7 1654.3 L859.1 1654.9 L859.6 1654.2 L860.0 1656.5 L860.5 1656.1 L861.3 1656.2 L862.1 1656.3 L862.9 1655.9 L863.7 1655.9 L864.5 1656.8 L865.3 1656.5 L866.1 1656.0 L866.9 1656.9 L867.7 1657.1 L868.5 1656.4 L869.3 1657.0 L870.1 1656.3 L870.9 1656.7 L871.7 1657.2 L872.5 1656.8 L873.3 1657.0 L874.1 1656.6 L874.9 1657.4 L875.7 1657.1 L876.5 1656.9 L877.3 1657.5 L878.1 1657.8 L878.9 1657.4 L879.7 1657.6 L880.5 1657.9 L881.3 1657.0 L882.1 1657.7 L882.9 1658.1 L883.7 1657.3 L884.5 1657.5 L885.3 1657.8 L886.1 1658.1 L886.9 1658.0 L887.7 1658.0 L888.5 1657.6 L889.3 1658.3 L890.1 1657.9 L890.9 1657.7 L891.7 1658.7 L892.5 1658.4 L893.3 1658.3 L894.1 1658.6 L894.9 1658.4 L895.7 1658.1 L896.5 1658.7 L897.3 1658.9 L898.1 1658.9 L898.9 1658.8 L899.7 1659.2 L950.0 1659.2 L1126.4 1659.3" fill="none" stroke="#d9413d" stroke-width="0.85" stroke-linejoin="round" stroke-opacity="1.0"/>
<g transform="translate(0.00,1753.60)">
<text transform="translate(288.9,9.8) scale(0.99,1)" font-size="10.0" font-weight="bold" style="stroke:none" text-anchor="middle" fill="#111">Predicted niche occupancy</text>
<rect x="21.5" y="27.5" width="534.8" height="328.8" fill="none" stroke="#4d5257" stroke-width="1"/>
<text transform="translate(41.20,375.4) scale(0.905,1)" font-size="9.6" text-anchor="middle" fill="#111">0</text>
<text transform="translate(165.58,375.4) scale(0.905,1)" font-size="9.6" text-anchor="middle" fill="#111">50</text>
<text transform="translate(289.95,375.4) scale(0.905,1)" font-size="9.6" text-anchor="middle" fill="#111">100</text>
<text transform="translate(414.33,375.4) scale(0.905,1)" font-size="9.6" text-anchor="middle" fill="#111">150</text>
<text transform="translate(538.70,375.4) scale(0.905,1)" font-size="9.6" text-anchor="middle" fill="#111">200</text>
<text transform="translate(8.9,344.10) rotate(-90) scale(0.905,1)" font-size="9.6" text-anchor="middle" fill="#111">0.00</text>
<text transform="translate(8.9,287.64) rotate(-90) scale(0.905,1)" font-size="9.6" text-anchor="middle" fill="#111">0.02</text>
<text transform="translate(8.9,231.18) rotate(-90) scale(0.905,1)" font-size="9.6" text-anchor="middle" fill="#111">0.04</text>
<text transform="translate(8.9,174.72) rotate(-90) scale(0.905,1)" font-size="9.6" text-anchor="middle" fill="#111">0.06</text>
<text transform="translate(8.9,118.26) rotate(-90) scale(0.905,1)" font-size="9.6" text-anchor="middle" fill="#111">0.08</text>
<text transform="translate(8.9,61.80) rotate(-90) scale(0.905,1)" font-size="9.6" text-anchor="middle" fill="#111">0.10</text>
<path d="M41.20 356.3V361.60M165.58 356.3V361.60M289.95 356.3V361.60M414.33 356.3V361.60M538.70 356.3V361.60M16.20 344.10H21.5M16.20 287.64H21.5M16.20 231.18H21.5M16.20 174.72H21.5M16.20 118.26H21.5M16.20 61.80H21.5" stroke="#4d5257" stroke-width="1" fill="none"/>
<text transform="translate(288.9,395.8) scale(0.905,1)" font-size="9.6" text-anchor="middle" fill="#111">bio14</text>
</g>
<path d="M41.3 1793.2 L42.5 1900.0 L43.4 1951.3 L46.1 1968.0 L48.6 1993.1 L51.0 2005.6 L54.5 2016.8 L58.7 2029.3 L63.6 2028.6 L67.0 2034.9 L73.3 2034.9 L78.2 2046.0 L87.9 2049.5 L94.9 2057.2 L100.5 2056.5 L108.8 2064.8 L116.5 2069.7 L124.1 2069.4 L129.7 2072.5 L142.2 2078.7 L152.0 2082.9 L157.6 2082.5 L170.1 2087.1 L179.8 2088.5 L188.6 2090.1 L193.4 2089.1 L203.0 2090.7 L212.5 2089.7 L224.0 2091.4 L245.1 2094.3 L266.2 2095.8 L294.9 2096.8 L333.2 2097.4 L400.0 2097.8 L536.5 2097.7" fill="none" stroke="#d4504e" stroke-width="1.0" stroke-linejoin="round" stroke-opacity="1.0"/>
<g transform="translate(589.85,1753.60)">
<text transform="translate(288.9,9.8) scale(0.99,1)" font-size="10.0" font-weight="bold" style="stroke:none" text-anchor="middle" fill="#111">Predicted niche occupancy</text>
<rect x="21.5" y="27.5" width="534.8" height="328.8" fill="none" stroke="#4d5257" stroke-width="1"/>
<text transform="translate(40.95,375.4) scale(0.905,1)" font-size="9.6" text-anchor="middle" fill="#111">0</text>
<text transform="translate(134.32,375.4) scale(0.905,1)" font-size="9.6" text-anchor="middle" fill="#111">50</text>
<text transform="translate(227.69,375.4) scale(0.905,1)" font-size="9.6" text-anchor="middle" fill="#111">100</text>
<text transform="translate(321.06,375.4) scale(0.905,1)" font-size="9.6" text-anchor="middle" fill="#111">150</text>
<text transform="translate(414.43,375.4) scale(0.905,1)" font-size="9.6" text-anchor="middle" fill="#111">200</text>
<text transform="translate(507.80,375.4) scale(0.905,1)" font-size="9.6" text-anchor="middle" fill="#111">250</text>
<text transform="translate(8.9,344.10) rotate(-90) scale(0.905,1)" font-size="9.6" text-anchor="middle" fill="#111">0.000</text>
<text transform="translate(8.9,273.98) rotate(-90) scale(0.905,1)" font-size="9.6" text-anchor="middle" fill="#111">0.005</text>
<text transform="translate(8.9,203.85) rotate(-90) scale(0.905,1)" font-size="9.6" text-anchor="middle" fill="#111">0.010</text>
<text transform="translate(8.9,133.73) rotate(-90) scale(0.905,1)" font-size="9.6" text-anchor="middle" fill="#111">0.015</text>
<text transform="translate(8.9,63.60) rotate(-90) scale(0.905,1)" font-size="9.6" text-anchor="middle" fill="#111">0.020</text>
<path d="M40.95 356.3V361.60M134.32 356.3V361.60M227.69 356.3V361.60M321.06 356.3V361.60M414.43 356.3V361.60M507.80 356.3V361.60M16.20 344.10H21.5M16.20 273.98H21.5M16.20 203.85H21.5M16.20 133.73H21.5M16.20 63.60H21.5" stroke="#4d5257" stroke-width="1" fill="none"/>
<text transform="translate(288.9,395.8) scale(0.905,1)" font-size="9.6" text-anchor="middle" fill="#111">bio15</text>
</g>
<path d="M630.7 2097.8 L643.2 2097.8 L648.9 2095.9 L651.8 2093.2 L655.3 2091.3 L660.4 2093.6 L666.2 2092.1 L668.7 2085.9 L671.0 2068.7 L675.7 2059.1 L681.5 2038.5 L683.4 2041.5 L687.2 2032.7 L692.0 2024.7 L696.8 2005.5 L698.7 1988.3 L700.6 1962.0 L701.9 1953.0 L704.1 1948.1 L705.6 1938.4 L707.4 1918.9 L709.2 1915.9 L711.1 1927.4 L713.1 1929.9 L715.0 1904.9 L716.8 1906.1 L718.7 1899.4 L720.8 1884.8 L722.4 1884.8 L725.1 1871.4 L726.9 1865.9 L728.5 1867.1 L730.0 1870.8 L731.8 1839.7 L733.6 1850.1 L735.4 1843.4 L737.5 1793.4 L739.5 1812.9 L742.8 1828.7 L746.4 1858.0 L748.5 1857.4 L750.7 1876.3 L752.9 1880.5 L754.6 1882.4 L756.2 1887.2 L757.7 1900.6 L759.8 1866.5 L761.4 1867.1 L763.7 1838.5 L765.3 1921.3 L767.5 1931.1 L769.6 1928.7 L771.1 1932.9 L773.2 1917.1 L774.8 1923.2 L776.6 1914.6 L778.7 1928.7 L781.1 1945.7 L782.4 1954.8 L784.9 1951.9 L787.7 1953.8 L789.7 1961.5 L793.1 1963.8 L797.3 1952.9 L800.8 1951.0 L803.1 1971.1 L806.9 1989.2 L810.3 1989.2 L813.6 1994.0 L818.0 2009.7 L819.3 2008.4 L821.2 1988.3 L824.1 2003.6 L827.9 2012.2 L833.7 2020.5 L836.0 2018.5 L839.4 2029.5 L842.3 2040.4 L845.4 2059.2 L847.5 2067.6 L851.2 2071.8 L853.8 2079.1 L857.5 2086.4 L860.6 2090.4 L863.0 2090.6 L867.4 2093.7 L874.7 2096.3 L882.0 2097.4 L955.0 2098.1 L1126.4 2097.8" fill="none" stroke="#d4504e" stroke-width="1.0" stroke-linejoin="round" stroke-opacity="1.0"/>
<g transform="translate(0.00,2192.00)">
<text transform="translate(288.9,9.8) scale(0.99,1)" font-size="10.0" font-weight="bold" style="stroke:none" text-anchor="middle" fill="#111">Predicted niche occupancy</text>
<rect x="21.5" y="27.5" width="534.8" height="328.8" fill="none" stroke="#4d5257" stroke-width="1"/>
<text transform="translate(41.20,375.4) scale(0.905,1)" font-size="9.6" text-anchor="middle" fill="#111">0</text>
<text transform="translate(118.75,375.4) scale(0.905,1)" font-size="9.6" text-anchor="middle" fill="#111">200</text>
<text transform="translate(196.30,375.4) scale(0.905,1)" font-size="9.6" text-anchor="middle" fill="#111">400</text>
<text transform="translate(273.85,375.4) scale(0.905,1)" font-size="9.6" text-anchor="middle" fill="#111">600</text>
<text transform="translate(351.40,375.4) scale(0.905,1)" font-size="9.6" text-anchor="middle" fill="#111">800</text>
<text transform="translate(428.95,375.4) scale(0.905,1)" font-size="9.6" text-anchor="middle" fill="#111">1000</text>
<text transform="translate(506.50,375.4) scale(0.905,1)" font-size="9.6" text-anchor="middle" fill="#111">1200</text>
<text transform="translate(8.9,344.10) rotate(-90) scale(0.905,1)" font-size="9.6" text-anchor="middle" fill="#111">0.0000</text>
<text transform="translate(8.9,286.86) rotate(-90) scale(0.905,1)" font-size="9.6" text-anchor="middle" fill="#111">0.0005</text>
<text transform="translate(8.9,229.62) rotate(-90) scale(0.905,1)" font-size="9.6" text-anchor="middle" fill="#111">0.0010</text>
<text transform="translate(8.9,172.38) rotate(-90) scale(0.905,1)" font-size="9.6" text-anchor="middle" fill="#111">0.0015</text>
<text transform="translate(8.9,115.14) rotate(-90) scale(0.905,1)" font-size="9.6" text-anchor="middle" fill="#111">0.0020</text>
<text transform="translate(8.9,57.90) rotate(-90) scale(0.905,1)" font-size="9.6" text-anchor="middle" fill="#111">0.0025</text>
<path d="M41.20 356.3V361.60M118.75 356.3V361.60M196.30 356.3V361.60M273.85 356.3V361.60M351.40 356.3V361.60M428.95 356.3V361.60M506.50 356.3V361.60M16.20 344.10H21.5M16.20 286.86H21.5M16.20 229.62H21.5M16.20 172.38H21.5M16.20 115.14H21.5M16.20 57.90H21.5" stroke="#4d5257" stroke-width="1" fill="none"/>
<text transform="translate(288.9,395.8) scale(0.905,1)" font-size="9.6" text-anchor="middle" fill="#111">bio18</text>
</g>
<path d="M41.1 2527.6 L41.7 2530.3 L42.3 2533.4 L42.9 2533.4 L43.5 2533.4 L44.1 2532.7 L44.7 2533.3 L45.3 2533.5 L45.9 2532.8 L46.5 2532.8 L47.1 2532.9 L47.7 2533.3 L48.3 2532.7 L48.9 2533.1 L49.5 2533.1 L50.1 2533.7 L50.7 2533.0 L51.3 2533.9 L51.9 2533.5 L52.5 2532.8 L53.1 2533.7 L53.7 2533.2 L54.3 2532.8 L54.9 2531.6 L55.5 2531.4 L56.1 2530.9 L56.7 2529.8 L57.3 2529.4 L57.9 2529.3 L58.5 2529.4 L59.1 2529.7 L59.7 2528.5 L60.3 2529.1 L60.9 2528.0 L61.5 2527.6 L62.1 2527.5 L62.7 2527.0 L63.3 2526.2 L63.9 2525.2 L64.5 2524.7 L65.1 2522.1 L65.7 2522.4 L66.3 2520.1 L66.9 2520.3 L67.5 2516.8 L68.1 2517.1 L68.7 2515.9 L69.3 2513.6 L69.9 2512.3 L70.5 2513.1 L71.1 2512.2 L71.7 2509.2 L72.3 2509.6 L72.9 2506.4 L73.5 2502.8 L74.1 2502.2 L74.7 2503.3 L75.3 2502.4 L75.9 2501.1 L76.5 2494.3 L77.1 2492.8 L77.7 2485.2 L78.3 2477.5 L78.9 2476.1 L79.5 2475.0 L80.1 2476.4 L80.7 2474.2 L81.3 2467.8 L81.9 2471.6 L82.5 2468.1 L83.1 2462.0 L83.7 2465.6 L84.3 2457.9 L84.9 2456.2 L85.5 2462.0 L86.1 2462.3 L86.7 2466.3 L87.3 2466.3 L87.9 2468.2 L88.5 2469.7 L89.1 2465.3 L89.7 2465.9 L90.3 2455.2 L90.9 2458.3 L91.5 2458.2 L92.1 2456.0 L92.7 2458.1 L93.3 2450.3 L93.9 2451.1 L94.5 2446.6 L95.1 2443.9 L95.7 2437.0 L96.3 2432.9 L96.9 2432.5 L97.5 2430.6 L98.1 2423.3 L98.7 2424.0 L99.3 2418.1 L99.9 2421.8 L100.5 2416.8 L101.1 2426.1 L101.7 2418.6 L102.3 2428.9 L102.9 2431.0 L103.5 2421.3 L104.1 2428.0 L104.7 2423.9 L105.3 2417.0 L105.9 2415.2 L106.5 2405.6 L107.1 2405.6 L107.7 2401.1 L108.3 2399.3 L108.9 2395.5 L109.5 2390.3 L110.1 2390.2 L110.7 2387.2 L111.3 2382.4 L111.9 2376.6 L112.5 2379.7 L113.1 2371.4 L113.7 2373.5 L114.3 2371.6 L114.9 2363.8 L115.5 2373.4 L116.1 2371.1 L116.7 2362.4 L117.3 2366.9 L117.9 2367.5 L118.5 2370.8 L119.1 2362.0 L119.7 2372.7 L120.3 2361.9 L120.9 2366.4 L121.5 2362.5 L122.1 2361.2 L122.7 2371.5 L123.3 2363.9 L123.9 2368.8 L124.5 2361.7 L125.1 2359.9 L125.7 2363.7 L126.3 2354.7 L126.9 2359.5 L127.5 2356.2 L128.1 2351.1 L128.7 2358.7 L129.3 2352.7 L129.9 2356.4 L130.5 2355.0 L131.1 2347.3 L131.7 2347.3 L132.3 2354.1 L132.9 2351.6 L133.5 2349.7 L134.1 2336.9 L134.7 2350.8 L135.3 2334.3 L135.9 2337.1 L136.5 2331.8 L137.1 2321.7 L137.7 2329.6 L138.3 2325.7 L138.9 2322.4 L139.5 2304.7 L140.1 2318.4 L140.7 2313.7 L141.3 2304.6 L141.9 2309.0 L142.5 2303.2 L143.1 2301.7 L143.7 2300.6 L144.3 2302.0 L144.9 2309.6 L145.5 2307.0 L146.1 2308.9 L146.7 2305.0 L147.3 2301.1 L147.9 2295.9 L148.5 2284.5 L149.1 2297.3 L149.7 2307.1 L150.3 2280.3 L150.9 2296.3 L151.5 2280.9 L152.1 2274.3 L152.7 2269.2 L153.3 2265.0 L153.9 2265.3 L154.5 2263.0 L155.1 2262.2 L155.7 2255.7 L156.3 2270.7 L156.9 2262.1 L157.5 2262.9 L158.1 2263.1 L158.7 2263.2 L159.3 2271.9 L159.9 2272.7 L160.5 2264.9 L161.1 2264.6 L161.7 2282.4 L162.3 2280.1 L162.9 2272.2 L163.5 2283.9 L164.1 2283.2 L164.7 2297.2 L165.3 2280.0 L165.9 2286.4 L166.5 2296.0 L167.1 2282.2 L167.7 2298.6 L168.3 2305.3 L168.9 2300.7 L169.5 2292.6 L170.1 2281.2 L170.7 2287.1 L171.3 2276.0 L171.9 2286.0 L172.5 2275.5 L173.1 2261.8 L173.7 2273.0 L174.3 2276.4 L174.9 2273.7 L175.5 2262.0 L176.1 2274.3 L176.7 2269.2 L177.3 2268.8 L177.9 2267.0 L178.5 2274.0 L179.1 2274.2 L179.7 2272.4 L180.3 2274.0 L180.9 2268.8 L181.5 2259.5 L182.1 2243.7 L182.7 2254.5 L183.3 2250.6 L183.9 2253.2 L184.5 2257.1 L185.1 2242.8 L185.7 2260.6 L186.3 2254.6 L186.9 2272.7 L187.5 2274.7 L188.1 2277.0 L188.7 2288.8 L189.3 2298.2 L189.9 2301.2 L190.5 2307.8 L191.1 2318.7 L191.7 2315.8 L192.3 2314.3 L192.9 2329.2 L193.5 2325.7 L194.1 2351.8 L194.7 2332.1 L195.3 2333.2 L195.9 2339.8 L196.5 2338.9 L197.1 2337.3 L197.7 2356.3 L198.3 2339.3 L198.9 2331.8 L199.5 2350.3 L200.1 2351.6 L200.7 2364.4 L201.3 2351.4 L201.9 2349.8 L202.5 2358.1 L203.1 2345.0 L203.7 2332.5 L204.3 2346.6 L204.9 2344.2 L205.5 2340.2 L206.1 2344.5 L206.7 2355.1 L207.3 2339.1 L207.9 2350.7 L208.5 2350.8 L209.1 2352.0 L209.7 2352.8 L210.3 2329.8 L210.9 2335.5 L211.5 2343.7 L212.1 2333.2 L212.7 2322.1 L213.3 2335.2 L213.9 2320.2 L214.5 2312.5 L215.1 2314.9 L215.7 2333.4 L216.3 2309.4 L216.9 2307.0 L217.5 2304.4 L218.1 2299.8 L218.7 2297.3 L219.3 2303.1 L219.9 2291.5 L220.5 2301.8 L221.1 2289.2 L221.7 2300.8 L222.3 2289.7 L222.9 2295.8 L223.5 2297.3 L224.1 2297.3 L224.7 2304.3 L225.3 2312.1 L225.9 2305.7 L226.5 2293.7 L227.1 2290.3 L227.7 2297.7 L228.3 2288.2 L228.9 2273.8 L229.5 2285.4 L230.1 2283.0 L230.7 2278.3 L231.3 2269.7 L231.9 2283.5 L232.5 2285.2 L233.1 2288.0 L233.7 2286.8 L234.3 2274.1 L234.9 2297.6 L235.5 2278.1 L236.1 2284.0 L236.7 2287.4 L237.3 2300.5 L237.9 2281.3 L238.5 2280.7 L239.1 2281.3 L239.7 2270.3 L240.3 2289.3 L240.9 2303.4 L241.5 2315.1 L242.1 2312.9 L242.7 2323.0 L243.3 2327.0 L243.9 2335.4 L244.5 2330.1 L245.1 2352.8 L245.7 2354.9 L246.3 2350.3 L246.9 2353.7 L247.5 2350.0 L248.1 2356.4 L248.7 2367.6 L249.3 2364.7 L249.9 2368.2 L250.5 2356.8 L251.1 2352.5 L251.7 2369.5 L252.3 2372.2 L252.9 2386.5 L253.5 2382.5 L254.1 2387.4 L254.7 2395.3 L255.3 2399.4 L255.9 2399.6 L256.5 2390.9 L257.1 2397.6 L257.7 2392.6 L258.3 2402.4 L258.9 2418.7 L259.5 2398.4 L260.1 2397.5 L260.7 2382.7 L261.3 2388.4 L261.9 2389.7 L262.5 2381.6 L263.1 2402.5 L263.7 2376.5 L264.3 2375.4 L264.9 2386.1 L265.5 2389.6 L266.1 2386.1 L266.7 2381.6 L267.3 2374.4 L267.9 2392.9 L268.5 2370.8 L269.1 2379.6 L269.7 2396.0 L270.3 2407.1 L270.9 2416.9 L271.5 2418.5 L272.1 2423.2 L272.7 2442.3 L273.3 2452.3 L273.9 2459.7 L274.5 2467.8 L275.1 2469.4 L275.7 2466.3 L276.3 2458.6 L276.9 2468.1 L277.5 2465.8 L278.1 2467.6 L278.7 2477.0 L279.3 2466.6 L279.9 2467.5 L280.5 2476.3 L281.1 2467.2 L281.7 2471.3 L282.3 2464.8 L282.9 2467.7 L283.5 2468.2 L284.1 2470.9 L284.7 2465.1 L285.3 2468.2 L285.9 2470.6 L286.5 2471.8 L287.1 2470.8 L287.7 2469.7 L288.3 2469.5 L288.9 2478.0 L289.5 2466.6 L290.1 2468.6 L290.7 2469.2 L291.3 2467.5 L291.9 2468.5 L292.5 2474.1 L293.1 2471.4 L293.7 2486.3 L294.3 2464.7 L294.9 2472.6 L295.5 2470.3 L296.1 2492.3 L296.7 2483.2 L297.3 2469.4 L297.9 2473.4 L298.5 2476.6 L299.1 2471.6 L299.7 2472.9 L300.3 2484.7 L300.9 2485.6 L301.5 2467.0 L302.1 2474.8 L302.7 2483.6 L303.3 2465.7 L303.9 2476.0 L304.5 2472.4 L305.1 2461.8 L305.7 2476.5 L306.3 2462.3 L306.9 2467.9 L307.5 2474.4 L308.1 2471.2 L308.7 2493.7 L309.3 2490.4 L309.9 2454.1 L310.5 2463.9 L311.1 2474.3 L311.7 2459.4 L312.3 2463.1 L312.9 2467.5 L313.5 2474.3 L314.1 2463.5 L314.7 2463.3 L315.3 2463.0 L315.9 2468.3 L316.5 2462.9 L317.1 2466.4 L317.7 2479.7 L318.3 2470.7 L318.9 2466.1 L319.5 2479.7 L320.1 2489.4 L320.7 2477.0 L321.3 2473.3 L321.9 2469.4 L322.5 2491.9 L323.1 2481.7 L323.7 2483.9 L324.3 2485.2 L324.9 2492.6 L325.5 2478.9 L326.1 2474.7 L326.7 2489.4 L327.3 2494.1 L327.9 2497.5 L328.5 2498.1 L329.1 2491.3 L329.7 2487.8 L330.3 2500.2 L330.9 2482.1 L331.5 2482.9 L332.1 2487.3 L332.7 2493.4 L333.3 2495.6 L333.9 2495.1 L334.5 2493.7 L335.1 2495.9 L335.7 2472.5 L336.3 2495.6 L336.9 2491.6 L337.5 2493.1 L338.1 2500.6 L338.7 2499.2 L339.3 2483.0 L339.9 2500.9 L340.5 2480.3 L341.1 2490.3 L341.7 2495.2 L342.3 2494.9 L342.9 2488.9 L343.5 2485.1 L344.1 2488.3 L344.7 2492.4 L345.3 2486.3 L345.9 2490.0 L346.5 2495.0 L347.1 2497.3 L347.7 2497.3 L348.3 2494.7 L348.9 2485.3 L349.5 2495.4 L350.1 2496.4 L350.7 2504.1 L351.3 2494.5 L351.9 2497.7 L352.5 2496.2 L353.1 2504.1 L353.7 2501.4 L354.3 2503.7 L354.9 2506.9 L355.5 2502.8 L356.1 2498.5 L356.7 2512.7 L357.3 2507.5 L357.9 2513.0 L358.5 2510.1 L359.1 2512.8 L359.7 2509.3 L360.3 2508.3 L360.9 2509.1 L361.5 2512.5 L362.1 2511.7 L362.7 2513.5 L363.3 2505.5 L363.9 2510.9 L364.5 2512.2 L365.1 2511.5 L365.7 2513.5 L366.3 2510.4 L366.9 2513.7 L367.5 2509.0 L368.1 2515.2 L368.7 2515.3 L369.3 2514.0 L369.9 2514.7 L370.5 2507.9 L371.1 2514.2 L371.7 2498.7 L372.3 2509.8 L372.9 2521.4 L373.5 2514.7 L374.1 2503.8 L374.7 2505.6 L375.3 2503.7 L375.9 2511.8 L376.5 2506.7 L377.1 2511.6 L377.7 2514.8 L378.3 2510.0 L378.9 2504.5 L379.5 2507.7 L380.1 2512.9 L380.7 2505.0 L381.3 2509.4 L381.9 2508.4 L382.5 2514.1 L383.1 2508.0 L383.7 2508.0 L384.3 2511.0 L384.9 2510.0 L385.5 2507.8 L386.1 2509.1 L386.7 2509.1 L387.3 2505.6 L387.9 2515.0 L388.5 2511.3 L389.1 2508.5 L389.7 2507.6 L390.3 2515.8 L390.9 2513.2 L391.5 2515.4 L392.1 2516.3 L392.7 2508.1 L393.3 2516.8 L393.9 2513.6 L394.5 2516.0 L395.1 2512.2 L395.7 2513.7 L396.3 2511.8 L396.9 2518.4 L397.5 2518.2 L398.1 2516.7 L398.7 2513.1 L399.3 2513.1 L399.9 2523.5 L400.5 2515.9 L401.1 2518.0 L401.7 2515.0 L402.3 2516.3 L402.9 2518.3 L403.5 2518.7 L404.1 2522.8 L404.7 2518.8 L405.3 2523.8 L405.9 2521.0 L406.5 2522.1 L407.1 2521.2 L407.7 2521.4 L408.3 2522.2 L408.9 2523.2 L409.5 2521.3 L410.1 2523.1 L410.7 2517.6 L411.3 2521.0 L411.9 2525.4 L412.5 2517.0 L413.1 2521.9 L413.7 2521.6 L414.3 2518.5 L414.9 2523.2 L415.5 2522.8 L416.1 2525.6 L416.7 2524.5 L417.3 2522.6 L417.9 2515.0 L418.5 2522.9 L419.1 2524.1 L419.7 2523.1 L420.3 2521.0 L420.9 2522.4 L421.5 2516.3 L422.1 2518.8 L422.7 2523.6 L423.3 2522.9 L423.9 2523.0 L424.5 2521.0 L425.1 2518.0 L425.7 2521.5 L426.3 2518.9 L426.9 2520.2 L427.5 2521.4 L428.1 2516.7 L428.7 2514.6 L429.3 2520.7 L429.9 2520.6 L430.5 2529.2 L431.1 2522.1 L431.7 2522.5 L432.3 2523.3 L432.9 2520.5 L433.5 2521.0 L434.1 2527.0 L434.7 2521.9 L435.3 2523.1 L435.9 2524.5 L436.5 2523.4 L437.1 2522.1 L437.7 2528.0 L438.3 2528.9 L438.9 2523.5 L439.5 2524.2 L440.1 2526.1 L440.7 2523.1 L441.3 2530.1 L441.9 2523.9 L442.5 2527.1 L443.1 2525.2 L443.7 2527.9 L444.3 2525.2 L444.9 2526.7 L445.5 2526.1 L446.1 2529.3 L446.7 2527.3 L447.3 2529.3 L447.9 2525.7 L448.5 2529.1 L449.1 2528.0 L449.7 2529.5 L450.3 2529.1 L450.9 2525.8 L451.5 2525.2 L452.1 2526.1 L452.7 2527.1 L453.3 2526.8 L453.9 2527.0 L454.5 2526.2 L455.1 2526.3 L455.7 2524.5 L456.3 2529.4 L456.9 2529.7 L457.5 2527.4 L458.1 2527.4 L458.7 2527.1 L459.3 2533.6 L459.9 2530.0 L460.5 2527.5 L461.1 2527.7 L461.7 2529.3 L462.3 2531.6 L462.9 2531.5 L463.5 2530.7 L464.1 2531.3 L464.7 2531.6 L465.3 2529.3 L465.9 2528.9 L466.5 2532.1 L467.1 2528.7 L467.7 2529.7 L468.3 2531.7 L468.9 2530.5 L469.5 2528.4 L470.1 2531.9 L470.7 2532.2 L471.3 2529.9 L471.9 2534.5 L472.5 2528.8 L473.1 2525.6 L473.7 2529.7 L474.3 2530.6 L474.9 2531.0 L475.5 2529.4 L476.1 2526.9 L476.7 2530.1 L477.3 2529.0 L477.9 2527.3 L478.5 2528.8 L479.1 2529.2 L479.7 2528.7 L480.3 2527.9 L480.9 2524.9 L481.5 2526.0 L482.1 2525.0 L482.7 2524.7 L483.3 2525.7 L483.9 2524.4 L484.5 2525.8 L485.1 2523.4 L485.7 2522.5 L486.3 2526.1 L486.9 2523.2 L487.5 2529.6 L488.1 2526.5 L488.7 2526.7 L489.3 2526.7 L489.9 2525.8 L490.5 2526.2 L491.1 2523.2 L491.7 2526.8 L492.3 2528.4 L492.9 2527.6 L493.5 2532.1 L494.1 2531.5 L494.7 2530.9 L495.3 2528.0 L495.9 2531.6 L496.5 2532.7 L497.1 2530.8 L497.7 2530.8 L498.3 2533.6 L498.9 2532.9 L499.5 2532.8 L500.1 2530.9 L500.7 2532.7 L501.3 2530.2 L501.9 2530.5 L502.5 2532.8 L503.1 2531.7 L503.7 2531.4 L504.3 2532.5 L504.9 2528.8 L505.5 2533.8 L506.1 2533.3 L506.7 2530.6 L507.3 2532.0 L507.9 2531.3 L508.5 2530.5 L509.1 2532.3 L509.7 2533.9 L510.3 2531.6 L510.9 2532.2 L511.5 2532.4 L512.1 2530.9 L512.7 2533.7 L513.3 2534.6 L513.9 2532.3 L514.5 2534.3 L515.1 2530.0 L515.7 2531.7 L516.3 2533.1 L516.9 2531.6 L517.5 2533.7 L518.1 2533.4 L518.7 2530.9 L519.3 2532.7 L519.9 2530.1 L520.5 2533.2 L521.1 2530.4 L521.7 2533.4 L522.3 2533.0 L522.9 2529.1 L523.5 2531.0 L524.1 2534.6 L524.7 2528.7 L525.3 2532.4 L525.9 2529.3 L526.5 2530.0 L527.1 2527.2 L527.7 2527.2 L528.3 2530.3 L528.9 2526.5 L529.5 2529.9 L530.1 2531.1 L530.7 2528.4 L531.3 2526.6 L531.9 2530.3 L532.5 2531.3 L533.1 2530.8 L533.7 2531.6 L534.3 2531.8 L534.9 2533.4 L535.5 2533.6 L536.1 2534.2" fill="none" stroke="#d6362f" stroke-width="0.85" stroke-linejoin="round" stroke-opacity="1.0"/>
<path d="M184.6 2250.0 L184.8 2231.3 L185.0 2252.0" fill="none" stroke="#dc3b37" stroke-width="0.7" stroke-linejoin="round" stroke-opacity="1.0"/>
<path d="M229.9 2280.0 L230.1 2257.5 L230.3 2280.0" fill="none" stroke="#dc3b37" stroke-width="0.7" stroke-linejoin="round" stroke-opacity="1.0"/>
<path d="M312.4 2462.0 L312.6 2453.0 L312.8 2465.0" fill="none" stroke="#dc3b37" stroke-width="0.7" stroke-linejoin="round" stroke-opacity="1.0"/>
<path d="M335.7 2485.0 L335.9 2515.0 L336.1 2488.0" fill="none" stroke="#dc3b37" stroke-width="0.7" stroke-linejoin="round" stroke-opacity="1.0"/>
<g transform="translate(589.85,2192.00)">
<text transform="translate(288.9,9.8) scale(0.99,1)" font-size="10.0" font-weight="bold" style="stroke:none" text-anchor="middle" fill="#111">Predicted niche occupancy</text>
<rect x="21.5" y="27.5" width="534.8" height="328.8" fill="none" stroke="#4d5257" stroke-width="1"/>
<text transform="translate(40.95,375.4) scale(0.905,1)" font-size="9.6" text-anchor="middle" fill="#111">0</text>
<text transform="translate(123.71,375.4) scale(0.905,1)" font-size="9.6" text-anchor="middle" fill="#111">500</text>
<text transform="translate(206.47,375.4) scale(0.905,1)" font-size="9.6" text-anchor="middle" fill="#111">1000</text>
<text transform="translate(289.23,375.4) scale(0.905,1)" font-size="9.6" text-anchor="middle" fill="#111">1500</text>
<text transform="translate(371.98,375.4) scale(0.905,1)" font-size="9.6" text-anchor="middle" fill="#111">2000</text>
<text transform="translate(454.74,375.4) scale(0.905,1)" font-size="9.6" text-anchor="middle" fill="#111">2500</text>
<text transform="translate(537.50,375.4) scale(0.905,1)" font-size="9.6" text-anchor="middle" fill="#111">3000</text>
<text transform="translate(8.9,344.10) rotate(-90) scale(0.905,1)" font-size="9.6" text-anchor="middle" fill="#111">0.000</text>
<text transform="translate(8.9,297.45) rotate(-90) scale(0.905,1)" font-size="9.6" text-anchor="middle" fill="#111">0.002</text>
<text transform="translate(8.9,250.80) rotate(-90) scale(0.905,1)" font-size="9.6" text-anchor="middle" fill="#111">0.004</text>
<text transform="translate(8.9,204.15) rotate(-90) scale(0.905,1)" font-size="9.6" text-anchor="middle" fill="#111">0.006</text>
<text transform="translate(8.9,157.50) rotate(-90) scale(0.905,1)" font-size="9.6" text-anchor="middle" fill="#111">0.008</text>
<text transform="translate(8.9,110.85) rotate(-90) scale(0.905,1)" font-size="9.6" text-anchor="middle" fill="#111">0.010</text>
<text transform="translate(8.9,64.20) rotate(-90) scale(0.905,1)" font-size="9.6" text-anchor="middle" fill="#111">0.012</text>
<path d="M40.95 356.3V361.60M123.71 356.3V361.60M206.47 356.3V361.60M289.23 356.3V361.60M371.98 356.3V361.60M454.74 356.3V361.60M537.50 356.3V361.60M16.20 344.10H21.5M16.20 297.45H21.5M16.20 250.80H21.5M16.20 204.15H21.5M16.20 157.50H21.5M16.20 110.85H21.5M16.20 64.20H21.5" stroke="#4d5257" stroke-width="1" fill="none"/>
<text transform="translate(288.9,395.8) scale(0.905,1)" font-size="9.6" text-anchor="middle" fill="#111">bio19</text>
</g>
<path d="M630.9 2408.4 L631.9 2231.3 L631.6 2260.0 L631.8 2313.6 L632.6 2320.5 L633.3 2321.4 L633.6 2355.0 L634.0 2323.0 L634.5 2396.6 L634.5 2396.2" fill="none" stroke="#d94a46" stroke-width="0.9" stroke-linejoin="round" stroke-opacity="1.0"/>
<path d="M634.5 2396.2 L635.0 2403.7 L635.4 2408.6 L635.9 2418.8 L636.3 2430.5 L636.8 2438.7 L637.2 2441.7 L637.7 2442.9 L638.1 2446.5 L638.6 2448.7 L639.0 2450.2 L639.5 2454.5 L639.9 2457.1 L640.4 2459.9 L640.8 2462.0 L641.3 2463.9 L641.7 2465.7 L642.2 2467.2 L642.6 2466.4 L643.1 2466.6 L643.5 2467.8 L644.0 2472.0 L644.4 2476.7 L644.9 2481.3 L645.3 2484.5 L645.8 2486.5 L646.2 2486.5 L646.7 2487.3 L647.1 2486.9 L647.6 2487.0 L648.0 2488.5 L648.5 2489.6 L648.9 2491.4 L649.4 2491.9 L649.8 2493.4 L650.3 2496.1 L650.7 2496.3 L651.2 2499.3 L651.6 2498.9 L652.1 2500.8 L652.5 2501.5 L653.0 2502.4 L653.4 2503.2 L653.9 2505.4 L654.3 2506.7 L654.8 2507.7 L655.2 2508.8 L655.7 2510.3 L656.1 2511.4 L656.6 2512.8 L657.0 2514.7 L657.5 2514.2 L657.9 2514.0 L658.4 2515.2 L658.8 2515.1 L659.3 2514.1 L659.7 2514.6 L660.2 2514.4 L660.6 2514.7 L661.1 2513.7 L661.5 2515.8 L662.0 2515.7 L662.4 2516.2 L662.9 2517.2 L663.3 2517.6 L663.8 2517.9 L664.2 2518.2 L664.7 2520.0 L665.1 2520.3 L665.6 2519.4 L666.0 2520.4 L666.5 2521.5 L666.9 2522.2 L667.4 2522.8 L667.8 2521.9 L668.3 2523.6 L668.7 2523.7 L669.2 2523.0 L669.6 2523.7 L670.1 2522.9 L670.5 2521.7 L671.0 2521.7 L671.4 2520.0 L671.9 2519.7 L672.3 2518.6 L672.8 2519.9 L673.2 2519.6 L673.7 2519.7 L674.1 2519.3 L674.6 2519.0 L675.0 2518.4 L675.5 2519.7 L675.9 2518.2 L676.4 2518.9 L676.8 2518.1 L677.3 2518.0 L677.7 2519.0 L678.2 2519.3 L678.6 2518.4 L679.1 2519.0 L679.5 2519.0 L680.0 2518.4 L680.4 2518.7 L680.9 2517.8 L681.3 2517.5 L681.8 2517.5 L682.2 2517.1 L682.7 2517.1 L683.1 2518.3 L683.6 2518.5 L684.0 2516.9 L684.5 2518.0 L684.9 2518.0 L685.4 2517.8 L685.8 2517.4 L686.3 2517.3 L686.7 2517.7 L687.2 2516.8 L687.6 2517.7 L688.1 2516.6 L688.5 2516.3 L689.0 2517.9 L689.4 2516.3 L689.9 2516.5 L690.3 2516.2 L690.8 2516.1 L691.2 2516.2 L691.7 2517.6 L692.1 2517.2 L692.6 2516.6 L693.0 2515.8 L693.5 2517.4 L693.9 2517.4 L694.4 2518.6 L694.8 2518.6 L695.3 2518.5 L695.7 2519.1 L696.2 2521.0 L696.6 2520.6 L697.1 2520.8 L697.5 2521.0 L698.0 2520.6 L698.4 2520.4 L698.9 2521.1 L699.3 2520.3 L699.8 2521.0 L700.2 2519.2 L700.7 2519.3 L701.1 2520.1 L701.6 2519.1 L702.0 2519.5 L702.5 2518.6 L702.9 2518.4 L703.4 2519.0 L703.8 2517.8 L704.3 2518.4 L704.7 2518.6 L705.2 2517.8 L705.6 2518.1 L706.1 2518.5 L706.5 2518.2 L707.0 2519.6 L707.4 2519.6 L707.9 2519.4 L708.3 2519.7 L708.8 2519.2 L709.2 2520.0 L709.7 2521.0 L710.1 2519.7 L710.6 2521.0 L711.0 2521.0 L711.5 2519.9 L711.9 2519.7 L712.4 2519.2 L712.8 2519.6 L713.3 2519.0 L713.7 2518.3 L714.2 2518.3 L714.6 2517.9 L715.1 2518.9 L715.5 2517.3 L716.0 2516.1 L716.4 2515.2 L716.9 2514.4 L717.3 2514.2 L717.8 2512.2 L718.2 2510.7 L718.7 2510.8 L719.1 2511.0 L719.6 2511.9 L720.0 2513.1 L720.5 2513.0 L720.9 2514.6 L721.4 2515.3 L721.8 2514.3 L722.3 2516.1 L722.7 2516.3 L723.2 2517.4 L723.6 2515.5 L724.1 2515.5 L724.5 2513.7 L725.0 2512.4 L725.4 2511.5 L725.9 2511.8 L726.3 2510.9 L726.8 2511.9 L727.2 2513.8 L727.7 2514.9 L728.1 2516.1 L728.6 2515.7 L729.0 2518.6 L729.5 2519.4 L729.9 2521.1 L730.4 2522.2 L730.8 2523.7 L731.3 2525.1 L731.7 2526.0 L732.2 2525.4 L732.6 2526.7 L733.1 2525.9 L733.5 2526.8 L734.0 2527.0 L734.4 2527.4 L734.9 2528.7 L735.3 2529.1 L735.8 2529.5 L736.2 2529.4 L736.7 2530.0 L737.1 2529.2 L737.6 2529.7 L738.0 2530.7 L738.5 2530.2 L738.9 2530.5 L739.4 2531.1 L739.8 2530.3 L740.3 2531.6 L740.7 2531.5 L741.2 2530.5 L741.6 2531.2 L742.1 2532.1 L742.5 2531.1 L743.0 2530.7 L743.4 2531.0 L743.9 2531.7 L744.3 2531.0 L744.8 2531.0 L745.2 2531.2 L745.7 2532.5 L746.1 2532.9 L746.6 2531.4 L747.0 2532.3 L747.5 2532.5 L747.9 2531.5 L748.4 2533.0 L748.8 2532.9 L749.3 2532.8 L749.7 2532.5 L750.2 2533.1 L750.6 2533.3 L751.1 2532.4 L751.5 2532.4 L752.0 2533.8 L752.4 2532.9 L752.9 2532.9 L753.3 2533.9 L753.8 2533.6 L754.2 2533.7 L754.7 2533.8 L755.1 2534.0 L755.6 2533.7 L756.0 2534.3 L756.5 2533.9 L756.9 2533.9 L757.4 2533.9 L757.8 2532.5 L758.3 2534.2 L758.7 2533.8 L759.2 2532.5 L759.6 2533.7 L760.1 2533.6 L760.5 2533.2 L761.0 2532.9 L761.4 2533.3 L761.9 2532.6 L762.3 2533.0 L762.8 2533.4 L763.2 2533.6 L763.7 2533.2 L764.1 2533.8 L764.6 2533.8 L765.0 2533.9 L765.5 2533.3 L765.9 2532.6 L766.4 2532.3 L766.8 2533.2 L767.3 2533.1 L767.7 2532.1 L768.2 2532.4 L768.6 2533.9 L769.1 2533.5 L769.5 2533.7 L770.0 2532.7 L770.4 2532.9 L770.9 2533.2 L771.3 2532.9 L771.8 2532.3 L772.2 2533.1 L772.7 2533.5 L773.1 2533.0 L773.6 2534.0 L774.0 2534.1 L774.5 2532.5 L774.9 2533.2 L775.4 2533.6 L775.8 2533.2 L776.3 2534.3 L776.7 2533.1 L777.2 2534.2 L777.6 2533.2 L778.1 2534.2 L778.5 2532.9 L779.0 2534.2 L779.4 2534.2 L779.9 2533.8 L780.3 2533.3 L780.8 2533.5 L781.2 2533.1 L781.7 2533.4 L782.1 2533.8 L782.6 2533.9 L783.0 2533.8 L783.5 2534.6 L783.9 2533.4 L784.4 2534.5 L784.8 2534.6 L785.3 2533.7 L785.7 2533.2 L786.2 2534.6 L786.6 2534.5 L787.1 2534.1 L787.5 2534.9 L788.0 2533.7 L788.4 2534.6 L788.9 2534.5 L789.3 2534.1 L789.8 2534.8 L790.2 2533.6 L790.7 2534.0 L791.1 2534.3 L791.6 2535.2 L792.0 2534.8 L792.5 2533.6 L792.9 2534.6 L793.4 2533.7 L793.8 2534.2 L794.3 2535.2 L794.7 2534.0 L795.2 2533.7 L795.6 2535.2 L796.1 2533.9 L796.5 2534.6 L797.0 2534.0 L797.4 2535.3 L797.9 2534.9 L798.3 2535.0 L798.8 2533.8 L799.2 2534.3 L799.7 2535.2 L800.1 2534.2 L800.6 2533.8 L801.0 2535.2 L801.5 2534.1 L801.9 2534.7 L802.4 2534.0 L802.8 2533.9 L803.3 2534.6 L803.7 2534.8 L804.2 2535.1 L804.6 2535.4 L805.1 2534.7 L805.5 2535.0 L806.0 2534.3 L806.4 2535.4 L806.9 2534.4 L807.3 2533.8 L807.8 2534.2 L808.2 2534.1 L808.7 2534.9 L809.1 2534.1 L809.6 2534.6 L810.0 2534.3 L810.5 2535.2 L810.9 2534.3 L811.4 2534.1 L811.8 2534.2 L812.3 2534.0 L812.7 2534.9 L813.2 2534.6 L813.6 2534.9 L814.1 2533.9 L814.5 2535.1 L815.0 2534.6 L815.4 2535.4 L815.9 2535.4 L816.3 2533.6 L816.8 2534.7 L817.2 2534.0 L817.7 2534.8 L818.1 2533.8 L818.6 2534.5 L819.0 2534.9 L819.5 2534.5 L819.9 2534.0 L820.4 2534.8 L820.8 2535.1 L821.3 2533.9 L821.7 2533.6 L822.2 2534.1 L822.6 2534.2 L823.1 2534.1 L823.5 2535.1 L824.0 2533.8 L824.4 2533.5 L824.9 2533.4 L825.3 2534.2 L825.8 2533.8 L826.2 2534.2 L826.7 2534.6 L827.1 2533.9 L827.6 2533.5 L828.0 2534.9 L828.5 2533.6 L828.9 2533.8 L829.4 2533.3 L829.8 2534.3 L830.3 2533.6 L830.7 2534.5 L831.2 2534.0 L831.6 2534.7 L832.1 2533.8 L832.5 2534.6 L833.0 2533.3 L833.4 2533.8 L833.9 2533.7 L834.3 2533.8 L834.8 2533.4 L835.2 2533.4 L835.7 2534.4 L836.1 2532.7 L836.6 2533.3 L837.0 2533.9 L837.5 2533.0 L837.9 2532.8 L838.4 2532.8 L838.8 2531.9 L839.3 2531.9 L839.7 2532.7 L840.2 2532.7 L840.6 2532.2 L841.1 2532.9 L841.5 2534.0 L842.0 2532.8 L842.4 2534.1 L842.9 2534.5 L843.3 2534.0 L843.8 2533.6 L844.2 2534.3 L844.7 2535.1 L845.1 2535.0 L845.6 2535.3 L846.0 2534.8 L846.5 2533.9 L846.9 2533.9 L847.4 2535.3 L847.8 2534.9 L848.3 2535.6 L848.7 2535.5 L849.2 2535.1 L849.6 2535.1 L850.1 2535.4 L850.5 2534.4 L851.0 2534.7 L851.4 2535.2 L851.9 2535.1 L852.3 2534.4 L852.8 2534.7 L853.2 2534.4 L853.7 2535.7 L854.1 2534.5 L854.6 2535.4 L855.0 2534.6 L855.5 2534.5 L855.9 2534.4 L856.4 2535.0 L856.8 2535.8 L857.3 2536.0 L857.7 2535.3 L858.2 2536.0 L858.6 2535.6 L859.1 2536.2 L859.5 2534.8 L860.0 2534.9 L869.3 2535.8 L930.0 2536.1 L1126.4 2536.1" fill="none" stroke="#d93e3a" stroke-width="1.1" stroke-linejoin="round" stroke-opacity="1.0"/>
</svg></body></html>
